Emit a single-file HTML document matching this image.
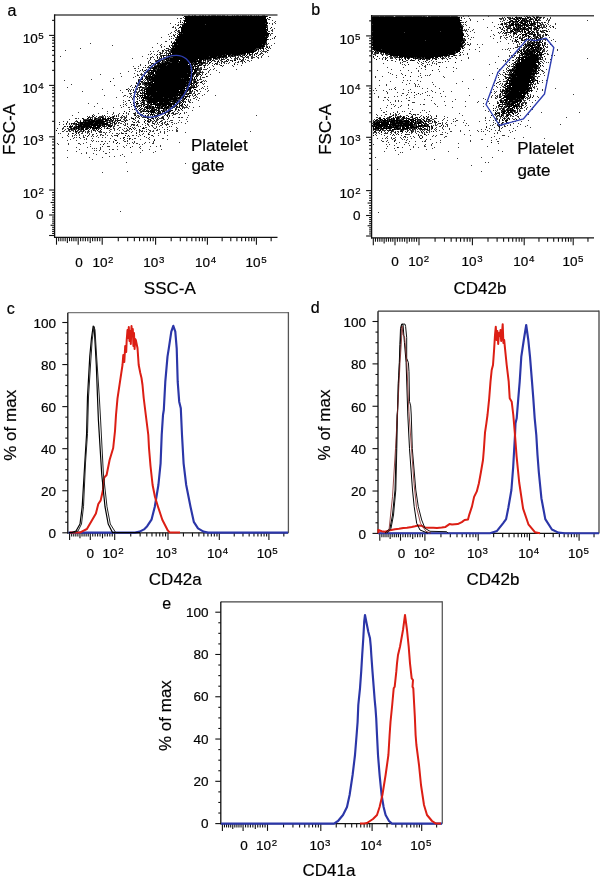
<!DOCTYPE html>
<html><head><meta charset="utf-8"><style>
html,body{margin:0;padding:0;background:#fff;width:600px;height:880px;overflow:hidden}
svg{display:block}
text{font-family:"Liberation Sans",sans-serif;fill:#000;stroke:#000;stroke-width:0.2px}
</style></head><body>
<svg width="600" height="880" viewBox="0 0 600 880">
<defs><filter id="gs" filterUnits="userSpaceOnUse" x="0" y="0" width="600" height="880"><feColorMatrix type="saturate" values="0"/></filter></defs>
<path fill="#000" d="M192 15h1v1h-1zM194 15h2v1h-2zM202 15h2v1h-2zM205 15h1v1h-1zM209 15h1v1h-1zM212 15h4v1h-4zM217 15h1v1h-1zM222 15h1v1h-1zM224 15h1v1h-1zM227 15h1v1h-1zM232 15h1v1h-1zM234 15h1v1h-1zM237 15h1v1h-1zM242 15h1v1h-1zM248 15h1v1h-1zM250 15h2v1h-2zM258 15h1v1h-1zM264 15h1v1h-1zM184 16h83v1h-83zM373 16h6v1h-6zM380 16h4v1h-4zM385 16h8v1h-8zM396 16h7v1h-7zM405 16h7v1h-7zM413 16h9v1h-9zM423 16h2v1h-2zM428 16h2v1h-2zM431 16h7v1h-7zM439 16h11v1h-11zM451 16h6v1h-6zM526 16h1v1h-1zM185 17h81v1h-81zM269 17h1v1h-1zM372 17h88v1h-88zM461 17h1v1h-1zM507 17h1v1h-1zM515 17h2v1h-2zM519 17h1v1h-1zM521 17h1v1h-1zM527 17h2v1h-2zM530 17h1v1h-1zM534 17h1v1h-1zM536 17h2v1h-2zM540 17h1v1h-1zM185 18h81v1h-81zM267 18h1v1h-1zM372 18h87v1h-87zM499 18h1v1h-1zM510 18h1v1h-1zM512 18h1v1h-1zM514 18h1v1h-1zM516 18h2v1h-2zM519 18h2v1h-2zM522 18h2v1h-2zM525 18h1v1h-1zM530 18h1v1h-1zM185 19h82v1h-82zM372 19h88v1h-88zM509 19h1v1h-1zM514 19h2v1h-2zM517 19h1v1h-1zM520 19h1v1h-1zM522 19h1v1h-1zM524 19h1v1h-1zM526 19h1v1h-1zM529 19h3v1h-3zM535 19h2v1h-2zM538 19h1v1h-1zM184 20h83v1h-83zM372 20h89v1h-89zM511 20h2v1h-2zM516 20h1v1h-1zM518 20h2v1h-2zM521 20h4v1h-4zM526 20h2v1h-2zM535 20h3v1h-3zM184 21h83v1h-83zM372 21h88v1h-88zM509 21h2v1h-2zM512 21h2v1h-2zM515 21h4v1h-4zM521 21h1v1h-1zM524 21h2v1h-2zM527 21h1v1h-1zM529 21h1v1h-1zM531 21h1v1h-1zM534 21h1v1h-1zM537 21h1v1h-1zM180 22h1v1h-1zM182 22h1v1h-1zM184 22h1v1h-1zM186 22h81v1h-81zM372 22h89v1h-89zM465 22h1v1h-1zM508 22h2v1h-2zM513 22h1v1h-1zM517 22h1v1h-1zM519 22h4v1h-4zM525 22h2v1h-2zM529 22h1v1h-1zM531 22h1v1h-1zM534 22h1v1h-1zM537 22h1v1h-1zM544 22h1v1h-1zM184 23h81v1h-81zM266 23h2v1h-2zM372 23h89v1h-89zM502 23h1v1h-1zM505 23h1v1h-1zM509 23h1v1h-1zM511 23h3v1h-3zM515 23h1v1h-1zM518 23h1v1h-1zM521 23h5v1h-5zM527 23h1v1h-1zM529 23h1v1h-1zM531 23h4v1h-4zM540 23h1v1h-1zM184 24h21v1h-21zM206 24h61v1h-61zM373 24h88v1h-88zM501 24h2v1h-2zM511 24h3v1h-3zM515 24h4v1h-4zM520 24h1v1h-1zM523 24h4v1h-4zM528 24h1v1h-1zM530 24h3v1h-3zM534 24h2v1h-2zM182 25h85v1h-85zM372 25h89v1h-89zM509 25h5v1h-5zM515 25h2v1h-2zM518 25h5v1h-5zM524 25h1v1h-1zM526 25h2v1h-2zM529 25h4v1h-4zM537 25h2v1h-2zM180 26h1v1h-1zM182 26h84v1h-84zM372 26h90v1h-90zM505 26h2v1h-2zM510 26h1v1h-1zM516 26h1v1h-1zM518 26h1v1h-1zM520 26h1v1h-1zM524 26h1v1h-1zM526 26h2v1h-2zM535 26h1v1h-1zM537 26h3v1h-3zM546 26h1v1h-1zM179 27h1v1h-1zM181 27h86v1h-86zM271 27h1v1h-1zM372 27h91v1h-91zM499 27h1v1h-1zM503 27h1v1h-1zM513 27h2v1h-2zM516 27h1v1h-1zM518 27h3v1h-3zM523 27h3v1h-3zM528 27h2v1h-2zM531 27h1v1h-1zM536 27h2v1h-2zM553 27h1v1h-1zM181 28h85v1h-85zM267 28h1v1h-1zM372 28h88v1h-88zM461 28h2v1h-2zM507 28h3v1h-3zM511 28h1v1h-1zM514 28h1v1h-1zM517 28h2v1h-2zM520 28h2v1h-2zM523 28h2v1h-2zM527 28h1v1h-1zM529 28h3v1h-3zM534 28h2v1h-2zM537 28h1v1h-1zM542 28h1v1h-1zM181 29h87v1h-87zM372 29h90v1h-90zM502 29h1v1h-1zM513 29h6v1h-6zM520 29h1v1h-1zM522 29h5v1h-5zM528 29h1v1h-1zM534 29h3v1h-3zM178 30h1v1h-1zM181 30h85v1h-85zM267 30h1v1h-1zM372 30h91v1h-91zM504 30h1v1h-1zM511 30h2v1h-2zM514 30h2v1h-2zM517 30h1v1h-1zM519 30h1v1h-1zM522 30h1v1h-1zM524 30h1v1h-1zM527 30h2v1h-2zM531 30h1v1h-1zM537 30h1v1h-1zM544 30h1v1h-1zM181 31h86v1h-86zM373 31h67v1h-67zM441 31h21v1h-21zM501 31h1v1h-1zM510 31h4v1h-4zM518 31h3v1h-3zM522 31h1v1h-1zM524 31h2v1h-2zM528 31h3v1h-3zM532 31h2v1h-2zM540 31h2v1h-2zM546 31h2v1h-2zM179 32h88v1h-88zM372 32h32v1h-32zM405 32h58v1h-58zM498 32h1v1h-1zM503 32h1v1h-1zM506 32h1v1h-1zM508 32h2v1h-2zM514 32h1v1h-1zM522 32h1v1h-1zM524 32h2v1h-2zM528 32h2v1h-2zM531 32h1v1h-1zM534 32h1v1h-1zM537 32h1v1h-1zM544 32h1v1h-1zM179 33h1v1h-1zM181 33h1v1h-1zM183 33h87v1h-87zM372 33h91v1h-91zM504 33h1v1h-1zM513 33h3v1h-3zM526 33h1v1h-1zM528 33h1v1h-1zM530 33h1v1h-1zM532 33h1v1h-1zM537 33h1v1h-1zM178 34h91v1h-91zM372 34h92v1h-92zM516 34h1v1h-1zM520 34h1v1h-1zM522 34h5v1h-5zM529 34h1v1h-1zM531 34h1v1h-1zM533 34h3v1h-3zM537 34h1v1h-1zM545 34h2v1h-2zM174 35h1v1h-1zM177 35h1v1h-1zM179 35h89v1h-89zM372 35h92v1h-92zM518 35h1v1h-1zM522 35h2v1h-2zM525 35h1v1h-1zM528 35h1v1h-1zM533 35h2v1h-2zM538 35h1v1h-1zM546 35h1v1h-1zM177 36h88v1h-88zM266 36h1v1h-1zM275 36h1v1h-1zM373 36h90v1h-90zM517 36h1v1h-1zM526 36h1v1h-1zM528 36h2v1h-2zM533 36h1v1h-1zM537 36h1v1h-1zM540 36h1v1h-1zM177 37h91v1h-91zM372 37h91v1h-91zM515 37h1v1h-1zM523 37h1v1h-1zM536 37h2v1h-2zM540 37h1v1h-1zM178 38h89v1h-89zM372 38h91v1h-91zM464 38h1v1h-1zM519 38h1v1h-1zM522 38h1v1h-1zM528 38h1v1h-1zM530 38h1v1h-1zM533 38h1v1h-1zM536 38h1v1h-1zM540 38h1v1h-1zM544 38h2v1h-2zM175 39h93v1h-93zM372 39h91v1h-91zM515 39h1v1h-1zM517 39h1v1h-1zM521 39h1v1h-1zM525 39h1v1h-1zM528 39h1v1h-1zM532 39h1v1h-1zM536 39h2v1h-2zM540 39h2v1h-2zM176 40h91v1h-91zM373 40h52v1h-52zM426 40h38v1h-38zM465 40h1v1h-1zM515 40h2v1h-2zM522 40h1v1h-1zM531 40h1v1h-1zM534 40h2v1h-2zM537 40h1v1h-1zM540 40h1v1h-1zM176 41h90v1h-90zM373 41h89v1h-89zM463 41h1v1h-1zM517 41h1v1h-1zM530 41h1v1h-1zM534 41h1v1h-1zM539 41h1v1h-1zM542 41h1v1h-1zM171 42h1v1h-1zM174 42h92v1h-92zM372 42h89v1h-89zM462 42h3v1h-3zM516 42h1v1h-1zM521 42h1v1h-1zM529 42h1v1h-1zM532 42h1v1h-1zM534 42h1v1h-1zM536 42h4v1h-4zM541 42h1v1h-1zM172 43h93v1h-93zM266 43h1v1h-1zM373 43h90v1h-90zM527 43h1v1h-1zM531 43h3v1h-3zM536 43h1v1h-1zM538 43h1v1h-1zM542 43h1v1h-1zM544 43h1v1h-1zM174 44h3v1h-3zM178 44h84v1h-84zM263 44h2v1h-2zM372 44h90v1h-90zM468 44h1v1h-1zM525 44h1v1h-1zM528 44h3v1h-3zM532 44h2v1h-2zM535 44h2v1h-2zM538 44h1v1h-1zM540 44h1v1h-1zM542 44h1v1h-1zM171 45h1v1h-1zM174 45h90v1h-90zM372 45h90v1h-90zM523 45h1v1h-1zM525 45h1v1h-1zM527 45h8v1h-8zM537 45h3v1h-3zM542 45h1v1h-1zM169 46h1v1h-1zM172 46h93v1h-93zM373 46h90v1h-90zM526 46h1v1h-1zM530 46h3v1h-3zM536 46h1v1h-1zM538 46h2v1h-2zM543 46h1v1h-1zM545 46h1v1h-1zM170 47h1v1h-1zM173 47h1v1h-1zM175 47h86v1h-86zM262 47h1v1h-1zM267 47h1v1h-1zM269 47h1v1h-1zM372 47h88v1h-88zM462 47h1v1h-1zM526 47h1v1h-1zM528 47h2v1h-2zM531 47h8v1h-8zM540 47h1v1h-1zM543 47h1v1h-1zM166 48h1v1h-1zM171 48h85v1h-85zM259 48h2v1h-2zM262 48h2v1h-2zM373 48h88v1h-88zM462 48h1v1h-1zM524 48h1v1h-1zM527 48h2v1h-2zM530 48h4v1h-4zM535 48h1v1h-1zM537 48h2v1h-2zM540 48h2v1h-2zM172 49h83v1h-83zM256 49h1v1h-1zM258 49h1v1h-1zM263 49h1v1h-1zM373 49h8v1h-8zM382 49h79v1h-79zM523 49h2v1h-2zM526 49h2v1h-2zM529 49h1v1h-1zM531 49h1v1h-1zM533 49h4v1h-4zM538 49h1v1h-1zM540 49h1v1h-1zM543 49h1v1h-1zM162 50h1v1h-1zM168 50h1v1h-1zM171 50h83v1h-83zM255 50h2v1h-2zM267 50h1v1h-1zM374 50h1v1h-1zM376 50h84v1h-84zM519 50h1v1h-1zM521 50h1v1h-1zM523 50h1v1h-1zM526 50h4v1h-4zM532 50h3v1h-3zM536 50h2v1h-2zM540 50h1v1h-1zM171 51h84v1h-84zM375 51h1v1h-1zM377 51h1v1h-1zM379 51h76v1h-76zM456 51h4v1h-4zM518 51h1v1h-1zM520 51h2v1h-2zM523 51h3v1h-3zM527 51h8v1h-8zM536 51h4v1h-4zM542 51h1v1h-1zM171 52h83v1h-83zM257 52h1v1h-1zM375 52h1v1h-1zM378 52h1v1h-1zM381 52h1v1h-1zM383 52h72v1h-72zM456 52h2v1h-2zM460 52h1v1h-1zM521 52h1v1h-1zM524 52h4v1h-4zM529 52h4v1h-4zM534 52h2v1h-2zM537 52h4v1h-4zM542 52h1v1h-1zM160 53h1v1h-1zM169 53h2v1h-2zM172 53h74v1h-74zM247 53h1v1h-1zM249 53h1v1h-1zM252 53h1v1h-1zM255 53h1v1h-1zM377 53h1v1h-1zM385 53h3v1h-3zM389 53h66v1h-66zM515 53h1v1h-1zM520 53h2v1h-2zM523 53h10v1h-10zM534 53h1v1h-1zM536 53h2v1h-2zM539 53h1v1h-1zM541 53h1v1h-1zM157 54h1v1h-1zM168 54h1v1h-1zM170 54h1v1h-1zM172 54h53v1h-53zM226 54h5v1h-5zM232 54h8v1h-8zM241 54h1v1h-1zM244 54h1v1h-1zM247 54h1v1h-1zM249 54h2v1h-2zM254 54h1v1h-1zM388 54h60v1h-60zM449 54h5v1h-5zM521 54h3v1h-3zM525 54h11v1h-11zM537 54h1v1h-1zM539 54h3v1h-3zM543 54h1v1h-1zM163 55h2v1h-2zM168 55h3v1h-3zM172 55h50v1h-50zM223 55h4v1h-4zM228 55h2v1h-2zM231 55h2v1h-2zM234 55h2v1h-2zM237 55h1v1h-1zM240 55h1v1h-1zM244 55h1v1h-1zM246 55h1v1h-1zM258 55h1v1h-1zM382 55h1v1h-1zM390 55h59v1h-59zM454 55h1v1h-1zM519 55h1v1h-1zM522 55h1v1h-1zM526 55h3v1h-3zM530 55h9v1h-9zM540 55h2v1h-2zM161 56h1v1h-1zM163 56h1v1h-1zM168 56h1v1h-1zM170 56h39v1h-39zM210 56h7v1h-7zM218 56h9v1h-9zM228 56h1v1h-1zM232 56h1v1h-1zM241 56h1v1h-1zM245 56h1v1h-1zM256 56h1v1h-1zM373 56h1v1h-1zM377 56h1v1h-1zM397 56h1v1h-1zM399 56h42v1h-42zM442 56h1v1h-1zM446 56h1v1h-1zM452 56h1v1h-1zM519 56h1v1h-1zM523 56h4v1h-4zM528 56h10v1h-10zM544 56h1v1h-1zM157 57h1v1h-1zM161 57h1v1h-1zM164 57h1v1h-1zM168 57h2v1h-2zM173 57h43v1h-43zM217 57h4v1h-4zM222 57h2v1h-2zM226 57h1v1h-1zM230 57h1v1h-1zM235 57h1v1h-1zM246 57h1v1h-1zM385 57h1v1h-1zM396 57h1v1h-1zM399 57h2v1h-2zM402 57h1v1h-1zM404 57h2v1h-2zM407 57h3v1h-3zM411 57h3v1h-3zM415 57h1v1h-1zM417 57h4v1h-4zM422 57h2v1h-2zM425 57h9v1h-9zM435 57h3v1h-3zM440 57h1v1h-1zM518 57h20v1h-20zM539 57h1v1h-1zM542 57h1v1h-1zM163 58h2v1h-2zM166 58h3v1h-3zM170 58h41v1h-41zM213 58h4v1h-4zM219 58h1v1h-1zM243 58h1v1h-1zM405 58h1v1h-1zM407 58h2v1h-2zM413 58h1v1h-1zM415 58h3v1h-3zM420 58h2v1h-2zM423 58h1v1h-1zM425 58h5v1h-5zM432 58h1v1h-1zM434 58h1v1h-1zM442 58h1v1h-1zM516 58h1v1h-1zM518 58h2v1h-2zM521 58h3v1h-3zM525 58h14v1h-14zM540 58h1v1h-1zM161 59h1v1h-1zM165 59h2v1h-2zM168 59h1v1h-1zM170 59h28v1h-28zM199 59h5v1h-5zM205 59h1v1h-1zM207 59h1v1h-1zM210 59h1v1h-1zM221 59h2v1h-2zM227 59h1v1h-1zM237 59h1v1h-1zM376 59h1v1h-1zM385 59h1v1h-1zM399 59h1v1h-1zM402 59h1v1h-1zM405 59h1v1h-1zM420 59h1v1h-1zM422 59h1v1h-1zM424 59h1v1h-1zM429 59h1v1h-1zM435 59h2v1h-2zM447 59h1v1h-1zM519 59h20v1h-20zM540 59h1v1h-1zM157 60h4v1h-4zM162 60h1v1h-1zM166 60h13v1h-13zM180 60h16v1h-16zM197 60h1v1h-1zM199 60h3v1h-3zM203 60h1v1h-1zM205 60h1v1h-1zM210 60h1v1h-1zM212 60h1v1h-1zM226 60h1v1h-1zM230 60h1v1h-1zM234 60h2v1h-2zM241 60h1v1h-1zM387 60h1v1h-1zM402 60h1v1h-1zM410 60h1v1h-1zM412 60h2v1h-2zM418 60h1v1h-1zM513 60h1v1h-1zM518 60h2v1h-2zM521 60h17v1h-17zM156 61h1v1h-1zM158 61h1v1h-1zM162 61h1v1h-1zM165 61h1v1h-1zM167 61h1v1h-1zM170 61h31v1h-31zM208 61h1v1h-1zM211 61h1v1h-1zM218 61h1v1h-1zM222 61h1v1h-1zM227 61h1v1h-1zM232 61h1v1h-1zM244 61h1v1h-1zM425 61h1v1h-1zM518 61h2v1h-2zM521 61h15v1h-15zM537 61h2v1h-2zM150 62h1v1h-1zM157 62h3v1h-3zM162 62h1v1h-1zM165 62h5v1h-5zM172 62h6v1h-6zM179 62h14v1h-14zM194 62h2v1h-2zM198 62h4v1h-4zM203 62h2v1h-2zM210 62h1v1h-1zM217 62h1v1h-1zM407 62h1v1h-1zM455 62h1v1h-1zM514 62h2v1h-2zM517 62h1v1h-1zM519 62h21v1h-21zM152 63h1v1h-1zM156 63h5v1h-5zM162 63h28v1h-28zM191 63h1v1h-1zM193 63h1v1h-1zM195 63h4v1h-4zM201 63h2v1h-2zM209 63h1v1h-1zM215 63h1v1h-1zM221 63h1v1h-1zM516 63h20v1h-20zM538 63h1v1h-1zM540 63h1v1h-1zM153 64h1v1h-1zM155 64h1v1h-1zM158 64h1v1h-1zM160 64h7v1h-7zM168 64h20v1h-20zM189 64h4v1h-4zM194 64h3v1h-3zM199 64h1v1h-1zM201 64h1v1h-1zM214 64h1v1h-1zM234 64h1v1h-1zM408 64h1v1h-1zM427 64h1v1h-1zM514 64h1v1h-1zM516 64h21v1h-21zM539 64h1v1h-1zM145 65h1v1h-1zM150 65h1v1h-1zM157 65h9v1h-9zM167 65h24v1h-24zM192 65h1v1h-1zM194 65h1v1h-1zM198 65h3v1h-3zM204 65h1v1h-1zM221 65h1v1h-1zM515 65h23v1h-23zM540 65h1v1h-1zM542 65h1v1h-1zM151 66h1v1h-1zM154 66h36v1h-36zM191 66h1v1h-1zM193 66h1v1h-1zM195 66h2v1h-2zM198 66h1v1h-1zM439 66h1v1h-1zM512 66h1v1h-1zM514 66h1v1h-1zM516 66h22v1h-22zM149 67h1v1h-1zM153 67h4v1h-4zM158 67h36v1h-36zM197 67h1v1h-1zM204 67h1v1h-1zM514 67h23v1h-23zM539 67h1v1h-1zM150 68h1v1h-1zM152 68h5v1h-5zM158 68h1v1h-1zM160 68h30v1h-30zM193 68h1v1h-1zM195 68h3v1h-3zM512 68h1v1h-1zM514 68h1v1h-1zM516 68h17v1h-17zM534 68h4v1h-4zM142 69h1v1h-1zM153 69h2v1h-2zM157 69h39v1h-39zM197 69h1v1h-1zM201 69h1v1h-1zM512 69h2v1h-2zM515 69h19v1h-19zM535 69h2v1h-2zM145 70h1v1h-1zM149 70h7v1h-7zM157 70h33v1h-33zM191 70h2v1h-2zM194 70h3v1h-3zM432 70h1v1h-1zM508 70h29v1h-29zM538 70h1v1h-1zM147 71h1v1h-1zM151 71h1v1h-1zM153 71h40v1h-40zM194 71h3v1h-3zM510 71h1v1h-1zM514 71h22v1h-22zM537 71h1v1h-1zM148 72h1v1h-1zM150 72h4v1h-4zM155 72h37v1h-37zM193 72h3v1h-3zM200 72h1v1h-1zM509 72h1v1h-1zM511 72h1v1h-1zM513 72h19v1h-19zM533 72h1v1h-1zM535 72h1v1h-1zM538 72h1v1h-1zM148 73h2v1h-2zM151 73h3v1h-3zM155 73h32v1h-32zM188 73h7v1h-7zM199 73h1v1h-1zM512 73h2v1h-2zM515 73h23v1h-23zM150 74h2v1h-2zM153 74h2v1h-2zM156 74h34v1h-34zM192 74h2v1h-2zM196 74h2v1h-2zM200 74h1v1h-1zM205 74h1v1h-1zM505 74h1v1h-1zM509 74h26v1h-26zM144 75h1v1h-1zM146 75h1v1h-1zM148 75h1v1h-1zM150 75h1v1h-1zM152 75h39v1h-39zM192 75h1v1h-1zM196 75h1v1h-1zM201 75h1v1h-1zM405 75h1v1h-1zM510 75h21v1h-21zM533 75h1v1h-1zM146 76h1v1h-1zM148 76h5v1h-5zM154 76h39v1h-39zM195 76h1v1h-1zM197 76h1v1h-1zM206 76h1v1h-1zM410 76h1v1h-1zM505 76h1v1h-1zM511 76h5v1h-5zM517 76h16v1h-16zM535 76h1v1h-1zM139 77h1v1h-1zM142 77h1v1h-1zM146 77h2v1h-2zM149 77h40v1h-40zM190 77h2v1h-2zM194 77h1v1h-1zM507 77h1v1h-1zM509 77h2v1h-2zM512 77h22v1h-22zM142 78h1v1h-1zM145 78h1v1h-1zM147 78h3v1h-3zM151 78h30v1h-30zM182 78h1v1h-1zM184 78h9v1h-9zM194 78h1v1h-1zM196 78h1v1h-1zM506 78h1v1h-1zM508 78h24v1h-24zM533 78h2v1h-2zM141 79h2v1h-2zM146 79h2v1h-2zM149 79h42v1h-42zM192 79h1v1h-1zM194 79h2v1h-2zM507 79h2v1h-2zM511 79h19v1h-19zM531 79h3v1h-3zM138 80h1v1h-1zM147 80h1v1h-1zM149 80h2v1h-2zM152 80h38v1h-38zM191 80h1v1h-1zM197 80h1v1h-1zM508 80h25v1h-25zM535 80h3v1h-3zM110 81h1v1h-1zM138 81h1v1h-1zM141 81h2v1h-2zM148 81h1v1h-1zM151 81h35v1h-35zM187 81h1v1h-1zM189 81h3v1h-3zM194 81h2v1h-2zM507 81h1v1h-1zM509 81h22v1h-22zM532 81h2v1h-2zM537 81h1v1h-1zM145 82h2v1h-2zM148 82h5v1h-5zM154 82h38v1h-38zM194 82h2v1h-2zM200 82h2v1h-2zM507 82h1v1h-1zM509 82h1v1h-1zM511 82h22v1h-22zM537 82h1v1h-1zM136 83h1v1h-1zM140 83h1v1h-1zM144 83h7v1h-7zM152 83h36v1h-36zM189 83h1v1h-1zM191 83h2v1h-2zM196 83h1v1h-1zM496 83h1v1h-1zM506 83h23v1h-23zM533 83h1v1h-1zM140 84h1v1h-1zM145 84h2v1h-2zM148 84h38v1h-38zM187 84h5v1h-5zM193 84h1v1h-1zM195 84h1v1h-1zM506 84h1v1h-1zM509 84h20v1h-20zM530 84h1v1h-1zM532 84h1v1h-1zM147 85h1v1h-1zM149 85h41v1h-41zM191 85h1v1h-1zM196 85h1v1h-1zM504 85h2v1h-2zM507 85h24v1h-24zM135 86h1v1h-1zM140 86h1v1h-1zM145 86h2v1h-2zM148 86h2v1h-2zM151 86h35v1h-35zM187 86h1v1h-1zM194 86h1v1h-1zM506 86h2v1h-2zM509 86h2v1h-2zM512 86h17v1h-17zM530 86h1v1h-1zM139 87h2v1h-2zM142 87h2v1h-2zM147 87h38v1h-38zM187 87h9v1h-9zM504 87h1v1h-1zM507 87h21v1h-21zM529 87h1v1h-1zM533 87h1v1h-1zM146 88h42v1h-42zM189 88h2v1h-2zM505 88h27v1h-27zM126 89h1v1h-1zM141 89h1v1h-1zM144 89h39v1h-39zM184 89h1v1h-1zM186 89h5v1h-5zM194 89h2v1h-2zM395 89h1v1h-1zM505 89h3v1h-3zM509 89h20v1h-20zM133 90h1v1h-1zM141 90h1v1h-1zM144 90h1v1h-1zM146 90h33v1h-33zM180 90h8v1h-8zM190 90h1v1h-1zM192 90h1v1h-1zM196 90h1v1h-1zM502 90h3v1h-3zM506 90h4v1h-4zM511 90h15v1h-15zM527 90h2v1h-2zM530 90h2v1h-2zM144 91h1v1h-1zM146 91h10v1h-10zM157 91h27v1h-27zM187 91h1v1h-1zM190 91h1v1h-1zM500 91h1v1h-1zM502 91h1v1h-1zM505 91h14v1h-14zM520 91h5v1h-5zM526 91h2v1h-2zM529 91h1v1h-1zM531 91h1v1h-1zM140 92h1v1h-1zM142 92h1v1h-1zM144 92h1v1h-1zM146 92h39v1h-39zM414 92h1v1h-1zM504 92h1v1h-1zM506 92h2v1h-2zM509 92h19v1h-19zM137 93h1v1h-1zM140 93h2v1h-2zM144 93h34v1h-34zM179 93h6v1h-6zM188 93h3v1h-3zM418 93h1v1h-1zM500 93h1v1h-1zM504 93h3v1h-3zM508 93h18v1h-18zM527 93h1v1h-1zM144 94h1v1h-1zM146 94h34v1h-34zM181 94h3v1h-3zM186 94h1v1h-1zM188 94h1v1h-1zM195 94h1v1h-1zM500 94h1v1h-1zM505 94h1v1h-1zM507 94h15v1h-15zM523 94h2v1h-2zM527 94h1v1h-1zM139 95h4v1h-4zM144 95h2v1h-2zM147 95h3v1h-3zM151 95h33v1h-33zM503 95h2v1h-2zM506 95h19v1h-19zM135 96h1v1h-1zM137 96h1v1h-1zM140 96h1v1h-1zM142 96h1v1h-1zM144 96h5v1h-5zM150 96h26v1h-26zM177 96h1v1h-1zM180 96h1v1h-1zM182 96h2v1h-2zM185 96h3v1h-3zM189 96h1v1h-1zM504 96h21v1h-21zM528 96h1v1h-1zM530 96h1v1h-1zM141 97h11v1h-11zM153 97h10v1h-10zM164 97h9v1h-9zM174 97h3v1h-3zM178 97h6v1h-6zM185 97h1v1h-1zM499 97h2v1h-2zM503 97h22v1h-22zM532 97h1v1h-1zM141 98h1v1h-1zM143 98h25v1h-25zM169 98h12v1h-12zM184 98h2v1h-2zM502 98h2v1h-2zM506 98h10v1h-10zM517 98h3v1h-3zM521 98h3v1h-3zM525 98h1v1h-1zM137 99h1v1h-1zM142 99h2v1h-2zM147 99h30v1h-30zM180 99h1v1h-1zM184 99h1v1h-1zM186 99h1v1h-1zM504 99h14v1h-14zM519 99h2v1h-2zM129 100h1v1h-1zM139 100h1v1h-1zM142 100h3v1h-3zM148 100h23v1h-23zM173 100h5v1h-5zM179 100h1v1h-1zM181 100h1v1h-1zM183 100h1v1h-1zM500 100h2v1h-2zM504 100h4v1h-4zM509 100h4v1h-4zM515 100h7v1h-7zM137 101h1v1h-1zM147 101h22v1h-22zM170 101h6v1h-6zM177 101h3v1h-3zM182 101h1v1h-1zM500 101h2v1h-2zM503 101h1v1h-1zM505 101h2v1h-2zM508 101h11v1h-11zM520 101h2v1h-2zM130 102h1v1h-1zM135 102h1v1h-1zM142 102h2v1h-2zM147 102h10v1h-10zM159 102h4v1h-4zM164 102h6v1h-6zM174 102h3v1h-3zM181 102h1v1h-1zM183 102h1v1h-1zM185 102h1v1h-1zM500 102h3v1h-3zM504 102h3v1h-3zM508 102h2v1h-2zM512 102h6v1h-6zM520 102h1v1h-1zM133 103h1v1h-1zM136 103h3v1h-3zM143 103h2v1h-2zM149 103h1v1h-1zM151 103h1v1h-1zM153 103h3v1h-3zM157 103h18v1h-18zM176 103h1v1h-1zM179 103h1v1h-1zM182 103h1v1h-1zM497 103h1v1h-1zM502 103h1v1h-1zM506 103h4v1h-4zM511 103h4v1h-4zM517 103h1v1h-1zM519 103h1v1h-1zM525 103h1v1h-1zM134 104h1v1h-1zM142 104h1v1h-1zM146 104h1v1h-1zM148 104h1v1h-1zM150 104h22v1h-22zM173 104h2v1h-2zM177 104h1v1h-1zM179 104h1v1h-1zM182 104h1v1h-1zM184 104h1v1h-1zM499 104h2v1h-2zM503 104h3v1h-3zM507 104h7v1h-7zM515 104h1v1h-1zM517 104h2v1h-2zM521 104h1v1h-1zM133 105h1v1h-1zM139 105h1v1h-1zM141 105h1v1h-1zM144 105h1v1h-1zM147 105h1v1h-1zM149 105h1v1h-1zM155 105h6v1h-6zM162 105h5v1h-5zM168 105h4v1h-4zM176 105h1v1h-1zM180 105h2v1h-2zM185 105h1v1h-1zM498 105h2v1h-2zM507 105h1v1h-1zM509 105h1v1h-1zM511 105h6v1h-6zM518 105h1v1h-1zM522 105h1v1h-1zM134 106h2v1h-2zM137 106h1v1h-1zM141 106h1v1h-1zM143 106h1v1h-1zM146 106h2v1h-2zM149 106h2v1h-2zM152 106h2v1h-2zM155 106h1v1h-1zM157 106h1v1h-1zM159 106h1v1h-1zM161 106h3v1h-3zM165 106h1v1h-1zM167 106h2v1h-2zM170 106h3v1h-3zM174 106h1v1h-1zM177 106h1v1h-1zM179 106h1v1h-1zM500 106h3v1h-3zM504 106h1v1h-1zM506 106h6v1h-6zM513 106h5v1h-5zM519 106h1v1h-1zM521 106h1v1h-1zM140 107h1v1h-1zM145 107h3v1h-3zM149 107h2v1h-2zM152 107h2v1h-2zM155 107h5v1h-5zM161 107h2v1h-2zM164 107h5v1h-5zM172 107h2v1h-2zM176 107h1v1h-1zM179 107h1v1h-1zM505 107h1v1h-1zM508 107h2v1h-2zM512 107h3v1h-3zM516 107h1v1h-1zM521 107h1v1h-1zM136 108h1v1h-1zM139 108h1v1h-1zM142 108h1v1h-1zM146 108h3v1h-3zM150 108h1v1h-1zM152 108h2v1h-2zM158 108h2v1h-2zM161 108h4v1h-4zM166 108h2v1h-2zM170 108h1v1h-1zM180 108h1v1h-1zM182 108h1v1h-1zM493 108h1v1h-1zM503 108h1v1h-1zM507 108h2v1h-2zM510 108h3v1h-3zM514 108h1v1h-1zM516 108h1v1h-1zM520 108h1v1h-1zM134 109h1v1h-1zM140 109h1v1h-1zM144 109h1v1h-1zM151 109h2v1h-2zM154 109h3v1h-3zM158 109h1v1h-1zM163 109h1v1h-1zM166 109h1v1h-1zM175 109h1v1h-1zM178 109h1v1h-1zM181 109h1v1h-1zM502 109h2v1h-2zM506 109h2v1h-2zM510 109h1v1h-1zM512 109h1v1h-1zM517 109h1v1h-1zM139 110h1v1h-1zM146 110h1v1h-1zM150 110h5v1h-5zM157 110h2v1h-2zM161 110h1v1h-1zM163 110h1v1h-1zM169 110h1v1h-1zM171 110h2v1h-2zM493 110h1v1h-1zM501 110h1v1h-1zM504 110h1v1h-1zM507 110h8v1h-8zM124 111h1v1h-1zM129 111h1v1h-1zM137 111h1v1h-1zM141 111h1v1h-1zM143 111h1v1h-1zM145 111h1v1h-1zM147 111h8v1h-8zM158 111h2v1h-2zM162 111h3v1h-3zM169 111h2v1h-2zM502 111h4v1h-4zM507 111h2v1h-2zM510 111h2v1h-2zM514 111h1v1h-1zM517 111h1v1h-1zM148 112h1v1h-1zM151 112h4v1h-4zM158 112h1v1h-1zM160 112h1v1h-1zM164 112h1v1h-1zM166 112h1v1h-1zM168 112h1v1h-1zM495 112h1v1h-1zM501 112h1v1h-1zM503 112h2v1h-2zM506 112h1v1h-1zM508 112h5v1h-5zM516 112h1v1h-1zM123 113h1v1h-1zM134 113h1v1h-1zM139 113h1v1h-1zM143 113h1v1h-1zM151 113h1v1h-1zM158 113h3v1h-3zM162 113h1v1h-1zM164 113h1v1h-1zM168 113h1v1h-1zM173 113h1v1h-1zM180 113h1v1h-1zM409 113h1v1h-1zM495 113h2v1h-2zM498 113h2v1h-2zM502 113h3v1h-3zM508 113h1v1h-1zM512 113h2v1h-2zM518 113h1v1h-1zM140 114h2v1h-2zM148 114h1v1h-1zM150 114h3v1h-3zM157 114h1v1h-1zM160 114h2v1h-2zM165 114h1v1h-1zM413 114h1v1h-1zM499 114h1v1h-1zM501 114h1v1h-1zM507 114h1v1h-1zM509 114h1v1h-1zM513 114h1v1h-1zM517 114h1v1h-1zM92 115h1v1h-1zM104 115h1v1h-1zM122 115h1v1h-1zM135 115h1v1h-1zM145 115h1v1h-1zM152 115h1v1h-1zM154 115h1v1h-1zM156 115h1v1h-1zM158 115h1v1h-1zM167 115h1v1h-1zM169 115h1v1h-1zM393 115h1v1h-1zM491 115h1v1h-1zM498 115h1v1h-1zM501 115h2v1h-2zM506 115h3v1h-3zM93 116h1v1h-1zM113 116h1v1h-1zM116 116h1v1h-1zM143 116h1v1h-1zM145 116h1v1h-1zM155 116h3v1h-3zM167 116h1v1h-1zM391 116h1v1h-1zM400 116h1v1h-1zM403 116h1v1h-1zM408 116h1v1h-1zM412 116h1v1h-1zM426 116h1v1h-1zM436 116h1v1h-1zM501 116h1v1h-1zM507 116h1v1h-1zM88 117h1v1h-1zM98 117h1v1h-1zM101 117h2v1h-2zM110 117h1v1h-1zM113 117h1v1h-1zM145 117h1v1h-1zM147 117h1v1h-1zM152 117h1v1h-1zM162 117h1v1h-1zM179 117h1v1h-1zM389 117h1v1h-1zM393 117h1v1h-1zM395 117h1v1h-1zM397 117h2v1h-2zM402 117h3v1h-3zM406 117h1v1h-1zM412 117h1v1h-1zM416 117h1v1h-1zM419 117h1v1h-1zM82 118h1v1h-1zM87 118h1v1h-1zM90 118h1v1h-1zM95 118h2v1h-2zM100 118h1v1h-1zM102 118h2v1h-2zM105 118h1v1h-1zM107 118h4v1h-4zM114 118h1v1h-1zM132 118h2v1h-2zM139 118h1v1h-1zM147 118h1v1h-1zM152 118h2v1h-2zM157 118h1v1h-1zM163 118h1v1h-1zM379 118h2v1h-2zM383 118h2v1h-2zM386 118h1v1h-1zM391 118h1v1h-1zM393 118h2v1h-2zM396 118h3v1h-3zM403 118h2v1h-2zM407 118h2v1h-2zM414 118h1v1h-1zM417 118h1v1h-1zM421 118h1v1h-1zM424 118h1v1h-1zM504 118h1v1h-1zM508 118h1v1h-1zM83 119h1v1h-1zM89 119h3v1h-3zM94 119h2v1h-2zM98 119h3v1h-3zM102 119h5v1h-5zM108 119h1v1h-1zM110 119h2v1h-2zM113 119h1v1h-1zM117 119h1v1h-1zM150 119h1v1h-1zM377 119h1v1h-1zM380 119h2v1h-2zM384 119h2v1h-2zM387 119h1v1h-1zM389 119h3v1h-3zM393 119h2v1h-2zM396 119h2v1h-2zM402 119h2v1h-2zM406 119h1v1h-1zM409 119h5v1h-5zM415 119h1v1h-1zM418 119h3v1h-3zM423 119h1v1h-1zM428 119h2v1h-2zM502 119h1v1h-1zM509 119h1v1h-1zM516 119h1v1h-1zM84 120h6v1h-6zM91 120h4v1h-4zM96 120h7v1h-7zM105 120h3v1h-3zM109 120h1v1h-1zM112 120h1v1h-1zM115 120h1v1h-1zM118 120h3v1h-3zM145 120h1v1h-1zM150 120h1v1h-1zM154 120h1v1h-1zM375 120h2v1h-2zM378 120h1v1h-1zM380 120h1v1h-1zM382 120h6v1h-6zM389 120h1v1h-1zM391 120h11v1h-11zM404 120h5v1h-5zM410 120h2v1h-2zM413 120h3v1h-3zM417 120h1v1h-1zM420 120h1v1h-1zM424 120h1v1h-1zM426 120h1v1h-1zM499 120h1v1h-1zM502 120h1v1h-1zM505 120h3v1h-3zM77 121h1v1h-1zM80 121h1v1h-1zM83 121h1v1h-1zM85 121h1v1h-1zM88 121h18v1h-18zM112 121h1v1h-1zM117 121h1v1h-1zM125 121h1v1h-1zM144 121h1v1h-1zM147 121h2v1h-2zM160 121h1v1h-1zM374 121h1v1h-1zM377 121h1v1h-1zM379 121h1v1h-1zM381 121h1v1h-1zM383 121h3v1h-3zM387 121h8v1h-8zM396 121h2v1h-2zM399 121h11v1h-11zM411 121h3v1h-3zM415 121h1v1h-1zM417 121h1v1h-1zM420 121h2v1h-2zM424 121h2v1h-2zM432 121h1v1h-1zM434 121h1v1h-1zM506 121h1v1h-1zM78 122h1v1h-1zM80 122h14v1h-14zM95 122h9v1h-9zM107 122h1v1h-1zM109 122h1v1h-1zM114 122h1v1h-1zM134 122h1v1h-1zM159 122h1v1h-1zM373 122h2v1h-2zM376 122h13v1h-13zM390 122h5v1h-5zM396 122h7v1h-7zM405 122h4v1h-4zM410 122h2v1h-2zM413 122h1v1h-1zM415 122h1v1h-1zM418 122h3v1h-3zM422 122h2v1h-2zM428 122h1v1h-1zM436 122h1v1h-1zM502 122h1v1h-1zM506 122h1v1h-1zM66 123h1v1h-1zM71 123h1v1h-1zM73 123h2v1h-2zM76 123h1v1h-1zM80 123h3v1h-3zM84 123h9v1h-9zM94 123h14v1h-14zM110 123h1v1h-1zM114 123h1v1h-1zM153 123h1v1h-1zM167 123h1v1h-1zM374 123h6v1h-6zM381 123h8v1h-8zM390 123h1v1h-1zM392 123h17v1h-17zM410 123h3v1h-3zM414 123h2v1h-2zM417 123h4v1h-4zM423 123h1v1h-1zM425 123h2v1h-2zM440 123h1v1h-1zM76 124h3v1h-3zM80 124h18v1h-18zM99 124h2v1h-2zM102 124h6v1h-6zM132 124h1v1h-1zM137 124h1v1h-1zM162 124h1v1h-1zM373 124h23v1h-23zM398 124h1v1h-1zM400 124h2v1h-2zM403 124h10v1h-10zM414 124h1v1h-1zM418 124h1v1h-1zM421 124h1v1h-1zM424 124h1v1h-1zM427 124h1v1h-1zM499 124h1v1h-1zM503 124h1v1h-1zM78 125h4v1h-4zM83 125h7v1h-7zM91 125h10v1h-10zM102 125h1v1h-1zM104 125h1v1h-1zM108 125h2v1h-2zM111 125h1v1h-1zM372 125h1v1h-1zM374 125h1v1h-1zM376 125h12v1h-12zM389 125h2v1h-2zM392 125h21v1h-21zM416 125h1v1h-1zM418 125h8v1h-8zM427 125h1v1h-1zM441 125h1v1h-1zM499 125h1v1h-1zM64 126h1v1h-1zM67 126h1v1h-1zM69 126h4v1h-4zM76 126h16v1h-16zM93 126h3v1h-3zM97 126h4v1h-4zM103 126h2v1h-2zM108 126h4v1h-4zM127 126h1v1h-1zM373 126h4v1h-4zM378 126h5v1h-5zM384 126h8v1h-8zM393 126h1v1h-1zM395 126h4v1h-4zM400 126h1v1h-1zM402 126h2v1h-2zM405 126h4v1h-4zM410 126h4v1h-4zM416 126h6v1h-6zM424 126h3v1h-3zM428 126h2v1h-2zM431 126h1v1h-1zM499 126h1v1h-1zM70 127h1v1h-1zM74 127h3v1h-3zM78 127h2v1h-2zM81 127h4v1h-4zM86 127h2v1h-2zM89 127h5v1h-5zM95 127h5v1h-5zM101 127h1v1h-1zM107 127h1v1h-1zM143 127h1v1h-1zM373 127h1v1h-1zM375 127h4v1h-4zM380 127h2v1h-2zM383 127h2v1h-2zM386 127h1v1h-1zM388 127h10v1h-10zM400 127h1v1h-1zM402 127h3v1h-3zM406 127h3v1h-3zM410 127h7v1h-7zM423 127h1v1h-1zM429 127h1v1h-1zM432 127h1v1h-1zM486 127h1v1h-1zM499 127h1v1h-1zM71 128h1v1h-1zM73 128h2v1h-2zM76 128h3v1h-3zM81 128h3v1h-3zM86 128h3v1h-3zM90 128h1v1h-1zM92 128h6v1h-6zM100 128h1v1h-1zM107 128h1v1h-1zM130 128h1v1h-1zM133 128h1v1h-1zM142 128h2v1h-2zM373 128h1v1h-1zM375 128h5v1h-5zM381 128h10v1h-10zM394 128h1v1h-1zM396 128h5v1h-5zM402 128h7v1h-7zM411 128h1v1h-1zM414 128h1v1h-1zM416 128h1v1h-1zM418 128h1v1h-1zM420 128h2v1h-2zM424 128h1v1h-1zM432 128h1v1h-1zM69 129h1v1h-1zM71 129h1v1h-1zM74 129h1v1h-1zM78 129h2v1h-2zM81 129h3v1h-3zM85 129h2v1h-2zM96 129h1v1h-1zM98 129h1v1h-1zM101 129h1v1h-1zM131 129h1v1h-1zM139 129h1v1h-1zM167 129h1v1h-1zM373 129h3v1h-3zM378 129h1v1h-1zM380 129h1v1h-1zM382 129h1v1h-1zM386 129h1v1h-1zM392 129h4v1h-4zM397 129h2v1h-2zM401 129h3v1h-3zM405 129h1v1h-1zM407 129h1v1h-1zM409 129h1v1h-1zM412 129h1v1h-1zM421 129h1v1h-1zM423 129h1v1h-1zM426 129h2v1h-2zM429 129h1v1h-1zM56 130h1v1h-1zM75 130h1v1h-1zM83 130h1v1h-1zM88 130h1v1h-1zM93 130h1v1h-1zM97 130h1v1h-1zM100 130h1v1h-1zM379 130h2v1h-2zM387 130h1v1h-1zM389 130h2v1h-2zM392 130h1v1h-1zM401 130h1v1h-1zM75 131h2v1h-2zM83 131h1v1h-1zM141 131h1v1h-1zM146 131h1v1h-1zM374 131h2v1h-2zM381 131h1v1h-1zM391 131h1v1h-1zM400 131h3v1h-3zM407 131h1v1h-1zM411 131h1v1h-1zM421 131h1v1h-1zM433 131h1v1h-1zM78 132h1v1h-1zM381 132h1v1h-1zM395 132h1v1h-1zM72 133h1v1h-1zM76 133h1v1h-1zM96 133h1v1h-1zM122 133h1v1h-1zM126 133h1v1h-1zM136 133h1v1h-1zM148 134h1v1h-1zM393 134h1v1h-1zM398 134h1v1h-1zM405 134h1v1h-1zM424 134h1v1h-1zM88 135h1v1h-1zM117 135h1v1h-1zM125 135h1v1h-1zM128 135h1v1h-1zM152 135h1v1h-1zM373 135h1v1h-1zM418 135h1v1h-1zM87 136h1v1h-1zM144 136h1v1h-1zM404 136h1v1h-1zM79 137h1v1h-1zM124 137h1v1h-1zM422 137h1v1h-1zM123 138h1v1h-1zM129 138h1v1h-1zM420 138h1v1h-1zM115 140h1v1h-1zM154 140h1v1h-1zM394 141h1v1h-1zM117 142h1v1h-1zM491 142h1v1h-1zM116 143h1v1h-1zM103 144h1v1h-1zM130 147h1v1h-1zM397 147h1v1h-1z"/>
<path fill="#3a3a3a" d="M182 15h1v1h-1zM188 15h2v1h-2zM199 15h2v1h-2zM208 15h1v1h-1zM211 15h1v1h-1zM218 15h3v1h-3zM223 15h1v1h-1zM236 15h1v1h-1zM238 15h1v1h-1zM240 15h1v1h-1zM243 15h4v1h-4zM254 15h1v1h-1zM256 15h1v1h-1zM262 15h2v1h-2zM267 16h1v1h-1zM372 16h1v1h-1zM379 16h1v1h-1zM384 16h1v1h-1zM393 16h1v1h-1zM395 16h1v1h-1zM403 16h2v1h-2zM412 16h1v1h-1zM422 16h1v1h-1zM425 16h2v1h-2zM430 16h1v1h-1zM438 16h1v1h-1zM450 16h1v1h-1zM457 16h1v1h-1zM463 16h1v1h-1zM468 16h1v1h-1zM488 16h1v1h-1zM516 16h1v1h-1zM524 16h1v1h-1zM527 16h1v1h-1zM529 16h1v1h-1zM532 16h2v1h-2zM536 16h3v1h-3zM183 17h1v1h-1zM270 17h1v1h-1zM502 17h1v1h-1zM504 17h1v1h-1zM508 17h3v1h-3zM512 17h1v1h-1zM517 17h2v1h-2zM520 17h1v1h-1zM525 17h1v1h-1zM529 17h1v1h-1zM533 17h1v1h-1zM538 17h2v1h-2zM541 17h1v1h-1zM543 17h2v1h-2zM550 17h1v1h-1zM177 18h1v1h-1zM180 18h2v1h-2zM184 18h1v1h-1zM459 18h1v1h-1zM461 18h1v1h-1zM464 18h1v1h-1zM469 18h1v1h-1zM500 18h4v1h-4zM505 18h1v1h-1zM508 18h2v1h-2zM511 18h1v1h-1zM513 18h1v1h-1zM518 18h1v1h-1zM521 18h1v1h-1zM524 18h1v1h-1zM526 18h3v1h-3zM531 18h2v1h-2zM534 18h4v1h-4zM539 18h2v1h-2zM543 18h1v1h-1zM547 18h1v1h-1zM550 18h1v1h-1zM268 19h2v1h-2zM470 19h1v1h-1zM483 19h1v1h-1zM500 19h2v1h-2zM503 19h1v1h-1zM505 19h1v1h-1zM510 19h1v1h-1zM513 19h1v1h-1zM516 19h1v1h-1zM518 19h1v1h-1zM523 19h1v1h-1zM525 19h1v1h-1zM532 19h2v1h-2zM539 19h1v1h-1zM547 19h1v1h-1zM549 19h1v1h-1zM180 20h1v1h-1zM183 20h1v1h-1zM272 20h1v1h-1zM461 20h1v1h-1zM470 20h1v1h-1zM503 20h2v1h-2zM507 20h1v1h-1zM510 20h1v1h-1zM515 20h1v1h-1zM525 20h1v1h-1zM528 20h3v1h-3zM533 20h1v1h-1zM538 20h3v1h-3zM546 20h1v1h-1zM548 20h2v1h-2zM587 20h1v1h-1zM180 21h1v1h-1zM275 21h1v1h-1zM466 21h1v1h-1zM477 21h1v1h-1zM500 21h1v1h-1zM502 21h1v1h-1zM511 21h1v1h-1zM514 21h1v1h-1zM520 21h1v1h-1zM522 21h2v1h-2zM526 21h1v1h-1zM528 21h1v1h-1zM530 21h1v1h-1zM533 21h1v1h-1zM548 21h1v1h-1zM178 22h1v1h-1zM267 22h1v1h-1zM274 22h1v1h-1zM461 22h3v1h-3zM492 22h1v1h-1zM504 22h1v1h-1zM506 22h2v1h-2zM510 22h1v1h-1zM512 22h1v1h-1zM514 22h3v1h-3zM524 22h1v1h-1zM527 22h1v1h-1zM533 22h1v1h-1zM535 22h2v1h-2zM538 22h2v1h-2zM541 22h2v1h-2zM545 22h1v1h-1zM548 22h1v1h-1zM170 23h1v1h-1zM183 23h1v1h-1zM265 23h1v1h-1zM269 23h1v1h-1zM272 23h1v1h-1zM275 23h1v1h-1zM501 23h1v1h-1zM504 23h1v1h-1zM506 23h1v1h-1zM516 23h2v1h-2zM520 23h1v1h-1zM530 23h1v1h-1zM535 23h1v1h-1zM537 23h1v1h-1zM539 23h1v1h-1zM542 23h1v1h-1zM547 23h1v1h-1zM555 23h1v1h-1zM175 24h1v1h-1zM178 24h1v1h-1zM180 24h4v1h-4zM205 24h1v1h-1zM272 24h1v1h-1zM372 24h1v1h-1zM461 24h1v1h-1zM463 24h1v1h-1zM465 24h1v1h-1zM498 24h1v1h-1zM500 24h1v1h-1zM504 24h4v1h-4zM509 24h2v1h-2zM514 24h1v1h-1zM519 24h1v1h-1zM522 24h1v1h-1zM527 24h1v1h-1zM533 24h1v1h-1zM537 24h1v1h-1zM540 24h4v1h-4zM545 24h1v1h-1zM548 24h1v1h-1zM555 24h1v1h-1zM177 25h2v1h-2zM267 25h1v1h-1zM461 25h2v1h-2zM466 25h1v1h-1zM502 25h1v1h-1zM506 25h1v1h-1zM508 25h1v1h-1zM517 25h1v1h-1zM523 25h1v1h-1zM525 25h1v1h-1zM528 25h1v1h-1zM533 25h2v1h-2zM539 25h3v1h-3zM543 25h2v1h-2zM546 25h1v1h-1zM550 25h1v1h-1zM173 26h1v1h-1zM266 26h2v1h-2zM462 26h2v1h-2zM494 26h1v1h-1zM503 26h1v1h-1zM507 26h3v1h-3zM513 26h1v1h-1zM515 26h1v1h-1zM517 26h1v1h-1zM519 26h1v1h-1zM521 26h2v1h-2zM528 26h1v1h-1zM531 26h1v1h-1zM533 26h2v1h-2zM541 26h1v1h-1zM543 26h2v1h-2zM549 26h1v1h-1zM552 26h2v1h-2zM172 27h2v1h-2zM175 27h1v1h-1zM180 27h1v1h-1zM267 27h1v1h-1zM469 27h1v1h-1zM487 27h1v1h-1zM500 27h1v1h-1zM506 27h5v1h-5zM517 27h1v1h-1zM522 27h1v1h-1zM530 27h1v1h-1zM534 27h2v1h-2zM539 27h7v1h-7zM550 27h1v1h-1zM175 28h1v1h-1zM178 28h1v1h-1zM270 28h1v1h-1zM274 28h1v1h-1zM460 28h1v1h-1zM497 28h1v1h-1zM500 28h1v1h-1zM502 28h1v1h-1zM504 28h1v1h-1zM510 28h1v1h-1zM513 28h1v1h-1zM515 28h2v1h-2zM519 28h1v1h-1zM522 28h1v1h-1zM525 28h2v1h-2zM528 28h1v1h-1zM533 28h1v1h-1zM536 28h1v1h-1zM538 28h2v1h-2zM546 28h1v1h-1zM555 28h1v1h-1zM176 29h1v1h-1zM272 29h1v1h-1zM462 29h1v1h-1zM464 29h1v1h-1zM466 29h1v1h-1zM468 29h1v1h-1zM473 29h1v1h-1zM501 29h1v1h-1zM506 29h2v1h-2zM510 29h1v1h-1zM512 29h1v1h-1zM519 29h1v1h-1zM521 29h1v1h-1zM527 29h1v1h-1zM530 29h2v1h-2zM533 29h1v1h-1zM538 29h1v1h-1zM548 29h1v1h-1zM175 30h2v1h-2zM179 30h1v1h-1zM266 30h1v1h-1zM271 30h2v1h-2zM463 30h4v1h-4zM472 30h1v1h-1zM491 30h1v1h-1zM503 30h1v1h-1zM506 30h2v1h-2zM510 30h1v1h-1zM516 30h1v1h-1zM518 30h1v1h-1zM521 30h1v1h-1zM526 30h1v1h-1zM534 30h1v1h-1zM536 30h1v1h-1zM538 30h1v1h-1zM540 30h1v1h-1zM542 30h2v1h-2zM545 30h2v1h-2zM174 31h1v1h-1zM177 31h3v1h-3zM268 31h2v1h-2zM272 31h1v1h-1zM372 31h1v1h-1zM440 31h1v1h-1zM462 31h1v1h-1zM465 31h1v1h-1zM467 31h1v1h-1zM470 31h1v1h-1zM504 31h1v1h-1zM507 31h1v1h-1zM515 31h3v1h-3zM521 31h1v1h-1zM536 31h2v1h-2zM542 31h2v1h-2zM549 31h1v1h-1zM171 32h1v1h-1zM175 32h1v1h-1zM178 32h1v1h-1zM267 32h1v1h-1zM404 32h1v1h-1zM474 32h1v1h-1zM500 32h1v1h-1zM505 32h1v1h-1zM507 32h1v1h-1zM510 32h2v1h-2zM513 32h1v1h-1zM515 32h3v1h-3zM520 32h1v1h-1zM527 32h1v1h-1zM532 32h2v1h-2zM536 32h1v1h-1zM538 32h1v1h-1zM541 32h3v1h-3zM170 33h1v1h-1zM177 33h1v1h-1zM180 33h1v1h-1zM182 33h1v1h-1zM271 33h2v1h-2zM463 33h1v1h-1zM466 33h1v1h-1zM499 33h1v1h-1zM502 33h1v1h-1zM505 33h2v1h-2zM510 33h1v1h-1zM516 33h1v1h-1zM521 33h1v1h-1zM525 33h1v1h-1zM527 33h1v1h-1zM529 33h1v1h-1zM531 33h1v1h-1zM534 33h1v1h-1zM538 33h1v1h-1zM545 33h1v1h-1zM168 34h1v1h-1zM173 34h1v1h-1zM175 34h1v1h-1zM270 34h1v1h-1zM467 34h1v1h-1zM493 34h1v1h-1zM506 34h1v1h-1zM508 34h1v1h-1zM513 34h2v1h-2zM519 34h1v1h-1zM530 34h1v1h-1zM532 34h1v1h-1zM538 34h3v1h-3zM543 34h1v1h-1zM547 34h1v1h-1zM173 35h1v1h-1zM268 35h1v1h-1zM270 35h1v1h-1zM468 35h1v1h-1zM494 35h1v1h-1zM503 35h1v1h-1zM505 35h2v1h-2zM510 35h1v1h-1zM513 35h1v1h-1zM526 35h2v1h-2zM535 35h1v1h-1zM537 35h1v1h-1zM539 35h2v1h-2zM542 35h2v1h-2zM545 35h1v1h-1zM548 35h1v1h-1zM169 36h1v1h-1zM171 36h1v1h-1zM174 36h1v1h-1zM265 36h1v1h-1zM267 36h2v1h-2zM372 36h1v1h-1zM464 36h2v1h-2zM467 36h1v1h-1zM490 36h1v1h-1zM500 36h2v1h-2zM509 36h1v1h-1zM511 36h1v1h-1zM513 36h1v1h-1zM520 36h1v1h-1zM522 36h1v1h-1zM524 36h2v1h-2zM530 36h1v1h-1zM534 36h3v1h-3zM539 36h1v1h-1zM542 36h2v1h-2zM161 37h1v1h-1zM175 37h2v1h-2zM274 37h1v1h-1zM471 37h1v1h-1zM473 37h1v1h-1zM500 37h1v1h-1zM504 37h1v1h-1zM506 37h2v1h-2zM511 37h1v1h-1zM516 37h2v1h-2zM519 37h2v1h-2zM522 37h1v1h-1zM524 37h1v1h-1zM528 37h2v1h-2zM531 37h1v1h-1zM534 37h2v1h-2zM538 37h1v1h-1zM541 37h2v1h-2zM549 37h1v1h-1zM171 38h1v1h-1zM173 38h1v1h-1zM176 38h2v1h-2zM272 38h1v1h-1zM274 38h1v1h-1zM463 38h1v1h-1zM468 38h1v1h-1zM493 38h1v1h-1zM500 38h1v1h-1zM505 38h1v1h-1zM513 38h1v1h-1zM520 38h2v1h-2zM526 38h1v1h-1zM532 38h1v1h-1zM534 38h2v1h-2zM538 38h2v1h-2zM541 38h1v1h-1zM543 38h1v1h-1zM169 39h1v1h-1zM268 39h1v1h-1zM270 39h1v1h-1zM463 39h3v1h-3zM470 39h1v1h-1zM506 39h1v1h-1zM510 39h1v1h-1zM522 39h1v1h-1zM524 39h1v1h-1zM526 39h1v1h-1zM531 39h1v1h-1zM534 39h1v1h-1zM538 39h2v1h-2zM543 39h5v1h-5zM553 39h1v1h-1zM175 40h1v1h-1zM372 40h1v1h-1zM425 40h1v1h-1zM464 40h1v1h-1zM512 40h1v1h-1zM521 40h1v1h-1zM523 40h2v1h-2zM528 40h2v1h-2zM532 40h2v1h-2zM536 40h1v1h-1zM538 40h2v1h-2zM542 40h1v1h-1zM545 40h1v1h-1zM547 40h1v1h-1zM551 40h1v1h-1zM165 41h2v1h-2zM171 41h1v1h-1zM174 41h1v1h-1zM266 41h1v1h-1zM372 41h1v1h-1zM462 41h1v1h-1zM464 41h1v1h-1zM500 41h1v1h-1zM512 41h1v1h-1zM514 41h3v1h-3zM518 41h1v1h-1zM524 41h2v1h-2zM527 41h2v1h-2zM531 41h1v1h-1zM533 41h1v1h-1zM536 41h2v1h-2zM540 41h1v1h-1zM555 41h1v1h-1zM173 42h1v1h-1zM266 42h1v1h-1zM461 42h1v1h-1zM467 42h1v1h-1zM497 42h1v1h-1zM518 42h1v1h-1zM527 42h2v1h-2zM530 42h2v1h-2zM533 42h1v1h-1zM535 42h1v1h-1zM540 42h1v1h-1zM544 42h2v1h-2zM90 43h1v1h-1zM157 43h1v1h-1zM265 43h1v1h-1zM268 43h1v1h-1zM274 43h1v1h-1zM372 43h1v1h-1zM463 43h1v1h-1zM465 43h1v1h-1zM470 43h1v1h-1zM508 43h1v1h-1zM513 43h1v1h-1zM519 43h1v1h-1zM525 43h1v1h-1zM528 43h3v1h-3zM534 43h1v1h-1zM537 43h1v1h-1zM539 43h1v1h-1zM545 43h1v1h-1zM161 44h1v1h-1zM172 44h1v1h-1zM177 44h1v1h-1zM262 44h1v1h-1zM265 44h3v1h-3zM462 44h1v1h-1zM464 44h2v1h-2zM467 44h1v1h-1zM470 44h1v1h-1zM477 44h1v1h-1zM482 44h1v1h-1zM517 44h1v1h-1zM519 44h1v1h-1zM524 44h1v1h-1zM526 44h2v1h-2zM534 44h1v1h-1zM537 44h1v1h-1zM539 44h1v1h-1zM544 44h2v1h-2zM547 44h1v1h-1zM550 44h1v1h-1zM112 45h1v1h-1zM160 45h1v1h-1zM169 45h1v1h-1zM172 45h2v1h-2zM264 45h1v1h-1zM266 45h1v1h-1zM271 45h1v1h-1zM462 45h3v1h-3zM469 45h1v1h-1zM517 45h1v1h-1zM526 45h1v1h-1zM535 45h1v1h-1zM540 45h1v1h-1zM543 45h2v1h-2zM161 46h1v1h-1zM164 46h1v1h-1zM266 46h2v1h-2zM269 46h1v1h-1zM463 46h1v1h-1zM517 46h3v1h-3zM524 46h2v1h-2zM527 46h3v1h-3zM534 46h2v1h-2zM537 46h1v1h-1zM547 46h1v1h-1zM152 47h1v1h-1zM161 47h1v1h-1zM172 47h1v1h-1zM174 47h1v1h-1zM261 47h1v1h-1zM263 47h1v1h-1zM266 47h1v1h-1zM460 47h2v1h-2zM464 47h1v1h-1zM479 47h1v1h-1zM515 47h3v1h-3zM521 47h1v1h-1zM523 47h3v1h-3zM539 47h1v1h-1zM541 47h1v1h-1zM546 47h2v1h-2zM80 48h1v1h-1zM167 48h2v1h-2zM256 48h3v1h-3zM261 48h1v1h-1zM265 48h1v1h-1zM268 48h1v1h-1zM270 48h1v1h-1zM372 48h1v1h-1zM463 48h1v1h-1zM508 48h1v1h-1zM510 48h1v1h-1zM513 48h1v1h-1zM519 48h1v1h-1zM523 48h1v1h-1zM525 48h1v1h-1zM536 48h1v1h-1zM539 48h1v1h-1zM542 48h1v1h-1zM544 48h1v1h-1zM164 49h1v1h-1zM168 49h4v1h-4zM255 49h1v1h-1zM257 49h1v1h-1zM260 49h1v1h-1zM266 49h1v1h-1zM372 49h1v1h-1zM381 49h1v1h-1zM469 49h1v1h-1zM475 49h1v1h-1zM502 49h1v1h-1zM505 49h1v1h-1zM507 49h1v1h-1zM518 49h2v1h-2zM521 49h2v1h-2zM528 49h1v1h-1zM530 49h1v1h-1zM532 49h1v1h-1zM537 49h1v1h-1zM539 49h1v1h-1zM541 49h1v1h-1zM544 49h1v1h-1zM557 49h1v1h-1zM65 50h1v1h-1zM158 50h1v1h-1zM163 50h1v1h-1zM165 50h3v1h-3zM170 50h1v1h-1zM254 50h1v1h-1zM258 50h1v1h-1zM261 50h1v1h-1zM263 50h1v1h-1zM268 50h1v1h-1zM375 50h1v1h-1zM463 50h1v1h-1zM509 50h1v1h-1zM520 50h1v1h-1zM524 50h2v1h-2zM530 50h2v1h-2zM535 50h1v1h-1zM538 50h2v1h-2zM542 50h3v1h-3zM547 50h1v1h-1zM557 50h1v1h-1zM150 51h1v1h-1zM153 51h1v1h-1zM157 51h1v1h-1zM162 51h2v1h-2zM166 51h1v1h-1zM168 51h3v1h-3zM255 51h1v1h-1zM258 51h1v1h-1zM260 51h1v1h-1zM262 51h5v1h-5zM372 51h2v1h-2zM376 51h1v1h-1zM378 51h1v1h-1zM455 51h1v1h-1zM479 51h1v1h-1zM517 51h1v1h-1zM526 51h1v1h-1zM535 51h1v1h-1zM543 51h2v1h-2zM546 51h1v1h-1zM159 52h2v1h-2zM162 52h1v1h-1zM165 52h2v1h-2zM169 52h2v1h-2zM261 52h1v1h-1zM265 52h1v1h-1zM267 52h1v1h-1zM372 52h1v1h-1zM374 52h1v1h-1zM376 52h2v1h-2zM380 52h1v1h-1zM382 52h1v1h-1zM455 52h1v1h-1zM462 52h1v1h-1zM510 52h1v1h-1zM517 52h3v1h-3zM522 52h1v1h-1zM528 52h1v1h-1zM533 52h1v1h-1zM541 52h1v1h-1zM151 53h1v1h-1zM161 53h2v1h-2zM164 53h1v1h-1zM166 53h3v1h-3zM248 53h1v1h-1zM256 53h2v1h-2zM260 53h3v1h-3zM372 53h1v1h-1zM374 53h3v1h-3zM378 53h1v1h-1zM380 53h2v1h-2zM383 53h1v1h-1zM388 53h1v1h-1zM455 53h1v1h-1zM459 53h1v1h-1zM467 53h1v1h-1zM517 53h1v1h-1zM522 53h1v1h-1zM533 53h1v1h-1zM540 53h1v1h-1zM544 53h2v1h-2zM547 53h1v1h-1zM148 54h1v1h-1zM150 54h1v1h-1zM154 54h1v1h-1zM159 54h2v1h-2zM166 54h1v1h-1zM171 54h1v1h-1zM225 54h1v1h-1zM231 54h1v1h-1zM240 54h1v1h-1zM242 54h2v1h-2zM245 54h1v1h-1zM251 54h2v1h-2zM256 54h1v1h-1zM259 54h2v1h-2zM263 54h1v1h-1zM373 54h3v1h-3zM381 54h3v1h-3zM385 54h3v1h-3zM448 54h1v1h-1zM454 54h1v1h-1zM460 54h1v1h-1zM463 54h1v1h-1zM467 54h1v1h-1zM519 54h1v1h-1zM524 54h1v1h-1zM536 54h1v1h-1zM538 54h1v1h-1zM542 54h1v1h-1zM547 54h2v1h-2zM156 55h1v1h-1zM160 55h3v1h-3zM165 55h3v1h-3zM171 55h1v1h-1zM222 55h1v1h-1zM230 55h1v1h-1zM233 55h1v1h-1zM236 55h1v1h-1zM238 55h2v1h-2zM242 55h2v1h-2zM249 55h2v1h-2zM252 55h1v1h-1zM254 55h1v1h-1zM262 55h1v1h-1zM375 55h1v1h-1zM386 55h2v1h-2zM449 55h1v1h-1zM453 55h1v1h-1zM455 55h2v1h-2zM459 55h2v1h-2zM509 55h1v1h-1zM511 55h1v1h-1zM514 55h2v1h-2zM520 55h2v1h-2zM524 55h2v1h-2zM529 55h1v1h-1zM539 55h1v1h-1zM551 55h1v1h-1zM554 55h1v1h-1zM60 56h1v1h-1zM142 56h1v1h-1zM152 56h1v1h-1zM157 56h1v1h-1zM160 56h1v1h-1zM166 56h1v1h-1zM169 56h1v1h-1zM209 56h1v1h-1zM217 56h1v1h-1zM229 56h3v1h-3zM233 56h3v1h-3zM238 56h1v1h-1zM240 56h1v1h-1zM242 56h1v1h-1zM247 56h2v1h-2zM251 56h2v1h-2zM261 56h1v1h-1zM268 56h1v1h-1zM389 56h3v1h-3zM393 56h4v1h-4zM441 56h1v1h-1zM444 56h2v1h-2zM448 56h2v1h-2zM451 56h1v1h-1zM498 56h1v1h-1zM509 56h1v1h-1zM512 56h1v1h-1zM514 56h1v1h-1zM522 56h1v1h-1zM527 56h1v1h-1zM538 56h1v1h-1zM540 56h2v1h-2zM150 57h2v1h-2zM153 57h1v1h-1zM159 57h1v1h-1zM163 57h1v1h-1zM165 57h3v1h-3zM170 57h3v1h-3zM216 57h1v1h-1zM221 57h1v1h-1zM224 57h2v1h-2zM227 57h1v1h-1zM237 57h2v1h-2zM242 57h3v1h-3zM247 57h2v1h-2zM251 57h4v1h-4zM257 57h2v1h-2zM261 57h1v1h-1zM373 57h1v1h-1zM383 57h1v1h-1zM387 57h1v1h-1zM390 57h3v1h-3zM394 57h2v1h-2zM397 57h2v1h-2zM401 57h1v1h-1zM406 57h1v1h-1zM410 57h1v1h-1zM414 57h1v1h-1zM416 57h1v1h-1zM421 57h1v1h-1zM424 57h1v1h-1zM442 57h2v1h-2zM445 57h1v1h-1zM448 57h1v1h-1zM455 57h1v1h-1zM468 57h1v1h-1zM512 57h2v1h-2zM516 57h2v1h-2zM538 57h1v1h-1zM540 57h2v1h-2zM132 58h1v1h-1zM147 58h1v1h-1zM150 58h1v1h-1zM157 58h1v1h-1zM159 58h3v1h-3zM165 58h1v1h-1zM169 58h1v1h-1zM211 58h1v1h-1zM217 58h2v1h-2zM221 58h1v1h-1zM223 58h1v1h-1zM225 58h2v1h-2zM231 58h1v1h-1zM234 58h4v1h-4zM239 58h1v1h-1zM248 58h1v1h-1zM251 58h2v1h-2zM258 58h1v1h-1zM374 58h1v1h-1zM379 58h1v1h-1zM382 58h1v1h-1zM385 58h2v1h-2zM390 58h3v1h-3zM395 58h1v1h-1zM399 58h1v1h-1zM401 58h1v1h-1zM404 58h1v1h-1zM409 58h1v1h-1zM414 58h1v1h-1zM418 58h2v1h-2zM422 58h1v1h-1zM424 58h1v1h-1zM430 58h1v1h-1zM433 58h1v1h-1zM435 58h2v1h-2zM438 58h1v1h-1zM441 58h1v1h-1zM443 58h2v1h-2zM446 58h1v1h-1zM449 58h2v1h-2zM456 58h1v1h-1zM468 58h1v1h-1zM539 58h1v1h-1zM542 58h1v1h-1zM545 58h1v1h-1zM587 58h1v1h-1zM150 59h1v1h-1zM154 59h1v1h-1zM158 59h2v1h-2zM163 59h2v1h-2zM167 59h1v1h-1zM169 59h1v1h-1zM204 59h1v1h-1zM206 59h1v1h-1zM208 59h2v1h-2zM211 59h1v1h-1zM213 59h1v1h-1zM215 59h3v1h-3zM219 59h1v1h-1zM223 59h2v1h-2zM228 59h1v1h-1zM234 59h2v1h-2zM239 59h2v1h-2zM242 59h2v1h-2zM245 59h1v1h-1zM382 59h1v1h-1zM396 59h1v1h-1zM400 59h1v1h-1zM408 59h1v1h-1zM411 59h1v1h-1zM415 59h1v1h-1zM418 59h2v1h-2zM423 59h1v1h-1zM426 59h3v1h-3zM432 59h1v1h-1zM442 59h1v1h-1zM507 59h1v1h-1zM515 59h1v1h-1zM517 59h2v1h-2zM539 59h1v1h-1zM541 59h2v1h-2zM545 59h1v1h-1zM550 59h1v1h-1zM149 60h1v1h-1zM155 60h2v1h-2zM161 60h1v1h-1zM163 60h2v1h-2zM196 60h1v1h-1zM198 60h1v1h-1zM204 60h1v1h-1zM207 60h3v1h-3zM213 60h2v1h-2zM218 60h1v1h-1zM220 60h2v1h-2zM228 60h1v1h-1zM231 60h2v1h-2zM242 60h2v1h-2zM247 60h2v1h-2zM251 60h1v1h-1zM391 60h2v1h-2zM399 60h1v1h-1zM406 60h2v1h-2zM411 60h1v1h-1zM414 60h1v1h-1zM426 60h2v1h-2zM431 60h1v1h-1zM461 60h1v1h-1zM503 60h1v1h-1zM505 60h1v1h-1zM509 60h1v1h-1zM512 60h1v1h-1zM516 60h2v1h-2zM538 60h1v1h-1zM543 60h1v1h-1zM148 61h1v1h-1zM155 61h1v1h-1zM157 61h1v1h-1zM159 61h2v1h-2zM163 61h2v1h-2zM166 61h1v1h-1zM168 61h2v1h-2zM201 61h1v1h-1zM203 61h1v1h-1zM205 61h1v1h-1zM207 61h1v1h-1zM214 61h2v1h-2zM217 61h1v1h-1zM221 61h1v1h-1zM224 61h3v1h-3zM238 61h1v1h-1zM240 61h3v1h-3zM249 61h1v1h-1zM395 61h1v1h-1zM403 61h3v1h-3zM419 61h1v1h-1zM423 61h1v1h-1zM429 61h1v1h-1zM433 61h1v1h-1zM436 61h1v1h-1zM445 61h1v1h-1zM448 61h1v1h-1zM505 61h1v1h-1zM515 61h3v1h-3zM536 61h1v1h-1zM540 61h2v1h-2zM544 61h1v1h-1zM148 62h1v1h-1zM156 62h1v1h-1zM161 62h1v1h-1zM163 62h2v1h-2zM170 62h2v1h-2zM178 62h1v1h-1zM193 62h1v1h-1zM196 62h1v1h-1zM202 62h1v1h-1zM205 62h1v1h-1zM207 62h1v1h-1zM209 62h1v1h-1zM219 62h1v1h-1zM221 62h1v1h-1zM223 62h2v1h-2zM229 62h1v1h-1zM235 62h1v1h-1zM237 62h2v1h-2zM242 62h1v1h-1zM245 62h1v1h-1zM400 62h1v1h-1zM402 62h1v1h-1zM417 62h1v1h-1zM421 62h1v1h-1zM426 62h1v1h-1zM428 62h1v1h-1zM432 62h1v1h-1zM438 62h3v1h-3zM442 62h1v1h-1zM495 62h1v1h-1zM509 62h1v1h-1zM518 62h1v1h-1zM542 62h1v1h-1zM546 62h1v1h-1zM548 62h1v1h-1zM550 62h1v1h-1zM148 63h1v1h-1zM151 63h1v1h-1zM153 63h1v1h-1zM155 63h1v1h-1zM161 63h1v1h-1zM192 63h1v1h-1zM194 63h1v1h-1zM199 63h2v1h-2zM203 63h5v1h-5zM212 63h1v1h-1zM216 63h2v1h-2zM224 63h1v1h-1zM226 63h1v1h-1zM228 63h1v1h-1zM234 63h1v1h-1zM242 63h1v1h-1zM383 63h1v1h-1zM400 63h1v1h-1zM418 63h1v1h-1zM422 63h2v1h-2zM432 63h1v1h-1zM434 63h1v1h-1zM436 63h1v1h-1zM512 63h2v1h-2zM515 63h1v1h-1zM539 63h1v1h-1zM543 63h1v1h-1zM140 64h1v1h-1zM151 64h1v1h-1zM154 64h1v1h-1zM157 64h1v1h-1zM159 64h1v1h-1zM167 64h1v1h-1zM193 64h1v1h-1zM197 64h1v1h-1zM200 64h1v1h-1zM202 64h1v1h-1zM205 64h1v1h-1zM208 64h1v1h-1zM216 64h2v1h-2zM219 64h1v1h-1zM237 64h1v1h-1zM402 64h1v1h-1zM404 64h1v1h-1zM421 64h1v1h-1zM429 64h1v1h-1zM436 64h1v1h-1zM489 64h1v1h-1zM506 64h1v1h-1zM511 64h1v1h-1zM513 64h1v1h-1zM515 64h1v1h-1zM538 64h1v1h-1zM140 65h1v1h-1zM149 65h1v1h-1zM152 65h1v1h-1zM154 65h3v1h-3zM166 65h1v1h-1zM191 65h1v1h-1zM195 65h1v1h-1zM197 65h1v1h-1zM201 65h1v1h-1zM203 65h1v1h-1zM205 65h1v1h-1zM207 65h1v1h-1zM212 65h1v1h-1zM220 65h1v1h-1zM223 65h1v1h-1zM232 65h1v1h-1zM241 65h1v1h-1zM405 65h1v1h-1zM422 65h1v1h-1zM425 65h1v1h-1zM431 65h1v1h-1zM507 65h1v1h-1zM509 65h1v1h-1zM513 65h1v1h-1zM538 65h1v1h-1zM133 66h1v1h-1zM138 66h1v1h-1zM148 66h1v1h-1zM152 66h1v1h-1zM190 66h1v1h-1zM192 66h1v1h-1zM194 66h1v1h-1zM197 66h1v1h-1zM204 66h1v1h-1zM213 66h1v1h-1zM222 66h1v1h-1zM233 66h1v1h-1zM419 66h1v1h-1zM424 66h2v1h-2zM508 66h2v1h-2zM511 66h1v1h-1zM513 66h1v1h-1zM515 66h1v1h-1zM538 66h1v1h-1zM540 66h1v1h-1zM543 66h1v1h-1zM143 67h1v1h-1zM145 67h1v1h-1zM147 67h2v1h-2zM151 67h2v1h-2zM157 67h1v1h-1zM195 67h1v1h-1zM198 67h1v1h-1zM200 67h2v1h-2zM209 67h1v1h-1zM387 67h1v1h-1zM403 67h1v1h-1zM425 67h1v1h-1zM446 67h1v1h-1zM453 67h1v1h-1zM502 67h1v1h-1zM507 67h1v1h-1zM513 67h1v1h-1zM537 67h2v1h-2zM134 68h2v1h-2zM138 68h1v1h-1zM149 68h1v1h-1zM151 68h1v1h-1zM157 68h1v1h-1zM159 68h1v1h-1zM190 68h1v1h-1zM192 68h1v1h-1zM198 68h4v1h-4zM207 68h1v1h-1zM214 68h1v1h-1zM416 68h1v1h-1zM421 68h1v1h-1zM456 68h1v1h-1zM497 68h1v1h-1zM506 68h1v1h-1zM508 68h1v1h-1zM513 68h1v1h-1zM515 68h1v1h-1zM533 68h1v1h-1zM538 68h2v1h-2zM146 69h1v1h-1zM148 69h1v1h-1zM150 69h1v1h-1zM155 69h2v1h-2zM196 69h1v1h-1zM198 69h3v1h-3zM203 69h4v1h-4zM210 69h1v1h-1zM213 69h1v1h-1zM236 69h1v1h-1zM391 69h1v1h-1zM425 69h1v1h-1zM438 69h1v1h-1zM499 69h1v1h-1zM506 69h1v1h-1zM509 69h3v1h-3zM514 69h1v1h-1zM534 69h1v1h-1zM538 69h1v1h-1zM540 69h1v1h-1zM546 69h1v1h-1zM135 70h1v1h-1zM140 70h1v1h-1zM142 70h1v1h-1zM144 70h1v1h-1zM147 70h2v1h-2zM156 70h1v1h-1zM190 70h1v1h-1zM197 70h4v1h-4zM209 70h1v1h-1zM216 70h1v1h-1zM377 70h1v1h-1zM400 70h1v1h-1zM408 70h1v1h-1zM418 70h1v1h-1zM503 70h1v1h-1zM507 70h1v1h-1zM539 70h1v1h-1zM541 70h2v1h-2zM128 71h1v1h-1zM137 71h1v1h-1zM139 71h1v1h-1zM143 71h1v1h-1zM148 71h2v1h-2zM152 71h1v1h-1zM199 71h2v1h-2zM202 71h1v1h-1zM208 71h1v1h-1zM418 71h1v1h-1zM439 71h1v1h-1zM453 71h1v1h-1zM506 71h1v1h-1zM508 71h1v1h-1zM511 71h3v1h-3zM536 71h1v1h-1zM542 71h2v1h-2zM144 72h4v1h-4zM149 72h1v1h-1zM196 72h4v1h-4zM201 72h3v1h-3zM208 72h1v1h-1zM219 72h1v1h-1zM388 72h1v1h-1zM411 72h1v1h-1zM497 72h1v1h-1zM503 72h2v1h-2zM507 72h1v1h-1zM510 72h1v1h-1zM532 72h1v1h-1zM534 72h1v1h-1zM536 72h1v1h-1zM544 72h1v1h-1zM120 73h1v1h-1zM134 73h1v1h-1zM141 73h1v1h-1zM145 73h1v1h-1zM150 73h1v1h-1zM187 73h1v1h-1zM195 73h4v1h-4zM202 73h1v1h-1zM206 73h1v1h-1zM390 73h1v1h-1zM401 73h1v1h-1zM420 73h1v1h-1zM492 73h1v1h-1zM499 73h1v1h-1zM505 73h1v1h-1zM509 73h3v1h-3zM514 73h1v1h-1zM538 73h1v1h-1zM543 73h1v1h-1zM100 74h1v1h-1zM137 74h1v1h-1zM140 74h3v1h-3zM147 74h3v1h-3zM152 74h1v1h-1zM155 74h1v1h-1zM190 74h1v1h-1zM194 74h1v1h-1zM198 74h2v1h-2zM202 74h1v1h-1zM210 74h1v1h-1zM392 74h1v1h-1zM402 74h1v1h-1zM430 74h1v1h-1zM500 74h1v1h-1zM502 74h1v1h-1zM506 74h3v1h-3zM536 74h1v1h-1zM540 74h1v1h-1zM137 75h2v1h-2zM141 75h1v1h-1zM149 75h1v1h-1zM191 75h1v1h-1zM193 75h1v1h-1zM197 75h2v1h-2zM396 75h1v1h-1zM420 75h1v1h-1zM425 75h1v1h-1zM427 75h1v1h-1zM429 75h1v1h-1zM489 75h1v1h-1zM498 75h1v1h-1zM503 75h1v1h-1zM508 75h2v1h-2zM531 75h2v1h-2zM534 75h1v1h-1zM544 75h1v1h-1zM121 76h1v1h-1zM135 76h1v1h-1zM144 76h2v1h-2zM147 76h1v1h-1zM153 76h1v1h-1zM193 76h1v1h-1zM196 76h1v1h-1zM200 76h1v1h-1zM207 76h1v1h-1zM375 76h1v1h-1zM382 76h1v1h-1zM418 76h1v1h-1zM443 76h1v1h-1zM504 76h1v1h-1zM509 76h2v1h-2zM516 76h1v1h-1zM533 76h2v1h-2zM536 76h1v1h-1zM538 76h2v1h-2zM133 77h1v1h-1zM141 77h1v1h-1zM145 77h1v1h-1zM148 77h1v1h-1zM192 77h1v1h-1zM196 77h1v1h-1zM200 77h1v1h-1zM202 77h3v1h-3zM375 77h1v1h-1zM396 77h1v1h-1zM403 77h1v1h-1zM421 77h1v1h-1zM444 77h1v1h-1zM498 77h1v1h-1zM505 77h2v1h-2zM508 77h1v1h-1zM511 77h1v1h-1zM534 77h1v1h-1zM537 77h1v1h-1zM113 78h1v1h-1zM146 78h1v1h-1zM150 78h1v1h-1zM181 78h1v1h-1zM183 78h1v1h-1zM200 78h1v1h-1zM495 78h1v1h-1zM505 78h1v1h-1zM532 78h1v1h-1zM537 78h1v1h-1zM91 79h1v1h-1zM138 79h3v1h-3zM144 79h1v1h-1zM148 79h1v1h-1zM191 79h1v1h-1zM193 79h1v1h-1zM197 79h1v1h-1zM199 79h3v1h-3zM473 79h1v1h-1zM499 79h1v1h-1zM503 79h1v1h-1zM510 79h1v1h-1zM534 79h2v1h-2zM64 80h1v1h-1zM139 80h2v1h-2zM143 80h1v1h-1zM145 80h1v1h-1zM148 80h1v1h-1zM151 80h1v1h-1zM190 80h1v1h-1zM192 80h4v1h-4zM198 80h1v1h-1zM203 80h1v1h-1zM205 80h1v1h-1zM379 80h1v1h-1zM403 80h1v1h-1zM407 80h1v1h-1zM410 80h1v1h-1zM417 80h1v1h-1zM495 80h1v1h-1zM506 80h2v1h-2zM533 80h2v1h-2zM542 80h1v1h-1zM546 80h1v1h-1zM140 81h1v1h-1zM144 81h1v1h-1zM147 81h1v1h-1zM150 81h1v1h-1zM186 81h1v1h-1zM188 81h1v1h-1zM193 81h1v1h-1zM196 81h1v1h-1zM201 81h2v1h-2zM204 81h1v1h-1zM206 81h1v1h-1zM390 81h1v1h-1zM420 81h1v1h-1zM462 81h1v1h-1zM499 81h2v1h-2zM503 81h4v1h-4zM534 81h1v1h-1zM539 81h1v1h-1zM136 82h1v1h-1zM138 82h2v1h-2zM141 82h4v1h-4zM147 82h1v1h-1zM193 82h1v1h-1zM196 82h3v1h-3zM402 82h1v1h-1zM432 82h1v1h-1zM497 82h2v1h-2zM506 82h1v1h-1zM510 82h1v1h-1zM533 82h1v1h-1zM542 82h1v1h-1zM137 83h1v1h-1zM139 83h1v1h-1zM142 83h2v1h-2zM151 83h1v1h-1zM188 83h1v1h-1zM190 83h1v1h-1zM193 83h2v1h-2zM197 83h1v1h-1zM202 83h1v1h-1zM204 83h1v1h-1zM409 83h1v1h-1zM414 83h1v1h-1zM456 83h1v1h-1zM500 83h1v1h-1zM502 83h1v1h-1zM505 83h1v1h-1zM530 83h2v1h-2zM535 83h1v1h-1zM537 83h2v1h-2zM71 84h1v1h-1zM138 84h2v1h-2zM142 84h3v1h-3zM147 84h1v1h-1zM186 84h1v1h-1zM196 84h1v1h-1zM203 84h1v1h-1zM386 84h1v1h-1zM406 84h1v1h-1zM415 84h1v1h-1zM418 84h1v1h-1zM433 84h1v1h-1zM499 84h1v1h-1zM502 84h1v1h-1zM504 84h2v1h-2zM529 84h1v1h-1zM531 84h1v1h-1zM534 84h2v1h-2zM114 85h1v1h-1zM131 85h1v1h-1zM135 85h1v1h-1zM138 85h2v1h-2zM144 85h3v1h-3zM148 85h1v1h-1zM192 85h3v1h-3zM198 85h1v1h-1zM379 85h1v1h-1zM386 85h1v1h-1zM415 85h1v1h-1zM494 85h1v1h-1zM501 85h1v1h-1zM532 85h1v1h-1zM130 86h1v1h-1zM136 86h1v1h-1zM141 86h1v1h-1zM150 86h1v1h-1zM186 86h1v1h-1zM188 86h1v1h-1zM190 86h4v1h-4zM196 86h2v1h-2zM204 86h1v1h-1zM207 86h1v1h-1zM415 86h1v1h-1zM417 86h1v1h-1zM419 86h1v1h-1zM435 86h1v1h-1zM496 86h1v1h-1zM502 86h2v1h-2zM505 86h1v1h-1zM508 86h1v1h-1zM532 86h1v1h-1zM534 86h1v1h-1zM536 86h1v1h-1zM67 87h1v1h-1zM132 87h1v1h-1zM134 87h1v1h-1zM138 87h1v1h-1zM141 87h1v1h-1zM144 87h3v1h-3zM186 87h1v1h-1zM196 87h1v1h-1zM202 87h1v1h-1zM395 87h1v1h-1zM486 87h1v1h-1zM497 87h1v1h-1zM500 87h1v1h-1zM503 87h1v1h-1zM505 87h1v1h-1zM528 87h1v1h-1zM530 87h2v1h-2zM534 87h1v1h-1zM128 88h1v1h-1zM137 88h1v1h-1zM139 88h1v1h-1zM142 88h4v1h-4zM188 88h1v1h-1zM191 88h1v1h-1zM193 88h1v1h-1zM201 88h1v1h-1zM203 88h1v1h-1zM207 88h1v1h-1zM375 88h1v1h-1zM394 88h1v1h-1zM422 88h1v1h-1zM427 88h1v1h-1zM439 88h1v1h-1zM468 88h1v1h-1zM534 88h1v1h-1zM537 88h1v1h-1zM555 88h1v1h-1zM102 89h1v1h-1zM127 89h1v1h-1zM129 89h1v1h-1zM131 89h1v1h-1zM133 89h1v1h-1zM136 89h2v1h-2zM139 89h1v1h-1zM142 89h1v1h-1zM183 89h1v1h-1zM199 89h1v1h-1zM205 89h1v1h-1zM389 89h1v1h-1zM391 89h1v1h-1zM403 89h1v1h-1zM410 89h1v1h-1zM493 89h1v1h-1zM500 89h1v1h-1zM502 89h2v1h-2zM508 89h1v1h-1zM529 89h1v1h-1zM531 89h1v1h-1zM537 89h1v1h-1zM542 89h1v1h-1zM120 90h1v1h-1zM128 90h1v1h-1zM130 90h1v1h-1zM139 90h2v1h-2zM142 90h2v1h-2zM188 90h2v1h-2zM197 90h1v1h-1zM208 90h1v1h-1zM373 90h1v1h-1zM376 90h1v1h-1zM383 90h1v1h-1zM408 90h1v1h-1zM431 90h1v1h-1zM500 90h1v1h-1zM505 90h1v1h-1zM510 90h1v1h-1zM526 90h1v1h-1zM529 90h1v1h-1zM532 90h1v1h-1zM542 90h1v1h-1zM82 91h1v1h-1zM128 91h1v1h-1zM130 91h1v1h-1zM134 91h3v1h-3zM138 91h2v1h-2zM142 91h1v1h-1zM145 91h1v1h-1zM156 91h1v1h-1zM184 91h3v1h-3zM189 91h1v1h-1zM191 91h2v1h-2zM194 91h1v1h-1zM197 91h1v1h-1zM200 91h1v1h-1zM207 91h1v1h-1zM386 91h1v1h-1zM427 91h1v1h-1zM432 91h1v1h-1zM443 91h1v1h-1zM451 91h1v1h-1zM494 91h1v1h-1zM496 91h1v1h-1zM501 91h1v1h-1zM503 91h2v1h-2zM519 91h1v1h-1zM525 91h1v1h-1zM528 91h1v1h-1zM536 91h1v1h-1zM122 92h1v1h-1zM133 92h2v1h-2zM136 92h3v1h-3zM143 92h1v1h-1zM186 92h1v1h-1zM189 92h3v1h-3zM194 92h1v1h-1zM387 92h1v1h-1zM397 92h1v1h-1zM408 92h1v1h-1zM411 92h1v1h-1zM425 92h1v1h-1zM435 92h1v1h-1zM491 92h1v1h-1zM495 92h1v1h-1zM501 92h2v1h-2zM505 92h1v1h-1zM508 92h1v1h-1zM129 93h3v1h-3zM142 93h2v1h-2zM178 93h1v1h-1zM185 93h3v1h-3zM191 93h1v1h-1zM193 93h2v1h-2zM198 93h2v1h-2zM374 93h1v1h-1zM387 93h1v1h-1zM402 93h2v1h-2zM422 93h1v1h-1zM440 93h1v1h-1zM494 93h1v1h-1zM502 93h2v1h-2zM507 93h1v1h-1zM526 93h1v1h-1zM528 93h1v1h-1zM130 94h1v1h-1zM136 94h3v1h-3zM142 94h1v1h-1zM145 94h1v1h-1zM180 94h1v1h-1zM184 94h2v1h-2zM187 94h1v1h-1zM192 94h1v1h-1zM197 94h1v1h-1zM204 94h1v1h-1zM407 94h1v1h-1zM416 94h1v1h-1zM420 94h1v1h-1zM499 94h1v1h-1zM502 94h1v1h-1zM506 94h1v1h-1zM525 94h1v1h-1zM530 94h1v1h-1zM573 94h1v1h-1zM104 95h1v1h-1zM124 95h2v1h-2zM131 95h1v1h-1zM137 95h1v1h-1zM143 95h1v1h-1zM150 95h1v1h-1zM184 95h1v1h-1zM187 95h1v1h-1zM189 95h2v1h-2zM192 95h1v1h-1zM194 95h2v1h-2zM202 95h1v1h-1zM215 95h1v1h-1zM401 95h1v1h-1zM406 95h1v1h-1zM414 95h1v1h-1zM427 95h1v1h-1zM429 95h1v1h-1zM469 95h1v1h-1zM492 95h1v1h-1zM495 95h1v1h-1zM497 95h1v1h-1zM499 95h2v1h-2zM502 95h1v1h-1zM505 95h1v1h-1zM527 95h2v1h-2zM530 95h1v1h-1zM533 95h1v1h-1zM123 96h1v1h-1zM127 96h1v1h-1zM130 96h1v1h-1zM133 96h1v1h-1zM138 96h1v1h-1zM149 96h1v1h-1zM176 96h1v1h-1zM179 96h1v1h-1zM181 96h1v1h-1zM184 96h1v1h-1zM188 96h1v1h-1zM193 96h1v1h-1zM196 96h1v1h-1zM378 96h1v1h-1zM394 96h1v1h-1zM397 96h1v1h-1zM441 96h1v1h-1zM445 96h1v1h-1zM491 96h1v1h-1zM496 96h2v1h-2zM499 96h3v1h-3zM525 96h1v1h-1zM533 96h1v1h-1zM537 96h1v1h-1zM116 97h1v1h-1zM129 97h1v1h-1zM131 97h1v1h-1zM133 97h1v1h-1zM136 97h1v1h-1zM139 97h1v1h-1zM152 97h1v1h-1zM163 97h1v1h-1zM173 97h1v1h-1zM177 97h1v1h-1zM186 97h1v1h-1zM189 97h1v1h-1zM195 97h1v1h-1zM197 97h1v1h-1zM378 97h1v1h-1zM384 97h2v1h-2zM388 97h1v1h-1zM409 97h1v1h-1zM414 97h1v1h-1zM432 97h1v1h-1zM491 97h1v1h-1zM495 97h1v1h-1zM497 97h1v1h-1zM526 97h2v1h-2zM529 97h2v1h-2zM538 97h1v1h-1zM132 98h1v1h-1zM137 98h1v1h-1zM139 98h1v1h-1zM168 98h1v1h-1zM181 98h3v1h-3zM193 98h2v1h-2zM199 98h1v1h-1zM406 98h1v1h-1zM483 98h1v1h-1zM495 98h2v1h-2zM501 98h1v1h-1zM516 98h1v1h-1zM520 98h1v1h-1zM527 98h3v1h-3zM132 99h1v1h-1zM145 99h2v1h-2zM177 99h3v1h-3zM182 99h2v1h-2zM188 99h1v1h-1zM190 99h1v1h-1zM196 99h1v1h-1zM387 99h1v1h-1zM424 99h1v1h-1zM455 99h1v1h-1zM485 99h1v1h-1zM500 99h2v1h-2zM518 99h1v1h-1zM521 99h3v1h-3zM527 99h1v1h-1zM123 100h1v1h-1zM128 100h1v1h-1zM141 100h1v1h-1zM145 100h3v1h-3zM171 100h2v1h-2zM178 100h1v1h-1zM182 100h1v1h-1zM188 100h1v1h-1zM190 100h1v1h-1zM198 100h1v1h-1zM383 100h1v1h-1zM388 100h1v1h-1zM395 100h1v1h-1zM398 100h1v1h-1zM408 100h2v1h-2zM431 100h1v1h-1zM499 100h1v1h-1zM502 100h2v1h-2zM513 100h2v1h-2zM523 100h3v1h-3zM529 100h1v1h-1zM535 100h1v1h-1zM125 101h1v1h-1zM136 101h1v1h-1zM140 101h1v1h-1zM142 101h3v1h-3zM146 101h1v1h-1zM169 101h1v1h-1zM176 101h1v1h-1zM180 101h1v1h-1zM183 101h3v1h-3zM188 101h2v1h-2zM395 101h1v1h-1zM398 101h1v1h-1zM401 101h1v1h-1zM444 101h1v1h-1zM452 101h1v1h-1zM465 101h1v1h-1zM478 101h1v1h-1zM488 101h1v1h-1zM497 101h1v1h-1zM502 101h1v1h-1zM507 101h1v1h-1zM519 101h1v1h-1zM524 101h1v1h-1zM123 102h1v1h-1zM133 102h1v1h-1zM137 102h1v1h-1zM141 102h1v1h-1zM144 102h1v1h-1zM157 102h1v1h-1zM163 102h1v1h-1zM170 102h1v1h-1zM172 102h2v1h-2zM179 102h2v1h-2zM189 102h2v1h-2zM192 102h1v1h-1zM390 102h1v1h-1zM412 102h3v1h-3zM477 102h1v1h-1zM497 102h2v1h-2zM503 102h1v1h-1zM507 102h1v1h-1zM510 102h2v1h-2zM519 102h1v1h-1zM522 102h5v1h-5zM532 102h1v1h-1zM88 103h1v1h-1zM97 103h1v1h-1zM126 103h1v1h-1zM140 103h2v1h-2zM147 103h2v1h-2zM150 103h1v1h-1zM156 103h1v1h-1zM177 103h2v1h-2zM180 103h1v1h-1zM434 103h1v1h-1zM483 103h1v1h-1zM489 103h1v1h-1zM498 103h1v1h-1zM504 103h2v1h-2zM510 103h1v1h-1zM515 103h1v1h-1zM518 103h1v1h-1zM521 103h3v1h-3zM526 103h1v1h-1zM123 104h1v1h-1zM125 104h1v1h-1zM131 104h1v1h-1zM136 104h2v1h-2zM141 104h1v1h-1zM143 104h3v1h-3zM147 104h1v1h-1zM172 104h1v1h-1zM181 104h1v1h-1zM187 104h1v1h-1zM391 104h1v1h-1zM393 104h1v1h-1zM408 104h1v1h-1zM420 104h1v1h-1zM423 104h2v1h-2zM435 104h1v1h-1zM501 104h2v1h-2zM506 104h1v1h-1zM516 104h1v1h-1zM519 104h1v1h-1zM522 104h1v1h-1zM525 104h1v1h-1zM120 105h1v1h-1zM126 105h1v1h-1zM136 105h1v1h-1zM138 105h1v1h-1zM140 105h1v1h-1zM143 105h1v1h-1zM148 105h1v1h-1zM150 105h2v1h-2zM161 105h1v1h-1zM173 105h1v1h-1zM175 105h1v1h-1zM179 105h1v1h-1zM182 105h1v1h-1zM187 105h1v1h-1zM387 105h1v1h-1zM395 105h1v1h-1zM401 105h1v1h-1zM408 105h1v1h-1zM445 105h1v1h-1zM493 105h1v1h-1zM502 105h1v1h-1zM505 105h2v1h-2zM508 105h1v1h-1zM510 105h1v1h-1zM517 105h1v1h-1zM519 105h1v1h-1zM521 105h1v1h-1zM523 105h1v1h-1zM526 105h1v1h-1zM94 106h1v1h-1zM123 106h1v1h-1zM131 106h1v1h-1zM136 106h1v1h-1zM138 106h2v1h-2zM145 106h1v1h-1zM148 106h1v1h-1zM151 106h1v1h-1zM158 106h1v1h-1zM160 106h1v1h-1zM164 106h1v1h-1zM166 106h1v1h-1zM169 106h1v1h-1zM175 106h2v1h-2zM181 106h3v1h-3zM186 106h1v1h-1zM189 106h1v1h-1zM199 106h1v1h-1zM394 106h1v1h-1zM400 106h1v1h-1zM437 106h1v1h-1zM465 106h1v1h-1zM483 106h1v1h-1zM496 106h1v1h-1zM498 106h2v1h-2zM505 106h1v1h-1zM518 106h1v1h-1zM520 106h1v1h-1zM525 106h1v1h-1zM530 106h1v1h-1zM113 107h1v1h-1zM121 107h1v1h-1zM128 107h2v1h-2zM137 107h1v1h-1zM144 107h1v1h-1zM148 107h1v1h-1zM151 107h1v1h-1zM154 107h1v1h-1zM160 107h1v1h-1zM169 107h2v1h-2zM174 107h1v1h-1zM177 107h2v1h-2zM182 107h6v1h-6zM193 107h1v1h-1zM386 107h1v1h-1zM398 107h1v1h-1zM452 107h1v1h-1zM496 107h1v1h-1zM498 107h1v1h-1zM501 107h1v1h-1zM503 107h2v1h-2zM506 107h1v1h-1zM517 107h1v1h-1zM519 107h1v1h-1zM524 107h1v1h-1zM527 107h1v1h-1zM533 107h1v1h-1zM102 108h1v1h-1zM141 108h1v1h-1zM144 108h1v1h-1zM149 108h1v1h-1zM151 108h1v1h-1zM154 108h1v1h-1zM156 108h2v1h-2zM160 108h1v1h-1zM165 108h1v1h-1zM168 108h2v1h-2zM172 108h1v1h-1zM175 108h2v1h-2zM184 108h1v1h-1zM188 108h1v1h-1zM380 108h1v1h-1zM391 108h1v1h-1zM408 108h1v1h-1zM495 108h1v1h-1zM499 108h4v1h-4zM504 108h1v1h-1zM509 108h1v1h-1zM517 108h2v1h-2zM521 108h2v1h-2zM526 108h1v1h-1zM129 109h1v1h-1zM132 109h1v1h-1zM138 109h1v1h-1zM141 109h1v1h-1zM143 109h1v1h-1zM145 109h1v1h-1zM147 109h1v1h-1zM149 109h1v1h-1zM153 109h1v1h-1zM159 109h1v1h-1zM164 109h2v1h-2zM168 109h1v1h-1zM170 109h1v1h-1zM176 109h1v1h-1zM412 109h1v1h-1zM489 109h1v1h-1zM497 109h1v1h-1zM499 109h2v1h-2zM504 109h1v1h-1zM508 109h2v1h-2zM511 109h1v1h-1zM513 109h1v1h-1zM519 109h1v1h-1zM526 109h1v1h-1zM532 109h1v1h-1zM137 110h1v1h-1zM140 110h1v1h-1zM142 110h3v1h-3zM147 110h2v1h-2zM155 110h2v1h-2zM159 110h1v1h-1zM162 110h1v1h-1zM164 110h3v1h-3zM170 110h1v1h-1zM175 110h1v1h-1zM178 110h2v1h-2zM182 110h1v1h-1zM192 110h1v1h-1zM381 110h1v1h-1zM422 110h1v1h-1zM424 110h1v1h-1zM485 110h1v1h-1zM495 110h1v1h-1zM497 110h1v1h-1zM502 110h2v1h-2zM505 110h2v1h-2zM515 110h1v1h-1zM517 110h1v1h-1zM519 110h2v1h-2zM524 110h1v1h-1zM107 111h1v1h-1zM140 111h1v1h-1zM142 111h1v1h-1zM144 111h1v1h-1zM146 111h1v1h-1zM156 111h1v1h-1zM160 111h1v1h-1zM167 111h2v1h-2zM174 111h1v1h-1zM177 111h1v1h-1zM386 111h1v1h-1zM397 111h1v1h-1zM402 111h1v1h-1zM404 111h1v1h-1zM410 111h1v1h-1zM429 111h1v1h-1zM488 111h1v1h-1zM490 111h1v1h-1zM496 111h1v1h-1zM501 111h1v1h-1zM512 111h2v1h-2zM515 111h1v1h-1zM519 111h2v1h-2zM78 112h1v1h-1zM113 112h1v1h-1zM126 112h1v1h-1zM135 112h1v1h-1zM137 112h1v1h-1zM140 112h2v1h-2zM150 112h1v1h-1zM155 112h1v1h-1zM157 112h1v1h-1zM159 112h1v1h-1zM162 112h1v1h-1zM165 112h1v1h-1zM167 112h1v1h-1zM169 112h1v1h-1zM172 112h2v1h-2zM178 112h1v1h-1zM184 112h1v1h-1zM186 112h1v1h-1zM383 112h2v1h-2zM393 112h1v1h-1zM397 112h1v1h-1zM420 112h1v1h-1zM426 112h1v1h-1zM497 112h3v1h-3zM502 112h1v1h-1zM507 112h1v1h-1zM514 112h2v1h-2zM517 112h1v1h-1zM528 112h1v1h-1zM541 112h1v1h-1zM579 112h1v1h-1zM98 113h1v1h-1zM107 113h1v1h-1zM113 113h1v1h-1zM119 113h1v1h-1zM126 113h1v1h-1zM128 113h1v1h-1zM133 113h1v1h-1zM135 113h1v1h-1zM137 113h2v1h-2zM146 113h2v1h-2zM149 113h1v1h-1zM153 113h1v1h-1zM155 113h3v1h-3zM161 113h1v1h-1zM163 113h1v1h-1zM165 113h1v1h-1zM169 113h1v1h-1zM171 113h2v1h-2zM175 113h3v1h-3zM184 113h1v1h-1zM390 113h1v1h-1zM395 113h1v1h-1zM399 113h1v1h-1zM410 113h1v1h-1zM459 113h1v1h-1zM497 113h1v1h-1zM505 113h2v1h-2zM509 113h1v1h-1zM515 113h1v1h-1zM93 114h1v1h-1zM112 114h1v1h-1zM118 114h1v1h-1zM128 114h1v1h-1zM134 114h2v1h-2zM142 114h1v1h-1zM153 114h2v1h-2zM158 114h1v1h-1zM167 114h2v1h-2zM173 114h3v1h-3zM179 114h1v1h-1zM376 114h1v1h-1zM385 114h2v1h-2zM390 114h1v1h-1zM393 114h1v1h-1zM395 114h2v1h-2zM398 114h1v1h-1zM411 114h1v1h-1zM414 114h2v1h-2zM417 114h2v1h-2zM428 114h1v1h-1zM494 114h3v1h-3zM502 114h2v1h-2zM506 114h1v1h-1zM508 114h1v1h-1zM510 114h1v1h-1zM528 114h1v1h-1zM72 115h1v1h-1zM94 115h1v1h-1zM102 115h1v1h-1zM114 115h1v1h-1zM116 115h1v1h-1zM118 115h1v1h-1zM126 115h1v1h-1zM134 115h1v1h-1zM137 115h2v1h-2zM140 115h1v1h-1zM142 115h1v1h-1zM147 115h2v1h-2zM150 115h1v1h-1zM155 115h1v1h-1zM157 115h1v1h-1zM159 115h1v1h-1zM164 115h1v1h-1zM166 115h1v1h-1zM172 115h1v1h-1zM188 115h1v1h-1zM256 115h1v1h-1zM377 115h1v1h-1zM381 115h1v1h-1zM392 115h1v1h-1zM395 115h2v1h-2zM400 115h1v1h-1zM406 115h2v1h-2zM412 115h1v1h-1zM415 115h1v1h-1zM421 115h1v1h-1zM430 115h1v1h-1zM436 115h1v1h-1zM462 115h1v1h-1zM495 115h1v1h-1zM497 115h1v1h-1zM499 115h1v1h-1zM503 115h1v1h-1zM510 115h2v1h-2zM515 115h2v1h-2zM520 115h1v1h-1zM87 116h1v1h-1zM89 116h1v1h-1zM92 116h1v1h-1zM96 116h1v1h-1zM99 116h5v1h-5zM105 116h1v1h-1zM107 116h1v1h-1zM109 116h1v1h-1zM112 116h1v1h-1zM114 116h1v1h-1zM118 116h1v1h-1zM121 116h1v1h-1zM123 116h2v1h-2zM126 116h1v1h-1zM136 116h1v1h-1zM138 116h2v1h-2zM141 116h1v1h-1zM144 116h1v1h-1zM147 116h2v1h-2zM153 116h1v1h-1zM162 116h2v1h-2zM169 116h1v1h-1zM384 116h1v1h-1zM389 116h2v1h-2zM395 116h1v1h-1zM397 116h3v1h-3zM401 116h1v1h-1zM404 116h1v1h-1zM411 116h1v1h-1zM420 116h1v1h-1zM423 116h1v1h-1zM428 116h1v1h-1zM431 116h1v1h-1zM444 116h1v1h-1zM496 116h2v1h-2zM499 116h2v1h-2zM503 116h1v1h-1zM505 116h2v1h-2zM510 116h1v1h-1zM512 116h2v1h-2zM517 116h2v1h-2zM89 117h4v1h-4zM94 117h2v1h-2zM99 117h2v1h-2zM103 117h1v1h-1zM105 117h1v1h-1zM108 117h1v1h-1zM111 117h2v1h-2zM120 117h3v1h-3zM124 117h3v1h-3zM131 117h1v1h-1zM135 117h1v1h-1zM137 117h2v1h-2zM142 117h3v1h-3zM146 117h1v1h-1zM148 117h2v1h-2zM151 117h1v1h-1zM155 117h2v1h-2zM158 117h1v1h-1zM161 117h1v1h-1zM163 117h1v1h-1zM168 117h1v1h-1zM173 117h1v1h-1zM178 117h1v1h-1zM181 117h2v1h-2zM187 117h1v1h-1zM376 117h2v1h-2zM379 117h2v1h-2zM387 117h2v1h-2zM390 117h1v1h-1zM396 117h1v1h-1zM399 117h2v1h-2zM410 117h2v1h-2zM415 117h1v1h-1zM417 117h1v1h-1zM423 117h2v1h-2zM427 117h2v1h-2zM431 117h1v1h-1zM447 117h1v1h-1zM485 117h1v1h-1zM490 117h1v1h-1zM496 117h1v1h-1zM500 117h1v1h-1zM502 117h1v1h-1zM504 117h1v1h-1zM506 117h1v1h-1zM508 117h1v1h-1zM518 117h1v1h-1zM566 117h1v1h-1zM75 118h2v1h-2zM78 118h1v1h-1zM83 118h1v1h-1zM88 118h1v1h-1zM92 118h1v1h-1zM94 118h1v1h-1zM97 118h3v1h-3zM104 118h1v1h-1zM112 118h2v1h-2zM115 118h4v1h-4zM121 118h1v1h-1zM124 118h2v1h-2zM131 118h1v1h-1zM135 118h1v1h-1zM148 118h1v1h-1zM151 118h1v1h-1zM155 118h1v1h-1zM159 118h4v1h-4zM168 118h1v1h-1zM378 118h1v1h-1zM387 118h3v1h-3zM392 118h1v1h-1zM399 118h1v1h-1zM401 118h2v1h-2zM405 118h2v1h-2zM409 118h1v1h-1zM412 118h2v1h-2zM415 118h1v1h-1zM426 118h2v1h-2zM430 118h2v1h-2zM434 118h3v1h-3zM444 118h1v1h-1zM455 118h1v1h-1zM485 118h1v1h-1zM495 118h3v1h-3zM500 118h1v1h-1zM503 118h1v1h-1zM505 118h1v1h-1zM507 118h1v1h-1zM509 118h1v1h-1zM512 118h1v1h-1zM515 118h1v1h-1zM519 118h1v1h-1zM523 118h1v1h-1zM69 119h1v1h-1zM84 119h5v1h-5zM92 119h1v1h-1zM96 119h2v1h-2zM101 119h1v1h-1zM107 119h1v1h-1zM115 119h1v1h-1zM120 119h1v1h-1zM123 119h2v1h-2zM126 119h1v1h-1zM129 119h1v1h-1zM133 119h2v1h-2zM144 119h1v1h-1zM148 119h2v1h-2zM153 119h1v1h-1zM156 119h3v1h-3zM163 119h2v1h-2zM167 119h1v1h-1zM186 119h1v1h-1zM374 119h1v1h-1zM376 119h1v1h-1zM379 119h1v1h-1zM382 119h1v1h-1zM388 119h1v1h-1zM392 119h1v1h-1zM398 119h4v1h-4zM408 119h1v1h-1zM416 119h2v1h-2zM422 119h1v1h-1zM426 119h2v1h-2zM432 119h2v1h-2zM443 119h1v1h-1zM453 119h1v1h-1zM496 119h2v1h-2zM499 119h1v1h-1zM504 119h1v1h-1zM506 119h2v1h-2zM513 119h2v1h-2zM520 119h1v1h-1zM76 120h1v1h-1zM80 120h1v1h-1zM83 120h1v1h-1zM90 120h1v1h-1zM95 120h1v1h-1zM103 120h1v1h-1zM108 120h1v1h-1zM110 120h2v1h-2zM113 120h1v1h-1zM116 120h2v1h-2zM124 120h4v1h-4zM135 120h1v1h-1zM138 120h1v1h-1zM147 120h2v1h-2zM151 120h1v1h-1zM156 120h2v1h-2zM161 120h2v1h-2zM170 120h3v1h-3zM179 120h1v1h-1zM373 120h1v1h-1zM377 120h1v1h-1zM379 120h1v1h-1zM381 120h1v1h-1zM388 120h1v1h-1zM390 120h1v1h-1zM402 120h2v1h-2zM412 120h1v1h-1zM418 120h2v1h-2zM421 120h1v1h-1zM423 120h1v1h-1zM428 120h4v1h-4zM434 120h1v1h-1zM442 120h1v1h-1zM447 120h1v1h-1zM456 120h2v1h-2zM464 120h1v1h-1zM485 120h1v1h-1zM489 120h1v1h-1zM493 120h1v1h-1zM495 120h2v1h-2zM503 120h1v1h-1zM528 120h1v1h-1zM63 121h1v1h-1zM67 121h1v1h-1zM75 121h2v1h-2zM84 121h1v1h-1zM86 121h2v1h-2zM106 121h2v1h-2zM109 121h3v1h-3zM114 121h2v1h-2zM121 121h3v1h-3zM132 121h1v1h-1zM137 121h2v1h-2zM149 121h2v1h-2zM152 121h2v1h-2zM155 121h2v1h-2zM161 121h1v1h-1zM165 121h1v1h-1zM167 121h1v1h-1zM169 121h1v1h-1zM187 121h1v1h-1zM373 121h1v1h-1zM375 121h2v1h-2zM378 121h1v1h-1zM380 121h1v1h-1zM382 121h1v1h-1zM386 121h1v1h-1zM395 121h1v1h-1zM398 121h1v1h-1zM416 121h1v1h-1zM418 121h2v1h-2zM422 121h1v1h-1zM426 121h5v1h-5zM435 121h1v1h-1zM438 121h1v1h-1zM453 121h1v1h-1zM455 121h1v1h-1zM479 121h1v1h-1zM499 121h1v1h-1zM505 121h1v1h-1zM512 121h2v1h-2zM515 121h1v1h-1zM521 121h1v1h-1zM59 122h1v1h-1zM67 122h1v1h-1zM74 122h1v1h-1zM77 122h1v1h-1zM79 122h1v1h-1zM94 122h1v1h-1zM104 122h1v1h-1zM106 122h1v1h-1zM108 122h1v1h-1zM110 122h1v1h-1zM112 122h2v1h-2zM116 122h1v1h-1zM118 122h2v1h-2zM124 122h1v1h-1zM133 122h1v1h-1zM136 122h1v1h-1zM138 122h2v1h-2zM144 122h1v1h-1zM148 122h2v1h-2zM152 122h1v1h-1zM155 122h1v1h-1zM157 122h1v1h-1zM162 122h1v1h-1zM164 122h2v1h-2zM171 122h2v1h-2zM178 122h1v1h-1zM181 122h1v1h-1zM375 122h1v1h-1zM395 122h1v1h-1zM403 122h2v1h-2zM409 122h1v1h-1zM412 122h1v1h-1zM414 122h1v1h-1zM416 122h2v1h-2zM421 122h1v1h-1zM425 122h1v1h-1zM432 122h1v1h-1zM434 122h2v1h-2zM442 122h1v1h-1zM446 122h1v1h-1zM463 122h1v1h-1zM493 122h1v1h-1zM498 122h2v1h-2zM503 122h1v1h-1zM507 122h1v1h-1zM69 123h1v1h-1zM72 123h1v1h-1zM75 123h1v1h-1zM78 123h2v1h-2zM83 123h1v1h-1zM93 123h1v1h-1zM111 123h2v1h-2zM115 123h2v1h-2zM118 123h1v1h-1zM120 123h2v1h-2zM125 123h1v1h-1zM127 123h1v1h-1zM145 123h1v1h-1zM147 123h1v1h-1zM152 123h1v1h-1zM154 123h1v1h-1zM157 123h1v1h-1zM161 123h2v1h-2zM164 123h1v1h-1zM174 123h1v1h-1zM176 123h1v1h-1zM185 123h1v1h-1zM372 123h2v1h-2zM391 123h1v1h-1zM409 123h1v1h-1zM416 123h1v1h-1zM421 123h1v1h-1zM424 123h1v1h-1zM429 123h3v1h-3zM435 123h1v1h-1zM438 123h2v1h-2zM442 123h1v1h-1zM445 123h1v1h-1zM451 123h1v1h-1zM466 123h1v1h-1zM486 123h1v1h-1zM495 123h1v1h-1zM498 123h1v1h-1zM501 123h2v1h-2zM508 123h1v1h-1zM513 123h1v1h-1zM518 123h1v1h-1zM59 124h1v1h-1zM63 124h1v1h-1zM66 124h1v1h-1zM69 124h1v1h-1zM71 124h1v1h-1zM73 124h3v1h-3zM79 124h1v1h-1zM98 124h1v1h-1zM101 124h1v1h-1zM108 124h3v1h-3zM112 124h1v1h-1zM114 124h2v1h-2zM123 124h1v1h-1zM125 124h1v1h-1zM127 124h1v1h-1zM131 124h1v1h-1zM133 124h2v1h-2zM142 124h1v1h-1zM147 124h2v1h-2zM154 124h1v1h-1zM156 124h1v1h-1zM158 124h1v1h-1zM165 124h4v1h-4zM172 124h1v1h-1zM396 124h2v1h-2zM399 124h1v1h-1zM402 124h1v1h-1zM413 124h1v1h-1zM415 124h2v1h-2zM422 124h1v1h-1zM425 124h2v1h-2zM428 124h1v1h-1zM435 124h1v1h-1zM437 124h1v1h-1zM442 124h1v1h-1zM446 124h2v1h-2zM493 124h1v1h-1zM497 124h1v1h-1zM501 124h1v1h-1zM510 124h1v1h-1zM520 124h1v1h-1zM560 124h1v1h-1zM70 125h1v1h-1zM72 125h1v1h-1zM75 125h2v1h-2zM82 125h1v1h-1zM90 125h1v1h-1zM101 125h1v1h-1zM103 125h1v1h-1zM106 125h2v1h-2zM110 125h1v1h-1zM112 125h1v1h-1zM114 125h1v1h-1zM117 125h2v1h-2zM124 125h2v1h-2zM131 125h1v1h-1zM133 125h2v1h-2zM136 125h2v1h-2zM145 125h1v1h-1zM148 125h1v1h-1zM151 125h2v1h-2zM160 125h2v1h-2zM166 125h1v1h-1zM373 125h1v1h-1zM375 125h1v1h-1zM391 125h1v1h-1zM413 125h3v1h-3zM426 125h1v1h-1zM428 125h1v1h-1zM431 125h1v1h-1zM433 125h1v1h-1zM435 125h2v1h-2zM443 125h1v1h-1zM447 125h1v1h-1zM455 125h1v1h-1zM465 125h1v1h-1zM468 125h1v1h-1zM490 125h1v1h-1zM492 125h1v1h-1zM497 125h2v1h-2zM501 125h1v1h-1zM504 125h1v1h-1zM507 125h1v1h-1zM510 125h1v1h-1zM527 125h1v1h-1zM65 126h1v1h-1zM74 126h2v1h-2zM102 126h1v1h-1zM105 126h2v1h-2zM113 126h2v1h-2zM130 126h1v1h-1zM138 126h1v1h-1zM140 126h1v1h-1zM149 126h1v1h-1zM152 126h1v1h-1zM156 126h1v1h-1zM159 126h1v1h-1zM169 126h1v1h-1zM171 126h1v1h-1zM372 126h1v1h-1zM377 126h1v1h-1zM383 126h1v1h-1zM392 126h1v1h-1zM394 126h1v1h-1zM399 126h1v1h-1zM401 126h1v1h-1zM404 126h1v1h-1zM414 126h2v1h-2zM422 126h2v1h-2zM427 126h1v1h-1zM432 126h1v1h-1zM439 126h2v1h-2zM443 126h1v1h-1zM445 126h1v1h-1zM447 126h1v1h-1zM486 126h1v1h-1zM498 126h1v1h-1zM504 126h2v1h-2zM517 126h1v1h-1zM525 126h1v1h-1zM63 127h1v1h-1zM69 127h1v1h-1zM71 127h1v1h-1zM73 127h1v1h-1zM77 127h1v1h-1zM80 127h1v1h-1zM85 127h1v1h-1zM88 127h1v1h-1zM94 127h1v1h-1zM104 127h1v1h-1zM110 127h1v1h-1zM113 127h1v1h-1zM119 127h2v1h-2zM128 127h1v1h-1zM132 127h1v1h-1zM134 127h1v1h-1zM145 127h2v1h-2zM153 127h1v1h-1zM156 127h1v1h-1zM162 127h1v1h-1zM167 127h1v1h-1zM176 127h1v1h-1zM379 127h1v1h-1zM385 127h1v1h-1zM387 127h1v1h-1zM398 127h2v1h-2zM409 127h1v1h-1zM417 127h2v1h-2zM420 127h1v1h-1zM422 127h1v1h-1zM427 127h1v1h-1zM431 127h1v1h-1zM436 127h1v1h-1zM442 127h1v1h-1zM494 127h1v1h-1zM502 127h1v1h-1zM530 127h1v1h-1zM57 128h1v1h-1zM62 128h2v1h-2zM67 128h2v1h-2zM70 128h1v1h-1zM72 128h1v1h-1zM75 128h1v1h-1zM79 128h2v1h-2zM85 128h1v1h-1zM98 128h2v1h-2zM104 128h1v1h-1zM106 128h1v1h-1zM108 128h2v1h-2zM113 128h2v1h-2zM118 128h1v1h-1zM124 128h1v1h-1zM126 128h1v1h-1zM129 128h1v1h-1zM135 128h1v1h-1zM144 128h1v1h-1zM154 128h2v1h-2zM177 128h1v1h-1zM374 128h1v1h-1zM380 128h1v1h-1zM391 128h1v1h-1zM395 128h1v1h-1zM409 128h2v1h-2zM412 128h2v1h-2zM415 128h1v1h-1zM419 128h1v1h-1zM425 128h1v1h-1zM427 128h1v1h-1zM429 128h1v1h-1zM431 128h1v1h-1zM435 128h1v1h-1zM442 128h1v1h-1zM449 128h1v1h-1zM489 128h1v1h-1zM499 128h1v1h-1zM501 128h1v1h-1zM513 128h1v1h-1zM62 129h1v1h-1zM65 129h1v1h-1zM68 129h1v1h-1zM70 129h1v1h-1zM72 129h2v1h-2zM75 129h2v1h-2zM80 129h1v1h-1zM87 129h1v1h-1zM89 129h1v1h-1zM92 129h3v1h-3zM110 129h2v1h-2zM114 129h1v1h-1zM117 129h1v1h-1zM122 129h1v1h-1zM127 129h1v1h-1zM129 129h1v1h-1zM134 129h1v1h-1zM146 129h1v1h-1zM148 129h1v1h-1zM157 129h1v1h-1zM159 129h1v1h-1zM164 129h1v1h-1zM176 129h1v1h-1zM376 129h2v1h-2zM381 129h1v1h-1zM383 129h1v1h-1zM389 129h2v1h-2zM396 129h1v1h-1zM399 129h2v1h-2zM404 129h1v1h-1zM406 129h1v1h-1zM410 129h1v1h-1zM413 129h3v1h-3zM417 129h1v1h-1zM419 129h2v1h-2zM422 129h1v1h-1zM424 129h2v1h-2zM431 129h1v1h-1zM434 129h1v1h-1zM436 129h1v1h-1zM443 129h1v1h-1zM449 129h1v1h-1zM481 129h1v1h-1zM485 129h1v1h-1zM491 129h1v1h-1zM499 129h1v1h-1zM64 130h1v1h-1zM68 130h2v1h-2zM71 130h3v1h-3zM77 130h2v1h-2zM80 130h2v1h-2zM84 130h1v1h-1zM91 130h1v1h-1zM94 130h2v1h-2zM109 130h1v1h-1zM114 130h1v1h-1zM119 130h1v1h-1zM123 130h1v1h-1zM126 130h3v1h-3zM136 130h1v1h-1zM139 130h2v1h-2zM142 130h1v1h-1zM149 130h2v1h-2zM153 130h1v1h-1zM156 130h2v1h-2zM169 130h1v1h-1zM172 130h1v1h-1zM176 130h2v1h-2zM373 130h1v1h-1zM375 130h4v1h-4zM382 130h4v1h-4zM388 130h1v1h-1zM391 130h1v1h-1zM393 130h1v1h-1zM400 130h1v1h-1zM402 130h2v1h-2zM407 130h2v1h-2zM410 130h4v1h-4zM415 130h1v1h-1zM420 130h1v1h-1zM422 130h1v1h-1zM424 130h1v1h-1zM427 130h3v1h-3zM435 130h1v1h-1zM439 130h1v1h-1zM460 130h1v1h-1zM469 130h1v1h-1zM477 130h1v1h-1zM487 130h1v1h-1zM495 130h1v1h-1zM498 130h2v1h-2zM509 130h1v1h-1zM515 130h1v1h-1zM62 131h2v1h-2zM66 131h2v1h-2zM69 131h2v1h-2zM73 131h1v1h-1zM77 131h1v1h-1zM79 131h4v1h-4zM85 131h1v1h-1zM87 131h3v1h-3zM91 131h1v1h-1zM95 131h1v1h-1zM98 131h4v1h-4zM110 131h1v1h-1zM124 131h3v1h-3zM129 131h1v1h-1zM132 131h1v1h-1zM139 131h1v1h-1zM142 131h1v1h-1zM144 131h1v1h-1zM150 131h1v1h-1zM152 131h2v1h-2zM160 131h1v1h-1zM164 131h1v1h-1zM167 131h1v1h-1zM176 131h2v1h-2zM250 131h1v1h-1zM379 131h1v1h-1zM384 131h1v1h-1zM388 131h1v1h-1zM392 131h2v1h-2zM395 131h1v1h-1zM397 131h2v1h-2zM405 131h1v1h-1zM412 131h2v1h-2zM415 131h1v1h-1zM417 131h2v1h-2zM423 131h1v1h-1zM426 131h1v1h-1zM429 131h1v1h-1zM431 131h1v1h-1zM436 131h1v1h-1zM450 131h2v1h-2zM460 131h1v1h-1zM478 131h1v1h-1zM481 131h1v1h-1zM483 131h1v1h-1zM489 131h1v1h-1zM500 131h1v1h-1zM512 131h1v1h-1zM75 132h2v1h-2zM79 132h1v1h-1zM82 132h1v1h-1zM85 132h1v1h-1zM87 132h2v1h-2zM91 132h1v1h-1zM99 132h3v1h-3zM103 132h2v1h-2zM106 132h1v1h-1zM109 132h1v1h-1zM121 132h1v1h-1zM131 132h1v1h-1zM136 132h1v1h-1zM139 132h1v1h-1zM149 132h1v1h-1zM160 132h1v1h-1zM164 132h1v1h-1zM185 132h1v1h-1zM373 132h4v1h-4zM378 132h1v1h-1zM385 132h1v1h-1zM387 132h1v1h-1zM390 132h2v1h-2zM394 132h1v1h-1zM398 132h1v1h-1zM402 132h1v1h-1zM406 132h1v1h-1zM409 132h1v1h-1zM411 132h2v1h-2zM415 132h1v1h-1zM419 132h1v1h-1zM421 132h2v1h-2zM424 132h1v1h-1zM426 132h2v1h-2zM429 132h1v1h-1zM442 132h1v1h-1zM445 132h1v1h-1zM497 132h1v1h-1zM510 132h1v1h-1zM58 133h1v1h-1zM60 133h1v1h-1zM68 133h1v1h-1zM73 133h1v1h-1zM78 133h1v1h-1zM81 133h2v1h-2zM87 133h1v1h-1zM89 133h1v1h-1zM105 133h1v1h-1zM112 133h1v1h-1zM116 133h2v1h-2zM119 133h1v1h-1zM121 133h1v1h-1zM123 133h1v1h-1zM125 133h1v1h-1zM143 133h1v1h-1zM148 133h1v1h-1zM154 133h1v1h-1zM158 133h1v1h-1zM164 133h1v1h-1zM373 133h1v1h-1zM376 133h1v1h-1zM379 133h1v1h-1zM384 133h4v1h-4zM391 133h1v1h-1zM395 133h1v1h-1zM397 133h1v1h-1zM401 133h1v1h-1zM411 133h1v1h-1zM416 133h1v1h-1zM422 133h1v1h-1zM424 133h1v1h-1zM447 133h1v1h-1zM494 133h1v1h-1zM497 133h1v1h-1zM68 134h1v1h-1zM75 134h1v1h-1zM79 134h1v1h-1zM89 134h1v1h-1zM92 134h2v1h-2zM100 134h2v1h-2zM105 134h1v1h-1zM118 134h1v1h-1zM139 134h1v1h-1zM142 134h1v1h-1zM149 134h1v1h-1zM375 134h1v1h-1zM381 134h1v1h-1zM390 134h1v1h-1zM396 134h1v1h-1zM406 134h4v1h-4zM418 134h1v1h-1zM425 134h1v1h-1zM428 134h1v1h-1zM440 134h3v1h-3zM464 134h1v1h-1zM485 134h1v1h-1zM67 135h1v1h-1zM72 135h1v1h-1zM74 135h1v1h-1zM76 135h1v1h-1zM79 135h1v1h-1zM83 135h1v1h-1zM85 135h1v1h-1zM92 135h1v1h-1zM97 135h1v1h-1zM100 135h1v1h-1zM102 135h2v1h-2zM107 135h1v1h-1zM111 135h1v1h-1zM114 135h3v1h-3zM132 135h2v1h-2zM136 135h1v1h-1zM140 135h1v1h-1zM151 135h1v1h-1zM158 135h1v1h-1zM167 135h1v1h-1zM376 135h1v1h-1zM384 135h1v1h-1zM392 135h1v1h-1zM394 135h1v1h-1zM401 135h1v1h-1zM420 135h2v1h-2zM426 135h1v1h-1zM433 135h1v1h-1zM436 135h1v1h-1zM470 135h1v1h-1zM502 135h3v1h-3zM68 136h1v1h-1zM72 136h1v1h-1zM83 136h1v1h-1zM91 136h1v1h-1zM93 136h1v1h-1zM96 136h1v1h-1zM112 136h1v1h-1zM117 136h1v1h-1zM127 136h1v1h-1zM129 136h1v1h-1zM138 136h1v1h-1zM153 136h1v1h-1zM387 136h1v1h-1zM405 136h1v1h-1zM410 136h1v1h-1zM413 136h1v1h-1zM419 136h1v1h-1zM422 136h1v1h-1zM432 136h1v1h-1zM435 136h1v1h-1zM445 136h2v1h-2zM494 136h1v1h-1zM508 136h1v1h-1zM62 137h1v1h-1zM74 137h1v1h-1zM76 137h1v1h-1zM83 137h2v1h-2zM98 137h1v1h-1zM102 137h1v1h-1zM105 137h1v1h-1zM123 137h1v1h-1zM146 137h1v1h-1zM149 137h1v1h-1zM386 137h1v1h-1zM391 137h1v1h-1zM395 137h1v1h-1zM400 137h1v1h-1zM403 137h1v1h-1zM405 137h1v1h-1zM407 137h1v1h-1zM414 137h1v1h-1zM419 137h1v1h-1zM444 137h1v1h-1zM491 137h1v1h-1zM523 137h1v1h-1zM73 138h1v1h-1zM80 138h1v1h-1zM86 138h1v1h-1zM92 138h1v1h-1zM110 138h1v1h-1zM120 138h1v1h-1zM127 138h1v1h-1zM130 138h1v1h-1zM134 138h2v1h-2zM148 138h1v1h-1zM162 138h2v1h-2zM377 138h1v1h-1zM382 138h1v1h-1zM385 138h1v1h-1zM387 138h1v1h-1zM391 138h1v1h-1zM393 138h2v1h-2zM401 138h1v1h-1zM411 138h1v1h-1zM421 138h1v1h-1zM499 138h1v1h-1zM514 138h1v1h-1zM544 138h1v1h-1zM70 139h1v1h-1zM84 139h1v1h-1zM86 139h1v1h-1zM114 139h1v1h-1zM124 139h1v1h-1zM129 139h1v1h-1zM132 139h1v1h-1zM140 139h1v1h-1zM149 139h1v1h-1zM154 139h1v1h-1zM167 139h1v1h-1zM392 139h1v1h-1zM395 139h1v1h-1zM402 139h1v1h-1zM404 139h1v1h-1zM407 139h1v1h-1zM426 139h1v1h-1zM430 139h1v1h-1zM481 139h2v1h-2zM496 139h1v1h-1zM67 140h1v1h-1zM76 140h1v1h-1zM91 140h1v1h-1zM93 140h1v1h-1zM116 140h1v1h-1zM123 140h1v1h-1zM127 140h1v1h-1zM381 140h1v1h-1zM387 140h1v1h-1zM394 140h2v1h-2zM406 140h1v1h-1zM425 140h1v1h-1zM440 140h1v1h-1zM470 140h1v1h-1zM491 140h1v1h-1zM92 141h1v1h-1zM96 141h1v1h-1zM98 141h1v1h-1zM101 141h2v1h-2zM105 141h1v1h-1zM109 141h1v1h-1zM113 141h1v1h-1zM124 141h2v1h-2zM127 141h1v1h-1zM134 141h1v1h-1zM153 141h1v1h-1zM382 141h2v1h-2zM386 141h1v1h-1zM409 141h1v1h-1zM415 141h1v1h-1zM422 141h1v1h-1zM424 141h2v1h-2zM470 141h1v1h-1zM497 141h2v1h-2zM86 142h1v1h-1zM113 142h1v1h-1zM132 142h1v1h-1zM134 142h1v1h-1zM145 142h1v1h-1zM149 142h1v1h-1zM153 142h1v1h-1zM179 142h1v1h-1zM388 142h1v1h-1zM399 142h1v1h-1zM405 142h2v1h-2zM436 142h1v1h-1zM440 142h1v1h-1zM57 143h1v1h-1zM68 143h1v1h-1zM78 143h2v1h-2zM83 143h1v1h-1zM104 143h1v1h-1zM107 143h1v1h-1zM119 143h1v1h-1zM127 143h1v1h-1zM129 143h1v1h-1zM133 143h1v1h-1zM136 143h2v1h-2zM144 143h1v1h-1zM152 143h2v1h-2zM396 143h1v1h-1zM408 143h1v1h-1zM432 143h1v1h-1zM458 143h1v1h-1zM498 143h1v1h-1zM58 144h1v1h-1zM68 144h1v1h-1zM80 144h1v1h-1zM90 144h1v1h-1zM100 144h1v1h-1zM139 144h1v1h-1zM142 144h1v1h-1zM373 144h1v1h-1zM386 144h1v1h-1zM389 144h1v1h-1zM404 144h1v1h-1zM415 144h1v1h-1zM425 144h1v1h-1zM431 144h1v1h-1zM126 145h1v1h-1zM160 145h1v1h-1zM394 145h1v1h-1zM409 145h1v1h-1zM424 145h1v1h-1zM431 145h1v1h-1zM90 146h1v1h-1zM102 146h1v1h-1zM107 146h3v1h-3zM117 146h1v1h-1zM123 146h1v1h-1zM132 146h1v1h-1zM140 146h1v1h-1zM150 146h1v1h-1zM156 146h1v1h-1zM160 146h1v1h-1zM387 146h1v1h-1zM413 146h1v1h-1zM424 146h2v1h-2zM487 146h1v1h-1zM76 147h1v1h-1zM87 147h1v1h-1zM100 147h1v1h-1zM124 147h1v1h-1zM139 147h1v1h-1zM398 147h1v1h-1zM402 147h1v1h-1zM413 147h1v1h-1zM418 147h1v1h-1zM434 147h1v1h-1zM458 147h1v1h-1zM92 148h1v1h-1zM94 148h1v1h-1zM96 148h1v1h-1zM100 148h1v1h-1zM140 148h1v1h-1zM386 148h1v1h-1zM394 148h1v1h-1zM432 148h1v1h-1zM79 149h1v1h-1zM100 149h1v1h-1zM109 149h1v1h-1zM112 149h2v1h-2zM117 149h1v1h-1zM149 149h1v1h-1zM161 149h1v1h-1zM410 149h1v1h-1zM426 149h1v1h-1zM67 150h1v1h-1zM94 150h1v1h-1zM96 150h1v1h-1zM99 150h1v1h-1zM142 150h1v1h-1zM395 150h1v1h-1zM498 150h1v1h-1zM76 151h1v1h-1zM103 151h1v1h-1zM155 151h1v1h-1zM384 151h1v1h-1zM448 151h1v1h-1zM502 151h1v1h-1zM86 152h1v1h-1zM109 152h1v1h-1zM131 152h1v1h-1zM140 152h1v1h-1zM153 152h1v1h-1zM400 152h1v1h-1zM402 152h1v1h-1zM81 153h1v1h-1zM86 153h1v1h-1zM93 153h1v1h-1zM105 153h2v1h-2zM96 154h1v1h-1zM122 154h1v1h-1zM398 154h1v1h-1zM120 155h1v1h-1zM109 156h1v1h-1zM114 156h1v1h-1zM124 156h1v1h-1zM67 157h1v1h-1zM89 157h1v1h-1zM102 157h1v1h-1zM375 157h1v1h-1zM481 157h1v1h-1zM492 157h1v1h-1zM457 158h1v1h-1zM92 159h1v1h-1zM434 159h1v1h-1zM126 162h1v1h-1zM485 162h1v1h-1zM488 162h1v1h-1zM185 163h1v1h-1zM471 165h1v1h-1zM377 169h1v1h-1zM127 171h1v1h-1zM481 171h1v1h-1zM102 172h1v1h-1zM120 211h1v1h-1zM378 212h1v1h-1z"/>
<line x1="54.60" y1="15.00" x2="277.50" y2="15.00" stroke="#4a4a4a" stroke-width="1.5"/>
<line x1="54.60" y1="14.30" x2="54.60" y2="238.00" stroke="#111" stroke-width="1.3"/>
<line x1="54.00" y1="237.40" x2="277.50" y2="237.40" stroke="#111" stroke-width="1.3"/>
<line x1="49.10" y1="235.50" x2="54.60" y2="235.50" stroke="#111" stroke-width="1.1"/>
<line x1="49.10" y1="215.00" x2="54.60" y2="215.00" stroke="#111" stroke-width="1.1"/>
<line x1="49.10" y1="190.00" x2="54.60" y2="190.00" stroke="#111" stroke-width="1.1"/>
<line x1="49.10" y1="136.80" x2="54.60" y2="136.80" stroke="#111" stroke-width="1.1"/>
<line x1="49.10" y1="85.40" x2="54.60" y2="85.40" stroke="#111" stroke-width="1.1"/>
<line x1="49.10" y1="35.40" x2="54.60" y2="35.40" stroke="#111" stroke-width="1.1"/>
<line x1="50.60" y1="225.25" x2="54.60" y2="225.25" stroke="#111" stroke-width="1.1"/>
<line x1="50.60" y1="202.50" x2="54.60" y2="202.50" stroke="#111" stroke-width="1.1"/>
<line x1="52.10" y1="233.45" x2="54.60" y2="233.45" stroke="#111" stroke-width="1.1"/>
<line x1="52.10" y1="231.40" x2="54.60" y2="231.40" stroke="#111" stroke-width="1.1"/>
<line x1="52.10" y1="229.35" x2="54.60" y2="229.35" stroke="#111" stroke-width="1.1"/>
<line x1="52.10" y1="227.30" x2="54.60" y2="227.30" stroke="#111" stroke-width="1.1"/>
<line x1="52.10" y1="223.20" x2="54.60" y2="223.20" stroke="#111" stroke-width="1.1"/>
<line x1="52.10" y1="221.15" x2="54.60" y2="221.15" stroke="#111" stroke-width="1.1"/>
<line x1="52.10" y1="219.10" x2="54.60" y2="219.10" stroke="#111" stroke-width="1.1"/>
<line x1="52.10" y1="217.05" x2="54.60" y2="217.05" stroke="#111" stroke-width="1.1"/>
<line x1="52.10" y1="212.50" x2="54.60" y2="212.50" stroke="#111" stroke-width="1.1"/>
<line x1="52.10" y1="210.00" x2="54.60" y2="210.00" stroke="#111" stroke-width="1.1"/>
<line x1="52.10" y1="207.50" x2="54.60" y2="207.50" stroke="#111" stroke-width="1.1"/>
<line x1="52.10" y1="205.00" x2="54.60" y2="205.00" stroke="#111" stroke-width="1.1"/>
<line x1="52.10" y1="200.00" x2="54.60" y2="200.00" stroke="#111" stroke-width="1.1"/>
<line x1="52.10" y1="197.50" x2="54.60" y2="197.50" stroke="#111" stroke-width="1.1"/>
<line x1="52.10" y1="195.00" x2="54.60" y2="195.00" stroke="#111" stroke-width="1.1"/>
<line x1="52.10" y1="192.50" x2="54.60" y2="192.50" stroke="#111" stroke-width="1.1"/>
<line x1="52.10" y1="173.99" x2="54.60" y2="173.99" stroke="#111" stroke-width="1.1"/>
<line x1="52.10" y1="164.62" x2="54.60" y2="164.62" stroke="#111" stroke-width="1.1"/>
<line x1="52.10" y1="157.97" x2="54.60" y2="157.97" stroke="#111" stroke-width="1.1"/>
<line x1="52.10" y1="152.81" x2="54.60" y2="152.81" stroke="#111" stroke-width="1.1"/>
<line x1="52.10" y1="148.60" x2="54.60" y2="148.60" stroke="#111" stroke-width="1.1"/>
<line x1="52.10" y1="145.04" x2="54.60" y2="145.04" stroke="#111" stroke-width="1.1"/>
<line x1="52.10" y1="141.96" x2="54.60" y2="141.96" stroke="#111" stroke-width="1.1"/>
<line x1="52.10" y1="139.23" x2="54.60" y2="139.23" stroke="#111" stroke-width="1.1"/>
<line x1="52.10" y1="121.33" x2="54.60" y2="121.33" stroke="#111" stroke-width="1.1"/>
<line x1="52.10" y1="112.28" x2="54.60" y2="112.28" stroke="#111" stroke-width="1.1"/>
<line x1="52.10" y1="105.85" x2="54.60" y2="105.85" stroke="#111" stroke-width="1.1"/>
<line x1="52.10" y1="100.87" x2="54.60" y2="100.87" stroke="#111" stroke-width="1.1"/>
<line x1="52.10" y1="96.80" x2="54.60" y2="96.80" stroke="#111" stroke-width="1.1"/>
<line x1="52.10" y1="93.36" x2="54.60" y2="93.36" stroke="#111" stroke-width="1.1"/>
<line x1="52.10" y1="90.38" x2="54.60" y2="90.38" stroke="#111" stroke-width="1.1"/>
<line x1="52.10" y1="87.75" x2="54.60" y2="87.75" stroke="#111" stroke-width="1.1"/>
<line x1="52.10" y1="70.35" x2="54.60" y2="70.35" stroke="#111" stroke-width="1.1"/>
<line x1="52.10" y1="61.54" x2="54.60" y2="61.54" stroke="#111" stroke-width="1.1"/>
<line x1="52.10" y1="55.30" x2="54.60" y2="55.30" stroke="#111" stroke-width="1.1"/>
<line x1="52.10" y1="50.45" x2="54.60" y2="50.45" stroke="#111" stroke-width="1.1"/>
<line x1="52.10" y1="46.49" x2="54.60" y2="46.49" stroke="#111" stroke-width="1.1"/>
<line x1="52.10" y1="43.15" x2="54.60" y2="43.15" stroke="#111" stroke-width="1.1"/>
<line x1="52.10" y1="40.25" x2="54.60" y2="40.25" stroke="#111" stroke-width="1.1"/>
<line x1="52.10" y1="37.69" x2="54.60" y2="37.69" stroke="#111" stroke-width="1.1"/>
<line x1="52.10" y1="20.35" x2="54.60" y2="20.35" stroke="#111" stroke-width="1.1"/>
<line x1="56.50" y1="237.40" x2="56.50" y2="244.70" stroke="#111" stroke-width="1.1"/>
<line x1="78.20" y1="237.40" x2="78.20" y2="244.70" stroke="#111" stroke-width="1.1"/>
<line x1="102.20" y1="237.40" x2="102.20" y2="244.70" stroke="#111" stroke-width="1.1"/>
<line x1="155.60" y1="237.40" x2="155.60" y2="244.70" stroke="#111" stroke-width="1.1"/>
<line x1="207.40" y1="237.40" x2="207.40" y2="244.70" stroke="#111" stroke-width="1.1"/>
<line x1="256.40" y1="237.40" x2="256.40" y2="244.70" stroke="#111" stroke-width="1.1"/>
<line x1="67.35" y1="237.40" x2="67.35" y2="242.90" stroke="#111" stroke-width="1.1"/>
<line x1="90.20" y1="237.40" x2="90.20" y2="242.90" stroke="#111" stroke-width="1.1"/>
<line x1="58.67" y1="237.40" x2="58.67" y2="241.20" stroke="#111" stroke-width="1.1"/>
<line x1="60.84" y1="237.40" x2="60.84" y2="241.20" stroke="#111" stroke-width="1.1"/>
<line x1="63.01" y1="237.40" x2="63.01" y2="241.20" stroke="#111" stroke-width="1.1"/>
<line x1="65.18" y1="237.40" x2="65.18" y2="241.20" stroke="#111" stroke-width="1.1"/>
<line x1="69.52" y1="237.40" x2="69.52" y2="241.20" stroke="#111" stroke-width="1.1"/>
<line x1="71.69" y1="237.40" x2="71.69" y2="241.20" stroke="#111" stroke-width="1.1"/>
<line x1="73.86" y1="237.40" x2="73.86" y2="241.20" stroke="#111" stroke-width="1.1"/>
<line x1="76.03" y1="237.40" x2="76.03" y2="241.20" stroke="#111" stroke-width="1.1"/>
<line x1="80.60" y1="237.40" x2="80.60" y2="241.20" stroke="#111" stroke-width="1.1"/>
<line x1="83.00" y1="237.40" x2="83.00" y2="241.20" stroke="#111" stroke-width="1.1"/>
<line x1="85.40" y1="237.40" x2="85.40" y2="241.20" stroke="#111" stroke-width="1.1"/>
<line x1="87.80" y1="237.40" x2="87.80" y2="241.20" stroke="#111" stroke-width="1.1"/>
<line x1="92.60" y1="237.40" x2="92.60" y2="241.20" stroke="#111" stroke-width="1.1"/>
<line x1="95.00" y1="237.40" x2="95.00" y2="241.20" stroke="#111" stroke-width="1.1"/>
<line x1="97.40" y1="237.40" x2="97.40" y2="241.20" stroke="#111" stroke-width="1.1"/>
<line x1="99.80" y1="237.40" x2="99.80" y2="241.20" stroke="#111" stroke-width="1.1"/>
<line x1="118.28" y1="237.40" x2="118.28" y2="241.20" stroke="#111" stroke-width="1.1"/>
<line x1="127.68" y1="237.40" x2="127.68" y2="241.20" stroke="#111" stroke-width="1.1"/>
<line x1="134.35" y1="237.40" x2="134.35" y2="241.20" stroke="#111" stroke-width="1.1"/>
<line x1="139.52" y1="237.40" x2="139.52" y2="241.20" stroke="#111" stroke-width="1.1"/>
<line x1="143.75" y1="237.40" x2="143.75" y2="241.20" stroke="#111" stroke-width="1.1"/>
<line x1="147.33" y1="237.40" x2="147.33" y2="241.20" stroke="#111" stroke-width="1.1"/>
<line x1="150.43" y1="237.40" x2="150.43" y2="241.20" stroke="#111" stroke-width="1.1"/>
<line x1="153.16" y1="237.40" x2="153.16" y2="241.20" stroke="#111" stroke-width="1.1"/>
<line x1="171.19" y1="237.40" x2="171.19" y2="241.20" stroke="#111" stroke-width="1.1"/>
<line x1="180.31" y1="237.40" x2="180.31" y2="241.20" stroke="#111" stroke-width="1.1"/>
<line x1="186.79" y1="237.40" x2="186.79" y2="241.20" stroke="#111" stroke-width="1.1"/>
<line x1="191.81" y1="237.40" x2="191.81" y2="241.20" stroke="#111" stroke-width="1.1"/>
<line x1="195.91" y1="237.40" x2="195.91" y2="241.20" stroke="#111" stroke-width="1.1"/>
<line x1="199.38" y1="237.40" x2="199.38" y2="241.20" stroke="#111" stroke-width="1.1"/>
<line x1="202.38" y1="237.40" x2="202.38" y2="241.20" stroke="#111" stroke-width="1.1"/>
<line x1="205.03" y1="237.40" x2="205.03" y2="241.20" stroke="#111" stroke-width="1.1"/>
<line x1="222.15" y1="237.40" x2="222.15" y2="241.20" stroke="#111" stroke-width="1.1"/>
<line x1="230.78" y1="237.40" x2="230.78" y2="241.20" stroke="#111" stroke-width="1.1"/>
<line x1="236.90" y1="237.40" x2="236.90" y2="241.20" stroke="#111" stroke-width="1.1"/>
<line x1="241.65" y1="237.40" x2="241.65" y2="241.20" stroke="#111" stroke-width="1.1"/>
<line x1="245.53" y1="237.40" x2="245.53" y2="241.20" stroke="#111" stroke-width="1.1"/>
<line x1="248.81" y1="237.40" x2="248.81" y2="241.20" stroke="#111" stroke-width="1.1"/>
<line x1="251.65" y1="237.40" x2="251.65" y2="241.20" stroke="#111" stroke-width="1.1"/>
<line x1="254.16" y1="237.40" x2="254.16" y2="241.20" stroke="#111" stroke-width="1.1"/>
<line x1="271.15" y1="237.40" x2="271.15" y2="241.20" stroke="#111" stroke-width="1.1"/>
<line x1="371.60" y1="15.70" x2="594.00" y2="15.70" stroke="#4a4a4a" stroke-width="1.5"/>
<line x1="371.60" y1="15.00" x2="371.60" y2="238.50" stroke="#111" stroke-width="1.3"/>
<line x1="371.00" y1="237.90" x2="594.00" y2="237.90" stroke="#111" stroke-width="1.3"/>
<line x1="366.10" y1="236.00" x2="371.60" y2="236.00" stroke="#111" stroke-width="1.1"/>
<line x1="366.10" y1="215.50" x2="371.60" y2="215.50" stroke="#111" stroke-width="1.1"/>
<line x1="366.10" y1="190.60" x2="371.60" y2="190.60" stroke="#111" stroke-width="1.1"/>
<line x1="366.10" y1="137.30" x2="371.60" y2="137.30" stroke="#111" stroke-width="1.1"/>
<line x1="366.10" y1="85.90" x2="371.60" y2="85.90" stroke="#111" stroke-width="1.1"/>
<line x1="366.10" y1="35.90" x2="371.60" y2="35.90" stroke="#111" stroke-width="1.1"/>
<line x1="367.60" y1="225.75" x2="371.60" y2="225.75" stroke="#111" stroke-width="1.1"/>
<line x1="367.60" y1="203.05" x2="371.60" y2="203.05" stroke="#111" stroke-width="1.1"/>
<line x1="369.10" y1="233.95" x2="371.60" y2="233.95" stroke="#111" stroke-width="1.1"/>
<line x1="369.10" y1="231.90" x2="371.60" y2="231.90" stroke="#111" stroke-width="1.1"/>
<line x1="369.10" y1="229.85" x2="371.60" y2="229.85" stroke="#111" stroke-width="1.1"/>
<line x1="369.10" y1="227.80" x2="371.60" y2="227.80" stroke="#111" stroke-width="1.1"/>
<line x1="369.10" y1="223.70" x2="371.60" y2="223.70" stroke="#111" stroke-width="1.1"/>
<line x1="369.10" y1="221.65" x2="371.60" y2="221.65" stroke="#111" stroke-width="1.1"/>
<line x1="369.10" y1="219.60" x2="371.60" y2="219.60" stroke="#111" stroke-width="1.1"/>
<line x1="369.10" y1="217.55" x2="371.60" y2="217.55" stroke="#111" stroke-width="1.1"/>
<line x1="369.10" y1="213.01" x2="371.60" y2="213.01" stroke="#111" stroke-width="1.1"/>
<line x1="369.10" y1="210.52" x2="371.60" y2="210.52" stroke="#111" stroke-width="1.1"/>
<line x1="369.10" y1="208.03" x2="371.60" y2="208.03" stroke="#111" stroke-width="1.1"/>
<line x1="369.10" y1="205.54" x2="371.60" y2="205.54" stroke="#111" stroke-width="1.1"/>
<line x1="369.10" y1="200.56" x2="371.60" y2="200.56" stroke="#111" stroke-width="1.1"/>
<line x1="369.10" y1="198.07" x2="371.60" y2="198.07" stroke="#111" stroke-width="1.1"/>
<line x1="369.10" y1="195.58" x2="371.60" y2="195.58" stroke="#111" stroke-width="1.1"/>
<line x1="369.10" y1="193.09" x2="371.60" y2="193.09" stroke="#111" stroke-width="1.1"/>
<line x1="369.10" y1="174.56" x2="371.60" y2="174.56" stroke="#111" stroke-width="1.1"/>
<line x1="369.10" y1="165.17" x2="371.60" y2="165.17" stroke="#111" stroke-width="1.1"/>
<line x1="369.10" y1="158.51" x2="371.60" y2="158.51" stroke="#111" stroke-width="1.1"/>
<line x1="369.10" y1="153.34" x2="371.60" y2="153.34" stroke="#111" stroke-width="1.1"/>
<line x1="369.10" y1="149.12" x2="371.60" y2="149.12" stroke="#111" stroke-width="1.1"/>
<line x1="369.10" y1="145.56" x2="371.60" y2="145.56" stroke="#111" stroke-width="1.1"/>
<line x1="369.10" y1="142.47" x2="371.60" y2="142.47" stroke="#111" stroke-width="1.1"/>
<line x1="369.10" y1="139.74" x2="371.60" y2="139.74" stroke="#111" stroke-width="1.1"/>
<line x1="369.10" y1="121.83" x2="371.60" y2="121.83" stroke="#111" stroke-width="1.1"/>
<line x1="369.10" y1="112.78" x2="371.60" y2="112.78" stroke="#111" stroke-width="1.1"/>
<line x1="369.10" y1="106.35" x2="371.60" y2="106.35" stroke="#111" stroke-width="1.1"/>
<line x1="369.10" y1="101.37" x2="371.60" y2="101.37" stroke="#111" stroke-width="1.1"/>
<line x1="369.10" y1="97.30" x2="371.60" y2="97.30" stroke="#111" stroke-width="1.1"/>
<line x1="369.10" y1="93.86" x2="371.60" y2="93.86" stroke="#111" stroke-width="1.1"/>
<line x1="369.10" y1="90.88" x2="371.60" y2="90.88" stroke="#111" stroke-width="1.1"/>
<line x1="369.10" y1="88.25" x2="371.60" y2="88.25" stroke="#111" stroke-width="1.1"/>
<line x1="369.10" y1="70.85" x2="371.60" y2="70.85" stroke="#111" stroke-width="1.1"/>
<line x1="369.10" y1="62.04" x2="371.60" y2="62.04" stroke="#111" stroke-width="1.1"/>
<line x1="369.10" y1="55.80" x2="371.60" y2="55.80" stroke="#111" stroke-width="1.1"/>
<line x1="369.10" y1="50.95" x2="371.60" y2="50.95" stroke="#111" stroke-width="1.1"/>
<line x1="369.10" y1="46.99" x2="371.60" y2="46.99" stroke="#111" stroke-width="1.1"/>
<line x1="369.10" y1="43.65" x2="371.60" y2="43.65" stroke="#111" stroke-width="1.1"/>
<line x1="369.10" y1="40.75" x2="371.60" y2="40.75" stroke="#111" stroke-width="1.1"/>
<line x1="369.10" y1="38.19" x2="371.60" y2="38.19" stroke="#111" stroke-width="1.1"/>
<line x1="369.10" y1="20.85" x2="371.60" y2="20.85" stroke="#111" stroke-width="1.1"/>
<line x1="373.30" y1="237.90" x2="373.30" y2="245.20" stroke="#111" stroke-width="1.1"/>
<line x1="395.00" y1="237.90" x2="395.00" y2="245.20" stroke="#111" stroke-width="1.1"/>
<line x1="419.00" y1="237.90" x2="419.00" y2="245.20" stroke="#111" stroke-width="1.1"/>
<line x1="472.40" y1="237.90" x2="472.40" y2="245.20" stroke="#111" stroke-width="1.1"/>
<line x1="524.20" y1="237.90" x2="524.20" y2="245.20" stroke="#111" stroke-width="1.1"/>
<line x1="573.20" y1="237.90" x2="573.20" y2="245.20" stroke="#111" stroke-width="1.1"/>
<line x1="384.15" y1="237.90" x2="384.15" y2="243.40" stroke="#111" stroke-width="1.1"/>
<line x1="407.00" y1="237.90" x2="407.00" y2="243.40" stroke="#111" stroke-width="1.1"/>
<line x1="375.47" y1="237.90" x2="375.47" y2="241.70" stroke="#111" stroke-width="1.1"/>
<line x1="377.64" y1="237.90" x2="377.64" y2="241.70" stroke="#111" stroke-width="1.1"/>
<line x1="379.81" y1="237.90" x2="379.81" y2="241.70" stroke="#111" stroke-width="1.1"/>
<line x1="381.98" y1="237.90" x2="381.98" y2="241.70" stroke="#111" stroke-width="1.1"/>
<line x1="386.32" y1="237.90" x2="386.32" y2="241.70" stroke="#111" stroke-width="1.1"/>
<line x1="388.49" y1="237.90" x2="388.49" y2="241.70" stroke="#111" stroke-width="1.1"/>
<line x1="390.66" y1="237.90" x2="390.66" y2="241.70" stroke="#111" stroke-width="1.1"/>
<line x1="392.83" y1="237.90" x2="392.83" y2="241.70" stroke="#111" stroke-width="1.1"/>
<line x1="397.40" y1="237.90" x2="397.40" y2="241.70" stroke="#111" stroke-width="1.1"/>
<line x1="399.80" y1="237.90" x2="399.80" y2="241.70" stroke="#111" stroke-width="1.1"/>
<line x1="402.20" y1="237.90" x2="402.20" y2="241.70" stroke="#111" stroke-width="1.1"/>
<line x1="404.60" y1="237.90" x2="404.60" y2="241.70" stroke="#111" stroke-width="1.1"/>
<line x1="409.40" y1="237.90" x2="409.40" y2="241.70" stroke="#111" stroke-width="1.1"/>
<line x1="411.80" y1="237.90" x2="411.80" y2="241.70" stroke="#111" stroke-width="1.1"/>
<line x1="414.20" y1="237.90" x2="414.20" y2="241.70" stroke="#111" stroke-width="1.1"/>
<line x1="416.60" y1="237.90" x2="416.60" y2="241.70" stroke="#111" stroke-width="1.1"/>
<line x1="435.08" y1="237.90" x2="435.08" y2="241.70" stroke="#111" stroke-width="1.1"/>
<line x1="444.48" y1="237.90" x2="444.48" y2="241.70" stroke="#111" stroke-width="1.1"/>
<line x1="451.15" y1="237.90" x2="451.15" y2="241.70" stroke="#111" stroke-width="1.1"/>
<line x1="456.32" y1="237.90" x2="456.32" y2="241.70" stroke="#111" stroke-width="1.1"/>
<line x1="460.55" y1="237.90" x2="460.55" y2="241.70" stroke="#111" stroke-width="1.1"/>
<line x1="464.13" y1="237.90" x2="464.13" y2="241.70" stroke="#111" stroke-width="1.1"/>
<line x1="467.23" y1="237.90" x2="467.23" y2="241.70" stroke="#111" stroke-width="1.1"/>
<line x1="469.96" y1="237.90" x2="469.96" y2="241.70" stroke="#111" stroke-width="1.1"/>
<line x1="487.99" y1="237.90" x2="487.99" y2="241.70" stroke="#111" stroke-width="1.1"/>
<line x1="497.11" y1="237.90" x2="497.11" y2="241.70" stroke="#111" stroke-width="1.1"/>
<line x1="503.59" y1="237.90" x2="503.59" y2="241.70" stroke="#111" stroke-width="1.1"/>
<line x1="508.61" y1="237.90" x2="508.61" y2="241.70" stroke="#111" stroke-width="1.1"/>
<line x1="512.71" y1="237.90" x2="512.71" y2="241.70" stroke="#111" stroke-width="1.1"/>
<line x1="516.18" y1="237.90" x2="516.18" y2="241.70" stroke="#111" stroke-width="1.1"/>
<line x1="519.18" y1="237.90" x2="519.18" y2="241.70" stroke="#111" stroke-width="1.1"/>
<line x1="521.83" y1="237.90" x2="521.83" y2="241.70" stroke="#111" stroke-width="1.1"/>
<line x1="538.95" y1="237.90" x2="538.95" y2="241.70" stroke="#111" stroke-width="1.1"/>
<line x1="547.58" y1="237.90" x2="547.58" y2="241.70" stroke="#111" stroke-width="1.1"/>
<line x1="553.70" y1="237.90" x2="553.70" y2="241.70" stroke="#111" stroke-width="1.1"/>
<line x1="558.45" y1="237.90" x2="558.45" y2="241.70" stroke="#111" stroke-width="1.1"/>
<line x1="562.33" y1="237.90" x2="562.33" y2="241.70" stroke="#111" stroke-width="1.1"/>
<line x1="565.61" y1="237.90" x2="565.61" y2="241.70" stroke="#111" stroke-width="1.1"/>
<line x1="568.45" y1="237.90" x2="568.45" y2="241.70" stroke="#111" stroke-width="1.1"/>
<line x1="570.96" y1="237.90" x2="570.96" y2="241.70" stroke="#111" stroke-width="1.1"/>
<line x1="587.95" y1="237.90" x2="587.95" y2="241.70" stroke="#111" stroke-width="1.1"/>
<ellipse cx="162.8" cy="86.3" rx="36.1" ry="22" transform="rotate(-49.1 162.8 86.3)" fill="none" stroke="#2f3fb2" stroke-width="1.35"/>
<path d="M527.2 39.3L535.5 40.7L546 38.2L553.8 47.5L544.5 94L523.5 118.8L499.5 125.5L486 104.5L498 72.3Z" fill="none" stroke="#2f3fb2" stroke-width="1.35" stroke-linejoin="round"/>
<path d="M67.80 312.70H288.40" fill="none" stroke="#7a7a7a" stroke-width="1.3"/>
<path d="M288.40 312.10V532.80" fill="none" stroke="#555" stroke-width="1.3"/>
<line x1="67.80" y1="312.70" x2="67.80" y2="533.40" stroke="#111" stroke-width="1.3"/>
<line x1="67.20" y1="532.80" x2="288.40" y2="532.80" stroke="#111" stroke-width="1.3"/>
<line x1="62.30" y1="532.80" x2="67.80" y2="532.80" stroke="#111" stroke-width="1.1"/>
<line x1="65.30" y1="522.28" x2="67.80" y2="522.28" stroke="#111" stroke-width="1.1"/>
<line x1="65.30" y1="511.77" x2="67.80" y2="511.77" stroke="#111" stroke-width="1.1"/>
<line x1="65.30" y1="501.25" x2="67.80" y2="501.25" stroke="#111" stroke-width="1.1"/>
<line x1="62.30" y1="490.74" x2="67.80" y2="490.74" stroke="#111" stroke-width="1.1"/>
<line x1="65.30" y1="480.22" x2="67.80" y2="480.22" stroke="#111" stroke-width="1.1"/>
<line x1="65.30" y1="469.71" x2="67.80" y2="469.71" stroke="#111" stroke-width="1.1"/>
<line x1="65.30" y1="459.19" x2="67.80" y2="459.19" stroke="#111" stroke-width="1.1"/>
<line x1="62.30" y1="448.68" x2="67.80" y2="448.68" stroke="#111" stroke-width="1.1"/>
<line x1="65.30" y1="438.16" x2="67.80" y2="438.16" stroke="#111" stroke-width="1.1"/>
<line x1="65.30" y1="427.65" x2="67.80" y2="427.65" stroke="#111" stroke-width="1.1"/>
<line x1="65.30" y1="417.13" x2="67.80" y2="417.13" stroke="#111" stroke-width="1.1"/>
<line x1="62.30" y1="406.62" x2="67.80" y2="406.62" stroke="#111" stroke-width="1.1"/>
<line x1="65.30" y1="396.11" x2="67.80" y2="396.11" stroke="#111" stroke-width="1.1"/>
<line x1="65.30" y1="385.59" x2="67.80" y2="385.59" stroke="#111" stroke-width="1.1"/>
<line x1="65.30" y1="375.07" x2="67.80" y2="375.07" stroke="#111" stroke-width="1.1"/>
<line x1="62.30" y1="364.56" x2="67.80" y2="364.56" stroke="#111" stroke-width="1.1"/>
<line x1="65.30" y1="354.04" x2="67.80" y2="354.04" stroke="#111" stroke-width="1.1"/>
<line x1="65.30" y1="343.53" x2="67.80" y2="343.53" stroke="#111" stroke-width="1.1"/>
<line x1="65.30" y1="333.01" x2="67.80" y2="333.01" stroke="#111" stroke-width="1.1"/>
<line x1="62.30" y1="322.50" x2="67.80" y2="322.50" stroke="#111" stroke-width="1.1"/>
<line x1="69.60" y1="532.80" x2="69.60" y2="540.10" stroke="#111" stroke-width="1.1"/>
<line x1="90.30" y1="532.80" x2="90.30" y2="540.10" stroke="#111" stroke-width="1.1"/>
<line x1="114.70" y1="532.80" x2="114.70" y2="540.10" stroke="#111" stroke-width="1.1"/>
<line x1="168.00" y1="532.80" x2="168.00" y2="540.10" stroke="#111" stroke-width="1.1"/>
<line x1="219.30" y1="532.80" x2="219.30" y2="540.10" stroke="#111" stroke-width="1.1"/>
<line x1="268.90" y1="532.80" x2="268.90" y2="540.10" stroke="#111" stroke-width="1.1"/>
<line x1="79.95" y1="532.80" x2="79.95" y2="538.30" stroke="#111" stroke-width="1.1"/>
<line x1="102.50" y1="532.80" x2="102.50" y2="538.30" stroke="#111" stroke-width="1.1"/>
<line x1="71.67" y1="532.80" x2="71.67" y2="536.60" stroke="#111" stroke-width="1.1"/>
<line x1="73.74" y1="532.80" x2="73.74" y2="536.60" stroke="#111" stroke-width="1.1"/>
<line x1="75.81" y1="532.80" x2="75.81" y2="536.60" stroke="#111" stroke-width="1.1"/>
<line x1="77.88" y1="532.80" x2="77.88" y2="536.60" stroke="#111" stroke-width="1.1"/>
<line x1="82.02" y1="532.80" x2="82.02" y2="536.60" stroke="#111" stroke-width="1.1"/>
<line x1="84.09" y1="532.80" x2="84.09" y2="536.60" stroke="#111" stroke-width="1.1"/>
<line x1="86.16" y1="532.80" x2="86.16" y2="536.60" stroke="#111" stroke-width="1.1"/>
<line x1="88.23" y1="532.80" x2="88.23" y2="536.60" stroke="#111" stroke-width="1.1"/>
<line x1="92.74" y1="532.80" x2="92.74" y2="536.60" stroke="#111" stroke-width="1.1"/>
<line x1="95.18" y1="532.80" x2="95.18" y2="536.60" stroke="#111" stroke-width="1.1"/>
<line x1="97.62" y1="532.80" x2="97.62" y2="536.60" stroke="#111" stroke-width="1.1"/>
<line x1="100.06" y1="532.80" x2="100.06" y2="536.60" stroke="#111" stroke-width="1.1"/>
<line x1="104.94" y1="532.80" x2="104.94" y2="536.60" stroke="#111" stroke-width="1.1"/>
<line x1="107.38" y1="532.80" x2="107.38" y2="536.60" stroke="#111" stroke-width="1.1"/>
<line x1="109.82" y1="532.80" x2="109.82" y2="536.60" stroke="#111" stroke-width="1.1"/>
<line x1="112.26" y1="532.80" x2="112.26" y2="536.60" stroke="#111" stroke-width="1.1"/>
<line x1="130.74" y1="532.80" x2="130.74" y2="536.60" stroke="#111" stroke-width="1.1"/>
<line x1="140.13" y1="532.80" x2="140.13" y2="536.60" stroke="#111" stroke-width="1.1"/>
<line x1="146.79" y1="532.80" x2="146.79" y2="536.60" stroke="#111" stroke-width="1.1"/>
<line x1="151.96" y1="532.80" x2="151.96" y2="536.60" stroke="#111" stroke-width="1.1"/>
<line x1="156.18" y1="532.80" x2="156.18" y2="536.60" stroke="#111" stroke-width="1.1"/>
<line x1="159.74" y1="532.80" x2="159.74" y2="536.60" stroke="#111" stroke-width="1.1"/>
<line x1="162.83" y1="532.80" x2="162.83" y2="536.60" stroke="#111" stroke-width="1.1"/>
<line x1="165.56" y1="532.80" x2="165.56" y2="536.60" stroke="#111" stroke-width="1.1"/>
<line x1="183.44" y1="532.80" x2="183.44" y2="536.60" stroke="#111" stroke-width="1.1"/>
<line x1="192.48" y1="532.80" x2="192.48" y2="536.60" stroke="#111" stroke-width="1.1"/>
<line x1="198.89" y1="532.80" x2="198.89" y2="536.60" stroke="#111" stroke-width="1.1"/>
<line x1="203.86" y1="532.80" x2="203.86" y2="536.60" stroke="#111" stroke-width="1.1"/>
<line x1="207.92" y1="532.80" x2="207.92" y2="536.60" stroke="#111" stroke-width="1.1"/>
<line x1="211.35" y1="532.80" x2="211.35" y2="536.60" stroke="#111" stroke-width="1.1"/>
<line x1="214.33" y1="532.80" x2="214.33" y2="536.60" stroke="#111" stroke-width="1.1"/>
<line x1="216.95" y1="532.80" x2="216.95" y2="536.60" stroke="#111" stroke-width="1.1"/>
<line x1="234.23" y1="532.80" x2="234.23" y2="536.60" stroke="#111" stroke-width="1.1"/>
<line x1="242.97" y1="532.80" x2="242.97" y2="536.60" stroke="#111" stroke-width="1.1"/>
<line x1="249.16" y1="532.80" x2="249.16" y2="536.60" stroke="#111" stroke-width="1.1"/>
<line x1="253.97" y1="532.80" x2="253.97" y2="536.60" stroke="#111" stroke-width="1.1"/>
<line x1="257.90" y1="532.80" x2="257.90" y2="536.60" stroke="#111" stroke-width="1.1"/>
<line x1="261.22" y1="532.80" x2="261.22" y2="536.60" stroke="#111" stroke-width="1.1"/>
<line x1="264.09" y1="532.80" x2="264.09" y2="536.60" stroke="#111" stroke-width="1.1"/>
<line x1="266.63" y1="532.80" x2="266.63" y2="536.60" stroke="#111" stroke-width="1.1"/>
<line x1="283.83" y1="532.80" x2="283.83" y2="536.60" stroke="#111" stroke-width="1.1"/>
<path d="M378.00 311.20H599.00" fill="none" stroke="#3a3a3a" stroke-width="1.3"/>
<path d="M599.00 310.60V533.40" fill="none" stroke="#444" stroke-width="1.3"/>
<line x1="378.00" y1="311.20" x2="378.00" y2="534.00" stroke="#111" stroke-width="1.3"/>
<line x1="377.40" y1="533.40" x2="599.00" y2="533.40" stroke="#111" stroke-width="1.3"/>
<line x1="372.50" y1="533.40" x2="378.00" y2="533.40" stroke="#111" stroke-width="1.1"/>
<line x1="375.50" y1="522.80" x2="378.00" y2="522.80" stroke="#111" stroke-width="1.1"/>
<line x1="375.50" y1="512.21" x2="378.00" y2="512.21" stroke="#111" stroke-width="1.1"/>
<line x1="375.50" y1="501.62" x2="378.00" y2="501.62" stroke="#111" stroke-width="1.1"/>
<line x1="372.50" y1="491.02" x2="378.00" y2="491.02" stroke="#111" stroke-width="1.1"/>
<line x1="375.50" y1="480.42" x2="378.00" y2="480.42" stroke="#111" stroke-width="1.1"/>
<line x1="375.50" y1="469.83" x2="378.00" y2="469.83" stroke="#111" stroke-width="1.1"/>
<line x1="375.50" y1="459.24" x2="378.00" y2="459.24" stroke="#111" stroke-width="1.1"/>
<line x1="372.50" y1="448.64" x2="378.00" y2="448.64" stroke="#111" stroke-width="1.1"/>
<line x1="375.50" y1="438.05" x2="378.00" y2="438.05" stroke="#111" stroke-width="1.1"/>
<line x1="375.50" y1="427.45" x2="378.00" y2="427.45" stroke="#111" stroke-width="1.1"/>
<line x1="375.50" y1="416.86" x2="378.00" y2="416.86" stroke="#111" stroke-width="1.1"/>
<line x1="372.50" y1="406.26" x2="378.00" y2="406.26" stroke="#111" stroke-width="1.1"/>
<line x1="375.50" y1="395.66" x2="378.00" y2="395.66" stroke="#111" stroke-width="1.1"/>
<line x1="375.50" y1="385.07" x2="378.00" y2="385.07" stroke="#111" stroke-width="1.1"/>
<line x1="375.50" y1="374.48" x2="378.00" y2="374.48" stroke="#111" stroke-width="1.1"/>
<line x1="372.50" y1="363.88" x2="378.00" y2="363.88" stroke="#111" stroke-width="1.1"/>
<line x1="375.50" y1="353.29" x2="378.00" y2="353.29" stroke="#111" stroke-width="1.1"/>
<line x1="375.50" y1="342.69" x2="378.00" y2="342.69" stroke="#111" stroke-width="1.1"/>
<line x1="375.50" y1="332.10" x2="378.00" y2="332.10" stroke="#111" stroke-width="1.1"/>
<line x1="372.50" y1="321.50" x2="378.00" y2="321.50" stroke="#111" stroke-width="1.1"/>
<line x1="379.80" y1="533.40" x2="379.80" y2="540.70" stroke="#111" stroke-width="1.1"/>
<line x1="400.50" y1="533.40" x2="400.50" y2="540.70" stroke="#111" stroke-width="1.1"/>
<line x1="424.90" y1="533.40" x2="424.90" y2="540.70" stroke="#111" stroke-width="1.1"/>
<line x1="478.20" y1="533.40" x2="478.20" y2="540.70" stroke="#111" stroke-width="1.1"/>
<line x1="529.50" y1="533.40" x2="529.50" y2="540.70" stroke="#111" stroke-width="1.1"/>
<line x1="579.10" y1="533.40" x2="579.10" y2="540.70" stroke="#111" stroke-width="1.1"/>
<line x1="390.15" y1="533.40" x2="390.15" y2="538.90" stroke="#111" stroke-width="1.1"/>
<line x1="412.70" y1="533.40" x2="412.70" y2="538.90" stroke="#111" stroke-width="1.1"/>
<line x1="381.87" y1="533.40" x2="381.87" y2="537.20" stroke="#111" stroke-width="1.1"/>
<line x1="383.94" y1="533.40" x2="383.94" y2="537.20" stroke="#111" stroke-width="1.1"/>
<line x1="386.01" y1="533.40" x2="386.01" y2="537.20" stroke="#111" stroke-width="1.1"/>
<line x1="388.08" y1="533.40" x2="388.08" y2="537.20" stroke="#111" stroke-width="1.1"/>
<line x1="392.22" y1="533.40" x2="392.22" y2="537.20" stroke="#111" stroke-width="1.1"/>
<line x1="394.29" y1="533.40" x2="394.29" y2="537.20" stroke="#111" stroke-width="1.1"/>
<line x1="396.36" y1="533.40" x2="396.36" y2="537.20" stroke="#111" stroke-width="1.1"/>
<line x1="398.43" y1="533.40" x2="398.43" y2="537.20" stroke="#111" stroke-width="1.1"/>
<line x1="402.94" y1="533.40" x2="402.94" y2="537.20" stroke="#111" stroke-width="1.1"/>
<line x1="405.38" y1="533.40" x2="405.38" y2="537.20" stroke="#111" stroke-width="1.1"/>
<line x1="407.82" y1="533.40" x2="407.82" y2="537.20" stroke="#111" stroke-width="1.1"/>
<line x1="410.26" y1="533.40" x2="410.26" y2="537.20" stroke="#111" stroke-width="1.1"/>
<line x1="415.14" y1="533.40" x2="415.14" y2="537.20" stroke="#111" stroke-width="1.1"/>
<line x1="417.58" y1="533.40" x2="417.58" y2="537.20" stroke="#111" stroke-width="1.1"/>
<line x1="420.02" y1="533.40" x2="420.02" y2="537.20" stroke="#111" stroke-width="1.1"/>
<line x1="422.46" y1="533.40" x2="422.46" y2="537.20" stroke="#111" stroke-width="1.1"/>
<line x1="440.94" y1="533.40" x2="440.94" y2="537.20" stroke="#111" stroke-width="1.1"/>
<line x1="450.33" y1="533.40" x2="450.33" y2="537.20" stroke="#111" stroke-width="1.1"/>
<line x1="456.99" y1="533.40" x2="456.99" y2="537.20" stroke="#111" stroke-width="1.1"/>
<line x1="462.16" y1="533.40" x2="462.16" y2="537.20" stroke="#111" stroke-width="1.1"/>
<line x1="466.38" y1="533.40" x2="466.38" y2="537.20" stroke="#111" stroke-width="1.1"/>
<line x1="469.94" y1="533.40" x2="469.94" y2="537.20" stroke="#111" stroke-width="1.1"/>
<line x1="473.03" y1="533.40" x2="473.03" y2="537.20" stroke="#111" stroke-width="1.1"/>
<line x1="475.76" y1="533.40" x2="475.76" y2="537.20" stroke="#111" stroke-width="1.1"/>
<line x1="493.64" y1="533.40" x2="493.64" y2="537.20" stroke="#111" stroke-width="1.1"/>
<line x1="502.68" y1="533.40" x2="502.68" y2="537.20" stroke="#111" stroke-width="1.1"/>
<line x1="509.09" y1="533.40" x2="509.09" y2="537.20" stroke="#111" stroke-width="1.1"/>
<line x1="514.06" y1="533.40" x2="514.06" y2="537.20" stroke="#111" stroke-width="1.1"/>
<line x1="518.12" y1="533.40" x2="518.12" y2="537.20" stroke="#111" stroke-width="1.1"/>
<line x1="521.55" y1="533.40" x2="521.55" y2="537.20" stroke="#111" stroke-width="1.1"/>
<line x1="524.53" y1="533.40" x2="524.53" y2="537.20" stroke="#111" stroke-width="1.1"/>
<line x1="527.15" y1="533.40" x2="527.15" y2="537.20" stroke="#111" stroke-width="1.1"/>
<line x1="544.43" y1="533.40" x2="544.43" y2="537.20" stroke="#111" stroke-width="1.1"/>
<line x1="553.17" y1="533.40" x2="553.17" y2="537.20" stroke="#111" stroke-width="1.1"/>
<line x1="559.36" y1="533.40" x2="559.36" y2="537.20" stroke="#111" stroke-width="1.1"/>
<line x1="564.17" y1="533.40" x2="564.17" y2="537.20" stroke="#111" stroke-width="1.1"/>
<line x1="568.10" y1="533.40" x2="568.10" y2="537.20" stroke="#111" stroke-width="1.1"/>
<line x1="571.42" y1="533.40" x2="571.42" y2="537.20" stroke="#111" stroke-width="1.1"/>
<line x1="574.29" y1="533.40" x2="574.29" y2="537.20" stroke="#111" stroke-width="1.1"/>
<line x1="576.83" y1="533.40" x2="576.83" y2="537.20" stroke="#111" stroke-width="1.1"/>
<line x1="594.03" y1="533.40" x2="594.03" y2="537.20" stroke="#111" stroke-width="1.1"/>
<path d="M220.80 601.80H442.30" fill="none" stroke="#444" stroke-width="1.3"/>
<path d="M442.30 601.20V823.60" fill="none" stroke="#5a5a5a" stroke-width="1.3"/>
<line x1="220.80" y1="601.80" x2="220.80" y2="824.20" stroke="#111" stroke-width="1.3"/>
<line x1="220.20" y1="823.60" x2="442.30" y2="823.60" stroke="#111" stroke-width="1.3"/>
<line x1="215.30" y1="823.60" x2="220.80" y2="823.60" stroke="#111" stroke-width="1.1"/>
<line x1="218.30" y1="813.03" x2="220.80" y2="813.03" stroke="#111" stroke-width="1.1"/>
<line x1="218.30" y1="802.46" x2="220.80" y2="802.46" stroke="#111" stroke-width="1.1"/>
<line x1="218.30" y1="791.89" x2="220.80" y2="791.89" stroke="#111" stroke-width="1.1"/>
<line x1="215.30" y1="781.32" x2="220.80" y2="781.32" stroke="#111" stroke-width="1.1"/>
<line x1="218.30" y1="770.75" x2="220.80" y2="770.75" stroke="#111" stroke-width="1.1"/>
<line x1="218.30" y1="760.18" x2="220.80" y2="760.18" stroke="#111" stroke-width="1.1"/>
<line x1="218.30" y1="749.61" x2="220.80" y2="749.61" stroke="#111" stroke-width="1.1"/>
<line x1="215.30" y1="739.04" x2="220.80" y2="739.04" stroke="#111" stroke-width="1.1"/>
<line x1="218.30" y1="728.47" x2="220.80" y2="728.47" stroke="#111" stroke-width="1.1"/>
<line x1="218.30" y1="717.90" x2="220.80" y2="717.90" stroke="#111" stroke-width="1.1"/>
<line x1="218.30" y1="707.33" x2="220.80" y2="707.33" stroke="#111" stroke-width="1.1"/>
<line x1="215.30" y1="696.76" x2="220.80" y2="696.76" stroke="#111" stroke-width="1.1"/>
<line x1="218.30" y1="686.19" x2="220.80" y2="686.19" stroke="#111" stroke-width="1.1"/>
<line x1="218.30" y1="675.62" x2="220.80" y2="675.62" stroke="#111" stroke-width="1.1"/>
<line x1="218.30" y1="665.05" x2="220.80" y2="665.05" stroke="#111" stroke-width="1.1"/>
<line x1="215.30" y1="654.48" x2="220.80" y2="654.48" stroke="#111" stroke-width="1.1"/>
<line x1="218.30" y1="643.91" x2="220.80" y2="643.91" stroke="#111" stroke-width="1.1"/>
<line x1="218.30" y1="633.34" x2="220.80" y2="633.34" stroke="#111" stroke-width="1.1"/>
<line x1="218.30" y1="622.77" x2="220.80" y2="622.77" stroke="#111" stroke-width="1.1"/>
<line x1="215.30" y1="612.20" x2="220.80" y2="612.20" stroke="#111" stroke-width="1.1"/>
<line x1="222.40" y1="823.60" x2="222.40" y2="830.90" stroke="#111" stroke-width="1.1"/>
<line x1="243.10" y1="823.60" x2="243.10" y2="830.90" stroke="#111" stroke-width="1.1"/>
<line x1="267.50" y1="823.60" x2="267.50" y2="830.90" stroke="#111" stroke-width="1.1"/>
<line x1="320.80" y1="823.60" x2="320.80" y2="830.90" stroke="#111" stroke-width="1.1"/>
<line x1="372.10" y1="823.60" x2="372.10" y2="830.90" stroke="#111" stroke-width="1.1"/>
<line x1="421.70" y1="823.60" x2="421.70" y2="830.90" stroke="#111" stroke-width="1.1"/>
<line x1="232.75" y1="823.60" x2="232.75" y2="829.10" stroke="#111" stroke-width="1.1"/>
<line x1="255.30" y1="823.60" x2="255.30" y2="829.10" stroke="#111" stroke-width="1.1"/>
<line x1="224.47" y1="823.60" x2="224.47" y2="827.40" stroke="#111" stroke-width="1.1"/>
<line x1="226.54" y1="823.60" x2="226.54" y2="827.40" stroke="#111" stroke-width="1.1"/>
<line x1="228.61" y1="823.60" x2="228.61" y2="827.40" stroke="#111" stroke-width="1.1"/>
<line x1="230.68" y1="823.60" x2="230.68" y2="827.40" stroke="#111" stroke-width="1.1"/>
<line x1="234.82" y1="823.60" x2="234.82" y2="827.40" stroke="#111" stroke-width="1.1"/>
<line x1="236.89" y1="823.60" x2="236.89" y2="827.40" stroke="#111" stroke-width="1.1"/>
<line x1="238.96" y1="823.60" x2="238.96" y2="827.40" stroke="#111" stroke-width="1.1"/>
<line x1="241.03" y1="823.60" x2="241.03" y2="827.40" stroke="#111" stroke-width="1.1"/>
<line x1="245.54" y1="823.60" x2="245.54" y2="827.40" stroke="#111" stroke-width="1.1"/>
<line x1="247.98" y1="823.60" x2="247.98" y2="827.40" stroke="#111" stroke-width="1.1"/>
<line x1="250.42" y1="823.60" x2="250.42" y2="827.40" stroke="#111" stroke-width="1.1"/>
<line x1="252.86" y1="823.60" x2="252.86" y2="827.40" stroke="#111" stroke-width="1.1"/>
<line x1="257.74" y1="823.60" x2="257.74" y2="827.40" stroke="#111" stroke-width="1.1"/>
<line x1="260.18" y1="823.60" x2="260.18" y2="827.40" stroke="#111" stroke-width="1.1"/>
<line x1="262.62" y1="823.60" x2="262.62" y2="827.40" stroke="#111" stroke-width="1.1"/>
<line x1="265.06" y1="823.60" x2="265.06" y2="827.40" stroke="#111" stroke-width="1.1"/>
<line x1="283.54" y1="823.60" x2="283.54" y2="827.40" stroke="#111" stroke-width="1.1"/>
<line x1="292.93" y1="823.60" x2="292.93" y2="827.40" stroke="#111" stroke-width="1.1"/>
<line x1="299.59" y1="823.60" x2="299.59" y2="827.40" stroke="#111" stroke-width="1.1"/>
<line x1="304.76" y1="823.60" x2="304.76" y2="827.40" stroke="#111" stroke-width="1.1"/>
<line x1="308.98" y1="823.60" x2="308.98" y2="827.40" stroke="#111" stroke-width="1.1"/>
<line x1="312.54" y1="823.60" x2="312.54" y2="827.40" stroke="#111" stroke-width="1.1"/>
<line x1="315.63" y1="823.60" x2="315.63" y2="827.40" stroke="#111" stroke-width="1.1"/>
<line x1="318.36" y1="823.60" x2="318.36" y2="827.40" stroke="#111" stroke-width="1.1"/>
<line x1="336.24" y1="823.60" x2="336.24" y2="827.40" stroke="#111" stroke-width="1.1"/>
<line x1="345.28" y1="823.60" x2="345.28" y2="827.40" stroke="#111" stroke-width="1.1"/>
<line x1="351.69" y1="823.60" x2="351.69" y2="827.40" stroke="#111" stroke-width="1.1"/>
<line x1="356.66" y1="823.60" x2="356.66" y2="827.40" stroke="#111" stroke-width="1.1"/>
<line x1="360.72" y1="823.60" x2="360.72" y2="827.40" stroke="#111" stroke-width="1.1"/>
<line x1="364.15" y1="823.60" x2="364.15" y2="827.40" stroke="#111" stroke-width="1.1"/>
<line x1="367.13" y1="823.60" x2="367.13" y2="827.40" stroke="#111" stroke-width="1.1"/>
<line x1="369.75" y1="823.60" x2="369.75" y2="827.40" stroke="#111" stroke-width="1.1"/>
<line x1="387.03" y1="823.60" x2="387.03" y2="827.40" stroke="#111" stroke-width="1.1"/>
<line x1="395.77" y1="823.60" x2="395.77" y2="827.40" stroke="#111" stroke-width="1.1"/>
<line x1="401.96" y1="823.60" x2="401.96" y2="827.40" stroke="#111" stroke-width="1.1"/>
<line x1="406.77" y1="823.60" x2="406.77" y2="827.40" stroke="#111" stroke-width="1.1"/>
<line x1="410.70" y1="823.60" x2="410.70" y2="827.40" stroke="#111" stroke-width="1.1"/>
<line x1="414.02" y1="823.60" x2="414.02" y2="827.40" stroke="#111" stroke-width="1.1"/>
<line x1="416.89" y1="823.60" x2="416.89" y2="827.40" stroke="#111" stroke-width="1.1"/>
<line x1="419.43" y1="823.60" x2="419.43" y2="827.40" stroke="#111" stroke-width="1.1"/>
<line x1="436.63" y1="823.60" x2="436.63" y2="827.40" stroke="#111" stroke-width="1.1"/>
<path d="M68.50 532.60 135.00 532.60 139.60 531.60 144.00 529.40 147.20 526.20 151.50 519.70 154.80 506.70 158.40 485.00 160.60 463.30 161.70 435.00 163.00 415.00 163.80 410.00 165.30 381.70 167.50 356.70 168.80 348.30 171.30 331.70 173.30 325.80 175.30 331.70 176.70 348.30 177.20 365.00 177.70 381.70 179.20 401.70 180.80 408.30 182.00 435.00 183.60 463.30 186.20 485.00 190.50 506.70 193.80 521.80 198.00 528.30 203.50 531.60 208.00 532.60 288.00 532.60" fill="none" stroke="#2b36a8" stroke-width="2.15" stroke-linejoin="round"/>
<path d="M70.00 532.60 80.00 532.60 82.20 531.40 86.90 529.00 91.70 520.70 95.90 513.50 98.30 504.00 100.70 500.40 103.00 489.70 104.20 477.70 106.60 475.00 109.60 460.00 113.20 448.00 115.00 431.00 116.00 415.00 117.50 398.30 120.00 381.70 122.50 365.00 123.30 355.00 124.30 362.00 125.20 346.00 126.20 352.00 126.70 340.00 127.50 330.00 128.20 338.00 128.80 327.00 129.50 341.00 130.20 331.00 130.80 344.00 131.50 326.00 132.20 335.00 132.80 329.00 133.40 346.00 134.00 333.00 134.60 349.00 135.20 339.00 135.80 340.00 137.50 348.00 138.70 365.00 140.30 373.00 141.50 378.00 142.50 385.00 143.70 398.00 145.80 415.00 148.30 435.00 149.00 448.00 150.50 466.00 152.60 485.00 155.00 497.00 158.00 506.70 162.30 519.70 167.80 530.50 170.00 532.60 180.00 532.60" fill="none" stroke="#dc1e14" stroke-width="2.0" stroke-linejoin="round"/>
<path d="M69.00 532.60 72.00 532.60 76.00 531.00 80.00 524.00 82.20 506.70 84.80 463.00 86.60 433.70 87.50 397.00 89.80 356.00 91.50 338.00 93.20 326.00 94.20 328.00 95.20 345.00 96.30 365.00 97.50 397.00 98.40 420.00 101.70 474.00 105.00 506.70 108.20 524.00 112.50 532.60 140.00 532.60" fill="none" stroke="#000" stroke-width="1.2" stroke-linejoin="round"/>
<path d="M74.00 532.60 78.00 531.00 81.50 524.00 83.50 506.70 85.50 463.00 87.50 433.70 88.50 397.00 90.50 365.00 92.20 340.00 94.00 326.50 95.00 330.00 96.60 356.00 99.30 397.00 100.60 420.00 103.40 474.00 107.00 506.70 110.30 524.00 115.70 532.60" fill="none" stroke="#222" stroke-width="1.0" stroke-linejoin="round"/>
<path d="M378.00 533.20 490.00 533.20 497.00 530.90 503.00 523.30 506.10 519.10 508.30 508.00 511.40 490.00 513.20 466.80 515.00 435.00 515.50 423.30 516.70 418.30 518.30 398.30 519.70 381.70 521.30 356.70 523.80 340.00 526.20 325.00 528.30 340.00 530.00 356.70 532.00 381.70 533.30 398.30 534.70 418.30 536.30 435.00 537.50 455.00 538.80 472.00 541.40 498.20 545.30 519.10 551.90 529.50 558.40 532.60 565.00 533.20 599.00 533.20" fill="none" stroke="#2b36a8" stroke-width="2.15" stroke-linejoin="round"/>
<path d="M378.50 533.20 378.30 530.00 381.70 531.30 385.00 531.70 390.00 530.30 395.00 529.20 399.00 528.80 403.30 528.00 407.00 527.80 411.70 527.00 415.00 526.30 418.30 525.50 421.70 525.80 425.00 527.50 429.00 527.80 433.30 527.70 437.00 527.90 441.70 527.50 445.50 526.90 449.50 524.10 452.00 524.60 457.70 524.10 461.80 522.10 464.60 520.00 468.00 519.40 469.30 514.60 472.00 506.40 474.10 496.90 476.80 491.40 478.90 483.20 480.90 472.30 483.00 460.00 483.90 449.10 485.00 432.70 486.40 423.20 487.50 415.00 489.20 398.30 490.50 381.70 491.70 370.00 493.00 365.00 494.20 348.30 495.00 335.00 495.80 326.70 496.60 340.00 497.40 331.00 498.20 344.00 499.00 333.00 499.80 336.00 500.50 330.00 501.20 341.00 502.00 333.00 502.70 324.20 503.40 343.00 504.20 340.00 505.00 348.30 506.70 365.00 508.70 381.70 509.70 398.30 511.70 401.70 513.30 415.00 515.00 435.00 516.60 456.40 519.20 482.50 523.10 508.60 528.40 524.30 534.90 532.20 540.00 533.20" fill="none" stroke="#dc1e14" stroke-width="2.0" stroke-linejoin="round"/>
<path d="M385.00 533.20 386.70 531.70 390.00 528.30 392.50 515.00 395.00 490.00 396.20 448.70 397.00 415.00 397.60 409.30 398.20 383.20 398.75 375.20 399.30 362.70 399.90 344.50 400.50 328.60 401.60 324.10 403.00 324.50 404.40 342.30 406.10 362.70 406.70 381.00 407.80 415.00 409.50 448.70 412.50 490.00 414.20 506.70 416.70 523.30 420.00 530.00 425.00 532.00 428.00 533.20" fill="none" stroke="#000" stroke-width="1.0" stroke-linejoin="round"/>
<path d="M387.00 533.20 388.50 531.50 391.00 528.30 393.50 515.00 395.80 490.00 396.80 448.70 397.50 415.00 398.50 383.20 399.50 362.70 400.30 344.50 401.00 328.60 402.00 324.10 405.00 324.10 405.60 326.40 406.70 337.70 406.70 358.20 408.40 362.70 409.00 371.80 409.50 401.40 410.70 405.90 411.25 415.00 412.30 448.70 415.80 490.00 418.30 506.70 421.70 520.00 425.00 528.30 430.00 531.30 446.70 531.70 448.00 533.20" fill="none" stroke="#111" stroke-width="1.0" stroke-linejoin="round"/>
<path d="M386.00 533.20 389.00 530.00 392.50 496.70 395.50 448.70 398.00 403.30 400.00 363.30 401.50 340.00 402.00 326.00 403.00 335.00 404.60 336.70 406.80 363.30 408.90 411.30 411.50 448.70 414.00 483.30 416.50 507.30 420.50 523.30 426.00 531.30 431.00 533.20" fill="none" stroke="#7a2020" stroke-width="0.8" stroke-linejoin="round"/>
<path d="M221.00 823.60 334.00 823.60 338.00 821.00 343.00 815.00 347.00 807.00 349.60 795.00 352.60 775.00 355.00 755.00 356.60 735.00 357.60 722.00 358.30 705.00 358.80 700.00 360.00 688.30 361.20 671.70 362.20 655.00 363.30 638.30 364.20 621.70 365.00 615.00 366.30 621.70 368.30 631.70 370.00 638.30 370.80 646.70 371.30 655.00 372.50 671.70 373.80 688.30 374.70 700.00 375.50 708.30 376.20 718.00 377.00 735.00 378.00 755.00 379.60 775.00 381.60 795.00 383.60 807.00 385.60 815.00 389.00 821.00 392.00 823.60 442.00 823.60" fill="none" stroke="#2b36a8" stroke-width="2.15" stroke-linejoin="round"/>
<path d="M360.00 823.60 364.00 823.60 367.00 823.00 373.00 819.00 377.00 815.00 379.60 807.00 382.40 795.00 385.60 775.00 387.00 765.00 388.40 755.00 389.60 735.00 390.50 722.00 392.20 705.00 393.70 688.30 394.70 686.70 396.30 671.70 397.00 663.30 398.00 655.00 400.00 646.70 403.00 630.00 405.00 615.00 407.00 630.00 408.70 646.70 410.00 663.30 411.70 678.30 413.00 680.00 412.50 686.70 413.30 688.30 414.20 705.00 414.80 716.00 415.60 735.00 416.40 745.00 419.00 765.00 421.00 785.00 424.00 805.00 427.00 815.00 432.00 821.00 436.00 823.60 441.00 823.60" fill="none" stroke="#dc1e14" stroke-width="2.0" stroke-linejoin="round"/>
<g filter="url(#gs)">
<text x="22.70" y="43.10" font-size="13.5">10</text>
<text x="38.31" y="39.20" font-size="9.7">5</text>
<text x="339.50" y="43.60" font-size="13.5">10</text>
<text x="355.11" y="39.70" font-size="9.7">5</text>
<text x="22.57" y="93.10" font-size="13.5">10</text>
<text x="38.19" y="89.20" font-size="9.7">4</text>
<text x="339.37" y="93.60" font-size="13.5">10</text>
<text x="354.99" y="89.70" font-size="9.7">4</text>
<text x="22.72" y="144.50" font-size="13.5">10</text>
<text x="38.33" y="140.60" font-size="9.7">3</text>
<text x="339.52" y="145.00" font-size="13.5">10</text>
<text x="355.13" y="141.10" font-size="9.7">3</text>
<text x="22.78" y="197.70" font-size="13.5">10</text>
<text x="38.39" y="193.80" font-size="9.7">2</text>
<text x="339.58" y="198.30" font-size="13.5">10</text>
<text x="355.19" y="194.40" font-size="9.7">2</text>
<text x="36.12" y="219.20" font-size="13.5">0</text>
<text x="352.92" y="219.70" font-size="13.5">0</text>
<text x="75.25" y="267.20" font-size="13.5">0</text>
<text x="391.25" y="265.90" font-size="13.5">0</text>
<text x="92.42" y="267.20" font-size="13.5">10</text>
<text x="108.04" y="263.30" font-size="9.7">2</text>
<text x="408.22" y="265.90" font-size="13.5">10</text>
<text x="423.84" y="262.00" font-size="9.7">2</text>
<text x="143.29" y="267.20" font-size="13.5">10</text>
<text x="158.91" y="263.30" font-size="9.7">3</text>
<text x="461.59" y="265.90" font-size="13.5">10</text>
<text x="477.21" y="262.00" font-size="9.7">3</text>
<text x="195.02" y="267.20" font-size="13.5">10</text>
<text x="210.64" y="263.30" font-size="9.7">4</text>
<text x="513.32" y="265.90" font-size="13.5">10</text>
<text x="528.94" y="262.00" font-size="9.7">4</text>
<text x="245.58" y="267.20" font-size="13.5">10</text>
<text x="261.20" y="263.30" font-size="9.7">5</text>
<text x="562.38" y="265.90" font-size="13.5">10</text>
<text x="578.00" y="262.00" font-size="9.7">5</text>
<text x="7.42" y="16.00" font-size="16">a</text>
<text x="311.27" y="15.00" font-size="16">b</text>
<text x="143.83" y="293.80" font-size="17">SSC-A</text>
<text x="453.44" y="293.80" font-size="17">CD42b</text>
<text x="191.01" y="150.50" font-size="17">Platelet</text>
<text x="191.39" y="171.20" font-size="17">gate</text>
<text x="517.21" y="153.60" font-size="17">Platelet</text>
<text x="517.39" y="175.80" font-size="17">gate</text>
<text x="0" y="0" font-size="17" text-anchor="middle" transform="translate(15.0 129.5) rotate(-90)">FSC-A</text>
<text x="0" y="0" font-size="17" text-anchor="middle" transform="translate(331.1 129.3) rotate(-90)">FSC-A</text>
<text x="48.42" y="538.20" font-size="13.5">0</text>
<text x="40.91" y="496.14" font-size="13.5">20</text>
<text x="40.91" y="454.08" font-size="13.5">40</text>
<text x="40.91" y="412.02" font-size="13.5">60</text>
<text x="40.91" y="369.96" font-size="13.5">80</text>
<text x="33.40" y="327.90" font-size="13.5">100</text>
<text x="86.55" y="557.80" font-size="13.5">0</text>
<text x="102.52" y="557.80" font-size="13.5">10</text>
<text x="118.14" y="553.90" font-size="9.7">2</text>
<text x="155.79" y="557.80" font-size="13.5">10</text>
<text x="171.41" y="553.90" font-size="9.7">3</text>
<text x="207.02" y="557.80" font-size="13.5">10</text>
<text x="222.64" y="553.90" font-size="9.7">4</text>
<text x="256.68" y="557.80" font-size="13.5">10</text>
<text x="272.30" y="553.90" font-size="9.7">5</text>
<text x="148.84" y="584.60" font-size="17">CD42a</text>
<text x="6.72" y="313.50" font-size="16">c</text>
<text x="0" y="0" font-size="17" text-anchor="middle" transform="translate(16.2 425.3) rotate(-90)">% of max</text>
<text x="358.62" y="538.80" font-size="13.5">0</text>
<text x="351.11" y="496.42" font-size="13.5">20</text>
<text x="351.11" y="454.04" font-size="13.5">40</text>
<text x="351.11" y="411.66" font-size="13.5">60</text>
<text x="351.11" y="369.28" font-size="13.5">80</text>
<text x="343.60" y="326.90" font-size="13.5">100</text>
<text x="397.75" y="557.60" font-size="13.5">0</text>
<text x="413.72" y="557.60" font-size="13.5">10</text>
<text x="429.34" y="553.70" font-size="9.7">2</text>
<text x="466.99" y="557.60" font-size="13.5">10</text>
<text x="482.61" y="553.70" font-size="9.7">3</text>
<text x="518.22" y="557.60" font-size="13.5">10</text>
<text x="533.84" y="553.70" font-size="9.7">4</text>
<text x="567.88" y="557.60" font-size="13.5">10</text>
<text x="583.50" y="553.70" font-size="9.7">5</text>
<text x="466.54" y="584.70" font-size="17">CD42b</text>
<text x="310.73" y="313.00" font-size="16">d</text>
<text x="0" y="0" font-size="17" text-anchor="middle" transform="translate(329.7 425.0) rotate(-90)">% of max</text>
<text x="200.92" y="828.20" font-size="13.5">0</text>
<text x="193.41" y="785.92" font-size="13.5">20</text>
<text x="193.41" y="743.64" font-size="13.5">40</text>
<text x="193.41" y="701.36" font-size="13.5">60</text>
<text x="193.41" y="659.08" font-size="13.5">80</text>
<text x="185.90" y="616.80" font-size="13.5">100</text>
<text x="240.15" y="850.00" font-size="13.5">0</text>
<text x="256.12" y="850.00" font-size="13.5">10</text>
<text x="271.74" y="846.10" font-size="9.7">2</text>
<text x="309.39" y="850.00" font-size="13.5">10</text>
<text x="325.01" y="846.10" font-size="9.7">3</text>
<text x="360.62" y="850.00" font-size="13.5">10</text>
<text x="376.24" y="846.10" font-size="9.7">4</text>
<text x="410.28" y="850.00" font-size="13.5">10</text>
<text x="425.90" y="846.10" font-size="9.7">5</text>
<text x="302.44" y="875.60" font-size="17">CD41a</text>
<text x="162.22" y="609.20" font-size="16">e</text>
<text x="0" y="0" font-size="17" text-anchor="middle" transform="translate(170.8 715.6) rotate(-90)">% of max</text>
</g>
</svg></body></html>
